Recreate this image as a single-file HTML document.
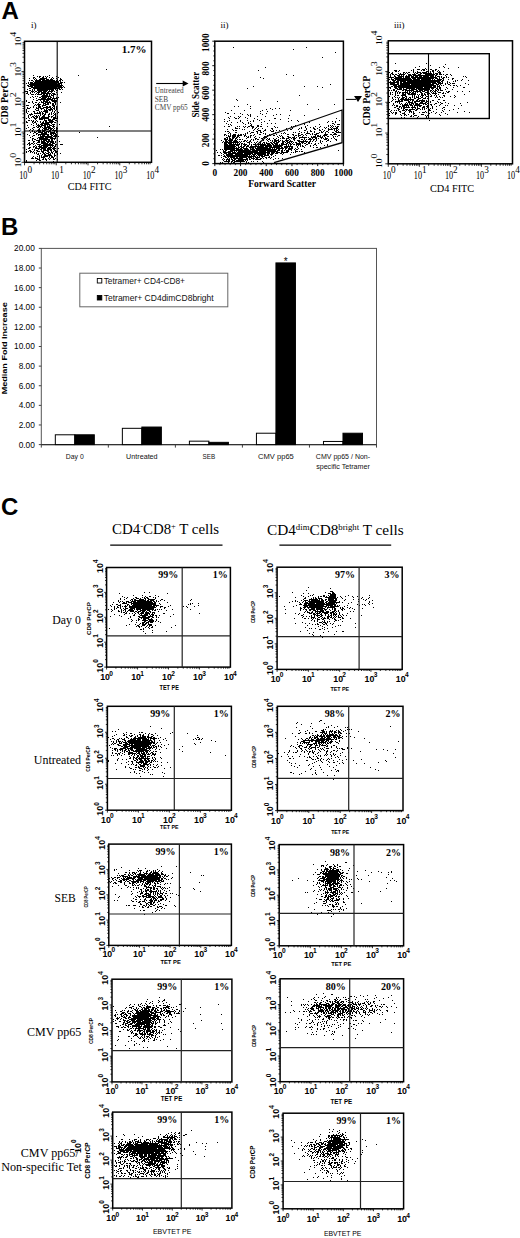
<!DOCTYPE html><html><head><meta charset="utf-8"><style>html,body{margin:0;padding:0;background:#fff}svg{display:block}</style></head><body><svg width="520" height="1238" viewBox="0 0 520 1238"><rect width="520" height="1238" fill="#fff"/><text x="1.5" y="19" font-family="Liberation Sans" font-size="24" font-weight="bold">A</text><text x="31" y="28.2" font-family="Liberation Serif" font-size="9">i)</text><path d="M106 69.5h1M33 75.5h1M49 75.5h1M78 75.5h1M37 76.5h1M39 76.5h2M43 76.5h1M45 76.5h1M47 76.5h1M56 76.5h1M33 77.5h2M39 77.5h1M42 77.5h2M46 77.5h1M49 77.5h1M52 77.5h1M58 77.5h1M29 78.5h1M33 78.5h1M35 78.5h1M40 78.5h7M51 78.5h1M53 78.5h1M56 78.5h1M60 78.5h1M34 79.5h1M36 79.5h1M39 79.5h6M46 79.5h3M50 79.5h3M57 79.5h1M60 79.5h2M29 80.5h1M31 80.5h2M35 80.5h6M42 80.5h13M56 80.5h2M59 80.5h2M62 80.5h1M33 81.5h1M35 81.5h24M60 81.5h1M28 82.5h1M30 82.5h3M34 82.5h25M60 82.5h3M64 82.5h1M26 83.5h1M28 83.5h1M30 83.5h27M58 83.5h4M29 84.5h31M61 84.5h1M27 85.5h2M30 85.5h33M28 86.5h5M34 86.5h28M63 86.5h1M31 87.5h26M58 87.5h5M64 87.5h1M29 88.5h2M33 88.5h27M61 88.5h1M27 89.5h1M32 89.5h1M34 89.5h1M37 89.5h17M55 89.5h1M57 89.5h1M59 89.5h2M62 89.5h1M29 90.5h2M32 90.5h1M34 90.5h1M37 90.5h11M49 90.5h1M51 90.5h3M56 90.5h2M25 91.5h3M31 91.5h3M35 91.5h2M38 91.5h4M43 91.5h4M48 91.5h5M54 91.5h1M27 92.5h1M30 92.5h1M32 92.5h1M34 92.5h1M37 92.5h3M41 92.5h5M47 92.5h2M51 92.5h1M56 92.5h1M61 92.5h1M26 93.5h2M30 93.5h1M36 93.5h1M38 93.5h1M41 93.5h10M52 93.5h3M28 94.5h1M31 94.5h3M35 94.5h1M37 94.5h5M43 94.5h2M46 94.5h2M49 94.5h1M51 94.5h1M53 94.5h3M57 94.5h1M42 95.5h6M49 95.5h1M51 95.5h3M32 96.5h1M35 96.5h1M37 96.5h1M41 96.5h10M53 96.5h1M30 97.5h1M33 97.5h1M39 97.5h2M42 97.5h5M48 97.5h1M50 97.5h2M53 97.5h1M56 97.5h1M58 97.5h1M36 98.5h1M41 98.5h5M47 98.5h4M52 98.5h6M33 99.5h1M38 99.5h15M54 99.5h1M57 99.5h1M26 100.5h1M36 100.5h2M40 100.5h1M43 100.5h2M46 100.5h3M51 100.5h6M26 101.5h1M32 101.5h1M41 101.5h1M43 101.5h5M49 101.5h1M52 101.5h5M28 102.5h2M32 102.5h1M35 102.5h2M39 102.5h1M41 102.5h3M45 102.5h6M54 102.5h2M60 102.5h1M33 103.5h1M38 103.5h1M43 103.5h3M47 103.5h2M50 103.5h1M52 103.5h2M55 103.5h1M35 104.5h1M37 104.5h4M43 104.5h1M45 104.5h4M52 104.5h2M55 104.5h1M26 105.5h3M34 105.5h1M36 105.5h1M38 105.5h2M42 105.5h4M52 105.5h3M33 106.5h1M38 106.5h3M42 106.5h1M46 106.5h2M49 106.5h2M53 106.5h2M56 106.5h1M27 107.5h1M30 107.5h1M33 107.5h1M36 107.5h1M38 107.5h3M43 107.5h8M52 107.5h1M54 107.5h1M56 107.5h1M27 108.5h3M36 108.5h3M40 108.5h4M46 108.5h2M50 108.5h2M53 108.5h2M56 108.5h1M26 109.5h1M35 109.5h1M38 109.5h1M41 109.5h1M44 109.5h1M46 109.5h1M48 109.5h5M54 109.5h1M56 109.5h1M26 110.5h1M36 110.5h3M44 110.5h4M49 110.5h2M52 110.5h1M55 110.5h1M26 111.5h1M28 111.5h1M33 111.5h2M39 111.5h1M41 111.5h1M43 111.5h5M52 111.5h1M54 111.5h1M57 111.5h1M26 112.5h1M34 112.5h1M37 112.5h1M39 112.5h2M42 112.5h1M45 112.5h3M51 112.5h1M54 112.5h1M58 112.5h1M27 113.5h1M31 113.5h1M34 113.5h7M42 113.5h2M45 113.5h1M49 113.5h1M51 113.5h1M53 113.5h1M55 113.5h1M57 113.5h1M29 114.5h4M40 114.5h1M42 114.5h1M44 114.5h2M48 114.5h2M51 114.5h1M54 114.5h2M28 115.5h1M30 115.5h1M34 115.5h1M36 115.5h1M38 115.5h1M40 115.5h1M43 115.5h2M48 115.5h1M53 115.5h1M55 115.5h1M28 116.5h1M32 116.5h2M35 116.5h3M39 116.5h1M42 116.5h3M48 116.5h2M51 116.5h2M55 116.5h1M57 116.5h1M28 117.5h1M31 117.5h1M33 117.5h2M36 117.5h2M39 117.5h1M41 117.5h8M51 117.5h1M53 117.5h3M57 117.5h1M26 118.5h1M29 118.5h1M34 118.5h3M39 118.5h10M53 118.5h5M35 119.5h1M39 119.5h4M44 119.5h1M48 119.5h3M52 119.5h3M28 120.5h2M31 120.5h1M33 120.5h1M36 120.5h1M44 120.5h3M48 120.5h5M55 120.5h2M26 121.5h1M32 121.5h2M35 121.5h1M37 121.5h1M40 121.5h1M43 121.5h1M45 121.5h2M49 121.5h5M57 121.5h1M26 122.5h2M32 122.5h1M34 122.5h2M40 122.5h1M42 122.5h2M45 122.5h8M54 122.5h2M33 123.5h1M36 123.5h1M41 123.5h8M51 123.5h1M31 124.5h1M36 124.5h1M38 124.5h1M40 124.5h3M44 124.5h6M52 124.5h3M59 124.5h1M27 125.5h1M33 125.5h1M37 125.5h3M41 125.5h5M47 125.5h1M49 125.5h3M53 125.5h1M36 126.5h1M38 126.5h4M44 126.5h2M47 126.5h3M52 126.5h3M109 126.5h1M28 127.5h1M33 127.5h2M37 127.5h2M40 127.5h1M42 127.5h1M44 127.5h7M53 127.5h1M56 127.5h1M26 128.5h1M32 128.5h1M39 128.5h1M43 128.5h4M48 128.5h5M54 128.5h1M56 128.5h2M30 129.5h1M33 129.5h1M38 129.5h2M42 129.5h1M44 129.5h5M50 129.5h2M53 129.5h1M56 129.5h1M29 130.5h1M32 130.5h1M37 130.5h4M42 130.5h4M49 130.5h2M52 130.5h5M32 131.5h1M34 131.5h1M36 131.5h1M38 131.5h3M42 131.5h3M46 131.5h5M54 131.5h1M56 131.5h2M30 132.5h1M34 132.5h2M38 132.5h5M44 132.5h3M48 132.5h1M50 132.5h5M56 132.5h1M79 132.5h1M33 133.5h1M36 133.5h2M41 133.5h6M50 133.5h6M27 134.5h1M36 134.5h1M38 134.5h11M50 134.5h2M53 134.5h1M55 134.5h2M29 135.5h1M33 135.5h2M38 135.5h1M40 135.5h1M42 135.5h3M47 135.5h2M51 135.5h2M54 135.5h3M32 136.5h1M40 136.5h12M53 136.5h4M58 136.5h1M30 137.5h1M38 137.5h6M45 137.5h8M55 137.5h1M97 137.5h1M32 138.5h2M37 138.5h1M39 138.5h9M50 138.5h6M32 139.5h1M34 139.5h2M39 139.5h11M51 139.5h2M54 139.5h1M28 140.5h2M32 140.5h1M36 140.5h4M41 140.5h1M43 140.5h4M48 140.5h2M51 140.5h2M57 140.5h1M33 141.5h2M38 141.5h2M41 141.5h4M46 141.5h8M55 141.5h1M59 141.5h1M29 142.5h1M33 142.5h1M37 142.5h3M41 142.5h5M47 142.5h2M50 142.5h4M55 142.5h1M28 143.5h2M31 143.5h2M34 143.5h1M36 143.5h1M41 143.5h7M49 143.5h2M52 143.5h3M27 144.5h1M29 144.5h2M33 144.5h1M37 144.5h4M43 144.5h10M55 144.5h2M60 144.5h3M29 145.5h1M35 145.5h1M39 145.5h1M41 145.5h13M55 145.5h1M33 146.5h2M36 146.5h1M38 146.5h4M43 146.5h5M50 146.5h1M52 146.5h1M54 146.5h2M29 147.5h2M33 147.5h1M35 147.5h2M39 147.5h8M48 147.5h4M53 147.5h2M28 148.5h2M35 148.5h5M41 148.5h5M47 148.5h4M52 148.5h4M58 148.5h1M26 149.5h1M32 149.5h1M34 149.5h1M38 149.5h1M40 149.5h2M43 149.5h3M47 149.5h5M53 149.5h2M29 150.5h2M34 150.5h1M36 150.5h2M41 150.5h1M43 150.5h6M50 150.5h2M54 150.5h2M26 151.5h1M28 151.5h1M30 151.5h2M33 151.5h1M37 151.5h3M41 151.5h3M47 151.5h2M51 151.5h1M53 151.5h1M55 151.5h3M26 152.5h1M30 152.5h1M32 152.5h1M34 152.5h1M36 152.5h1M42 152.5h2M45 152.5h1M48 152.5h2M51 152.5h2M55 152.5h2M34 153.5h1M36 153.5h1M38 153.5h1M40 153.5h1M43 153.5h2M46 153.5h3M50 153.5h1M52 153.5h1M54 153.5h1M57 153.5h1M60 153.5h1M37 154.5h2M42 154.5h1M44 154.5h2M48 154.5h3M54 154.5h1M57 154.5h1M39 155.5h1M41 155.5h1M44 155.5h8M54 155.5h2M33 156.5h1M37 156.5h1M39 156.5h1M41 156.5h1M43 156.5h5M49 156.5h1M51 156.5h2M54 156.5h1M32 157.5h1M35 157.5h1M39 157.5h1M41 157.5h4M49 157.5h1M51 157.5h3M31 158.5h3M35 158.5h3M39 158.5h1M43 158.5h1M45 158.5h1M48 158.5h1M50 158.5h1M53 158.5h1M55 158.5h1M37 159.5h3M42 159.5h2M45 159.5h2M49 159.5h1M53 159.5h2M57 159.5h1M26 160.5h1M36 160.5h1M39 160.5h2M46 160.5h1M26 161.5h1M53 161.5h1" stroke="#000" stroke-width="1" fill="none"/><rect x="24.5" y="41.3" width="127.0" height="121.00000000000001" fill="none" stroke="#000" stroke-width="1.5"/><line x1="57.2" y1="41.3" x2="57.2" y2="162.3" stroke="#000" stroke-width="1.1"/><line x1="24.5" y1="131" x2="151.5" y2="131" stroke="#000" stroke-width="1.1"/><line x1="24.5" y1="162.3" x2="24.5" y2="165.3" stroke="#000" stroke-width="0.8"/><line x1="34.06" y1="162.3" x2="34.06" y2="164.3" stroke="#000" stroke-width="0.8"/><line x1="39.65" y1="162.3" x2="39.65" y2="164.3" stroke="#000" stroke-width="0.8"/><line x1="43.62" y1="162.3" x2="43.62" y2="164.3" stroke="#000" stroke-width="0.8"/><line x1="46.69" y1="162.3" x2="46.69" y2="164.3" stroke="#000" stroke-width="0.8"/><line x1="49.21" y1="162.3" x2="49.21" y2="164.3" stroke="#000" stroke-width="0.8"/><line x1="51.33" y1="162.3" x2="51.33" y2="164.3" stroke="#000" stroke-width="0.8"/><line x1="53.17" y1="162.3" x2="53.17" y2="164.3" stroke="#000" stroke-width="0.8"/><line x1="54.8" y1="162.3" x2="54.8" y2="164.3" stroke="#000" stroke-width="0.8"/><line x1="56.25" y1="162.3" x2="56.25" y2="165.3" stroke="#000" stroke-width="0.8"/><line x1="65.81" y1="162.3" x2="65.81" y2="164.3" stroke="#000" stroke-width="0.8"/><line x1="71.4" y1="162.3" x2="71.4" y2="164.3" stroke="#000" stroke-width="0.8"/><line x1="75.37" y1="162.3" x2="75.37" y2="164.3" stroke="#000" stroke-width="0.8"/><line x1="78.44" y1="162.3" x2="78.44" y2="164.3" stroke="#000" stroke-width="0.8"/><line x1="80.96" y1="162.3" x2="80.96" y2="164.3" stroke="#000" stroke-width="0.8"/><line x1="83.08" y1="162.3" x2="83.08" y2="164.3" stroke="#000" stroke-width="0.8"/><line x1="84.92" y1="162.3" x2="84.92" y2="164.3" stroke="#000" stroke-width="0.8"/><line x1="86.55" y1="162.3" x2="86.55" y2="164.3" stroke="#000" stroke-width="0.8"/><line x1="88.0" y1="162.3" x2="88.0" y2="165.3" stroke="#000" stroke-width="0.8"/><line x1="97.56" y1="162.3" x2="97.56" y2="164.3" stroke="#000" stroke-width="0.8"/><line x1="103.15" y1="162.3" x2="103.15" y2="164.3" stroke="#000" stroke-width="0.8"/><line x1="107.12" y1="162.3" x2="107.12" y2="164.3" stroke="#000" stroke-width="0.8"/><line x1="110.19" y1="162.3" x2="110.19" y2="164.3" stroke="#000" stroke-width="0.8"/><line x1="112.71" y1="162.3" x2="112.71" y2="164.3" stroke="#000" stroke-width="0.8"/><line x1="114.83" y1="162.3" x2="114.83" y2="164.3" stroke="#000" stroke-width="0.8"/><line x1="116.67" y1="162.3" x2="116.67" y2="164.3" stroke="#000" stroke-width="0.8"/><line x1="118.3" y1="162.3" x2="118.3" y2="164.3" stroke="#000" stroke-width="0.8"/><line x1="119.75" y1="162.3" x2="119.75" y2="165.3" stroke="#000" stroke-width="0.8"/><line x1="129.31" y1="162.3" x2="129.31" y2="164.3" stroke="#000" stroke-width="0.8"/><line x1="134.9" y1="162.3" x2="134.9" y2="164.3" stroke="#000" stroke-width="0.8"/><line x1="138.87" y1="162.3" x2="138.87" y2="164.3" stroke="#000" stroke-width="0.8"/><line x1="141.94" y1="162.3" x2="141.94" y2="164.3" stroke="#000" stroke-width="0.8"/><line x1="144.46" y1="162.3" x2="144.46" y2="164.3" stroke="#000" stroke-width="0.8"/><line x1="146.58" y1="162.3" x2="146.58" y2="164.3" stroke="#000" stroke-width="0.8"/><line x1="148.42" y1="162.3" x2="148.42" y2="164.3" stroke="#000" stroke-width="0.8"/><line x1="150.05" y1="162.3" x2="150.05" y2="164.3" stroke="#000" stroke-width="0.8"/><line x1="24.5" y1="162.3" x2="21.5" y2="162.3" stroke="#000" stroke-width="0.8"/><line x1="24.5" y1="153.19" x2="22.5" y2="153.19" stroke="#000" stroke-width="0.8"/><line x1="24.5" y1="147.87" x2="22.5" y2="147.87" stroke="#000" stroke-width="0.8"/><line x1="24.5" y1="144.09" x2="22.5" y2="144.09" stroke="#000" stroke-width="0.8"/><line x1="24.5" y1="141.16" x2="22.5" y2="141.16" stroke="#000" stroke-width="0.8"/><line x1="24.5" y1="138.76" x2="22.5" y2="138.76" stroke="#000" stroke-width="0.8"/><line x1="24.5" y1="136.74" x2="22.5" y2="136.74" stroke="#000" stroke-width="0.8"/><line x1="24.5" y1="134.98" x2="22.5" y2="134.98" stroke="#000" stroke-width="0.8"/><line x1="24.5" y1="133.43" x2="22.5" y2="133.43" stroke="#000" stroke-width="0.8"/><line x1="24.5" y1="132.05" x2="21.5" y2="132.05" stroke="#000" stroke-width="0.8"/><line x1="24.5" y1="122.94" x2="22.5" y2="122.94" stroke="#000" stroke-width="0.8"/><line x1="24.5" y1="117.62" x2="22.5" y2="117.62" stroke="#000" stroke-width="0.8"/><line x1="24.5" y1="113.84" x2="22.5" y2="113.84" stroke="#000" stroke-width="0.8"/><line x1="24.5" y1="110.91" x2="22.5" y2="110.91" stroke="#000" stroke-width="0.8"/><line x1="24.5" y1="108.51" x2="22.5" y2="108.51" stroke="#000" stroke-width="0.8"/><line x1="24.5" y1="106.49" x2="22.5" y2="106.49" stroke="#000" stroke-width="0.8"/><line x1="24.5" y1="104.73" x2="22.5" y2="104.73" stroke="#000" stroke-width="0.8"/><line x1="24.5" y1="103.18" x2="22.5" y2="103.18" stroke="#000" stroke-width="0.8"/><line x1="24.5" y1="101.8" x2="21.5" y2="101.8" stroke="#000" stroke-width="0.8"/><line x1="24.5" y1="92.69" x2="22.5" y2="92.69" stroke="#000" stroke-width="0.8"/><line x1="24.5" y1="87.37" x2="22.5" y2="87.37" stroke="#000" stroke-width="0.8"/><line x1="24.5" y1="83.59" x2="22.5" y2="83.59" stroke="#000" stroke-width="0.8"/><line x1="24.5" y1="80.66" x2="22.5" y2="80.66" stroke="#000" stroke-width="0.8"/><line x1="24.5" y1="78.26" x2="22.5" y2="78.26" stroke="#000" stroke-width="0.8"/><line x1="24.5" y1="76.24" x2="22.5" y2="76.24" stroke="#000" stroke-width="0.8"/><line x1="24.5" y1="74.48" x2="22.5" y2="74.48" stroke="#000" stroke-width="0.8"/><line x1="24.5" y1="72.93" x2="22.5" y2="72.93" stroke="#000" stroke-width="0.8"/><line x1="24.5" y1="71.55" x2="21.5" y2="71.55" stroke="#000" stroke-width="0.8"/><line x1="24.5" y1="62.44" x2="22.5" y2="62.44" stroke="#000" stroke-width="0.8"/><line x1="24.5" y1="57.12" x2="22.5" y2="57.12" stroke="#000" stroke-width="0.8"/><line x1="24.5" y1="53.34" x2="22.5" y2="53.34" stroke="#000" stroke-width="0.8"/><line x1="24.5" y1="50.41" x2="22.5" y2="50.41" stroke="#000" stroke-width="0.8"/><line x1="24.5" y1="48.01" x2="22.5" y2="48.01" stroke="#000" stroke-width="0.8"/><line x1="24.5" y1="45.99" x2="22.5" y2="45.99" stroke="#000" stroke-width="0.8"/><line x1="24.5" y1="44.23" x2="22.5" y2="44.23" stroke="#000" stroke-width="0.8"/><line x1="24.5" y1="42.68" x2="22.5" y2="42.68" stroke="#000" stroke-width="0.8"/><text x="146.5" y="53" font-family="Liberation Serif" font-size="11" text-anchor="end" font-weight="bold">1.7%</text><text x="21.1" y="167.35" font-family="Liberation Serif" font-size="8.6" textLength="9.5" lengthAdjust="spacingAndGlyphs" transform="rotate(-90 21.1 167.35)">10</text><text x="16.5" y="157.85" font-family="Liberation Serif" font-size="8.8" textLength="5.0" lengthAdjust="spacingAndGlyphs" transform="rotate(-90 16.5 157.85)">0</text><text x="19.2" y="178.75" font-family="Liberation Serif" font-size="12" textLength="8.2" lengthAdjust="spacingAndGlyphs">10</text><text x="27.4" y="173.0" font-family="Liberation Serif" font-size="10" textLength="4.6" lengthAdjust="spacingAndGlyphs">0</text><text x="21.1" y="137.1" font-family="Liberation Serif" font-size="8.6" textLength="9.5" lengthAdjust="spacingAndGlyphs" transform="rotate(-90 21.1 137.1)">10</text><text x="16.5" y="127.6" font-family="Liberation Serif" font-size="8.8" textLength="5.0" lengthAdjust="spacingAndGlyphs" transform="rotate(-90 16.5 127.6)">1</text><text x="50.95" y="178.75" font-family="Liberation Serif" font-size="12" textLength="8.2" lengthAdjust="spacingAndGlyphs">10</text><text x="59.15" y="173.0" font-family="Liberation Serif" font-size="10" textLength="4.6" lengthAdjust="spacingAndGlyphs">1</text><text x="21.1" y="106.85" font-family="Liberation Serif" font-size="8.6" textLength="9.5" lengthAdjust="spacingAndGlyphs" transform="rotate(-90 21.1 106.85)">10</text><text x="16.5" y="97.35" font-family="Liberation Serif" font-size="8.8" textLength="5.0" lengthAdjust="spacingAndGlyphs" transform="rotate(-90 16.5 97.35)">2</text><text x="82.7" y="178.75" font-family="Liberation Serif" font-size="12" textLength="8.2" lengthAdjust="spacingAndGlyphs">10</text><text x="90.9" y="173.0" font-family="Liberation Serif" font-size="10" textLength="4.6" lengthAdjust="spacingAndGlyphs">2</text><text x="21.1" y="76.6" font-family="Liberation Serif" font-size="8.6" textLength="9.5" lengthAdjust="spacingAndGlyphs" transform="rotate(-90 21.1 76.6)">10</text><text x="16.5" y="67.1" font-family="Liberation Serif" font-size="8.8" textLength="5.0" lengthAdjust="spacingAndGlyphs" transform="rotate(-90 16.5 67.1)">3</text><text x="114.45" y="178.75" font-family="Liberation Serif" font-size="12" textLength="8.2" lengthAdjust="spacingAndGlyphs">10</text><text x="122.65" y="173.0" font-family="Liberation Serif" font-size="10" textLength="4.6" lengthAdjust="spacingAndGlyphs">3</text><text x="21.1" y="46.35" font-family="Liberation Serif" font-size="8.6" textLength="9.5" lengthAdjust="spacingAndGlyphs" transform="rotate(-90 21.1 46.35)">10</text><text x="16.5" y="36.85" font-family="Liberation Serif" font-size="8.8" textLength="5.0" lengthAdjust="spacingAndGlyphs" transform="rotate(-90 16.5 36.85)">4</text><text x="146.2" y="178.75" font-family="Liberation Serif" font-size="12" textLength="8.2" lengthAdjust="spacingAndGlyphs">10</text><text x="154.4" y="173.0" font-family="Liberation Serif" font-size="10" textLength="4.6" lengthAdjust="spacingAndGlyphs">4</text><text x="8.1" y="100" font-family="Liberation Serif" font-size="10" text-anchor="middle" font-weight="bold" textLength="49" lengthAdjust="spacingAndGlyphs" transform="rotate(-90 8.1 100)">CD8 PerCP</text><text x="67.7" y="189.8" font-family="Liberation Serif" font-size="10.2" textLength="43.8" lengthAdjust="spacingAndGlyphs">CD4 FITC</text><line x1="156.2" y1="83.5" x2="184" y2="83.5" stroke="#000" stroke-width="1.1"/><path d="M182.7 80.6L188.5 83.5L182.7 86.4Z" fill="#000"/><text x="154.8" y="93.1" font-family="Liberation Serif" font-size="7.3" fill="#444">Untreated</text><text x="154.8" y="101.7" font-family="Liberation Serif" font-size="7.3" fill="#444">SEB</text><text x="154.8" y="109.9" font-family="Liberation Serif" font-size="7.3" fill="#444">CMV pp65</text><text x="220.5" y="28.2" font-family="Liberation Serif" font-size="9">ii)</text><path d="M233 47.5h1M306 47.5h1M293 49.5h1M335 52.5h1M322 57.5h1M265 67.5h1M258 70.5h1M286 74.5h1M293 75.5h1M260 77.5h1M263 78.5h1M330 84.5h1M253 86.5h1M304 86.5h1M317 86.5h1M322 87.5h1M247 88.5h1M299 95.5h1M236 99.5h1M237 100.5h1M260 100.5h1M277 101.5h1M247 104.5h1M307 104.5h1M334 104.5h1M234 106.5h1M238 106.5h1M250 106.5h1M250 108.5h1M270 108.5h1M275 108.5h1M279 108.5h1M266 109.5h1M272 109.5h1M318 109.5h1M231 110.5h1M244 110.5h1M262 110.5h1M290 110.5h1M260 111.5h1M267 111.5h1M225 112.5h1M227 113.5h2M234 113.5h1M240 113.5h1M260 113.5h1M266 113.5h1M242 114.5h1M247 114.5h1M250 114.5h1M262 114.5h1M276 114.5h1M280 114.5h1M248 115.5h1M250 115.5h1M273 115.5h1M289 115.5h1M304 115.5h1M230 116.5h1M238 116.5h1M240 116.5h1M250 116.5h1M257 116.5h1M265 116.5h1M228 117.5h1M234 117.5h1M239 117.5h1M245 117.5h1M229 118.5h1M235 118.5h2M238 118.5h1M247 118.5h1M254 118.5h1M274 118.5h2M288 118.5h1M336 118.5h1M224 119.5h1M257 119.5h1M261 119.5h1M280 119.5h1M229 120.5h1M240 120.5h1M247 120.5h1M253 120.5h1M259 120.5h1M269 120.5h1M291 120.5h1M297 120.5h1M339 120.5h1M224 121.5h1M227 121.5h1M240 121.5h1M250 121.5h1M253 121.5h1M264 121.5h1M288 121.5h1M298 121.5h1M328 121.5h1M332 121.5h1M335 121.5h1M231 122.5h1M237 122.5h1M242 122.5h1M248 122.5h1M261 122.5h1M309 122.5h1M327 122.5h1M335 122.5h1M226 123.5h1M243 123.5h1M248 123.5h1M250 123.5h1M267 123.5h1M271 123.5h1M275 123.5h1M304 123.5h1M332 123.5h2M228 124.5h1M230 124.5h1M245 124.5h1M251 124.5h1M261 124.5h1M304 124.5h1M319 124.5h1M334 124.5h1M337 124.5h3M231 125.5h1M250 125.5h2M257 125.5h2M295 125.5h1M307 125.5h1M328 125.5h1M330 125.5h1M332 125.5h1M224 126.5h1M228 126.5h2M237 126.5h1M239 126.5h1M243 126.5h1M245 126.5h1M248 126.5h2M251 126.5h3M257 126.5h2M260 126.5h2M267 126.5h1M274 126.5h1M291 126.5h1M293 126.5h1M305 126.5h1M315 126.5h1M320 126.5h1M328 126.5h1M331 126.5h1M333 126.5h1M335 126.5h1M337 126.5h2M235 127.5h1M244 127.5h1M247 127.5h1M252 127.5h2M256 127.5h1M275 127.5h1M277 127.5h1M301 127.5h1M305 127.5h1M310 127.5h1M313 127.5h1M319 127.5h1M324 127.5h1M326 127.5h1M330 127.5h1M332 127.5h1M336 127.5h2M235 128.5h3M239 128.5h1M252 128.5h1M255 128.5h1M258 128.5h1M262 128.5h1M271 128.5h2M286 128.5h1M292 128.5h1M299 128.5h1M301 128.5h1M306 128.5h1M313 128.5h2M317 128.5h1M325 128.5h1M328 128.5h1M331 128.5h1M333 128.5h5M227 129.5h1M232 129.5h1M242 129.5h1M244 129.5h1M254 129.5h1M257 129.5h1M265 129.5h1M272 129.5h1M290 129.5h2M298 129.5h1M306 129.5h1M314 129.5h2M319 129.5h1M322 129.5h1M328 129.5h5M334 129.5h1M336 129.5h1M338 129.5h1M233 130.5h1M235 130.5h2M253 130.5h1M258 130.5h3M264 130.5h2M270 130.5h1M273 130.5h1M276 130.5h1M279 130.5h1M287 130.5h1M304 130.5h2M310 130.5h1M319 130.5h2M324 130.5h1M328 130.5h1M334 130.5h1M336 130.5h2M225 131.5h1M227 131.5h2M249 131.5h1M256 131.5h2M260 131.5h1M263 131.5h1M271 131.5h3M299 131.5h1M307 131.5h1M310 131.5h2M314 131.5h1M321 131.5h1M323 131.5h1M326 131.5h2M335 131.5h2M338 131.5h1M229 132.5h1M235 132.5h2M247 132.5h1M251 132.5h3M257 132.5h1M260 132.5h2M275 132.5h1M278 132.5h1M284 132.5h1M293 132.5h1M295 132.5h1M301 132.5h1M304 132.5h1M307 132.5h1M314 132.5h1M319 132.5h1M321 132.5h2M325 132.5h1M328 132.5h1M332 132.5h2M336 132.5h5M228 133.5h1M230 133.5h1M245 133.5h1M247 133.5h1M250 133.5h1M257 133.5h1M263 133.5h1M265 133.5h1M273 133.5h2M281 133.5h1M283 133.5h1M285 133.5h1M298 133.5h2M306 133.5h4M312 133.5h1M316 133.5h3M325 133.5h1M334 133.5h2M224 134.5h2M230 134.5h1M233 134.5h3M238 134.5h1M240 134.5h2M243 134.5h1M245 134.5h1M254 134.5h1M259 134.5h2M265 134.5h1M269 134.5h1M271 134.5h1M276 134.5h1M287 134.5h2M292 134.5h2M298 134.5h1M301 134.5h2M305 134.5h1M310 134.5h1M312 134.5h1M314 134.5h3M324 134.5h4M330 134.5h2M333 134.5h4M224 135.5h1M226 135.5h1M228 135.5h1M230 135.5h1M232 135.5h4M237 135.5h5M244 135.5h2M250 135.5h2M253 135.5h1M267 135.5h1M270 135.5h1M273 135.5h2M279 135.5h1M281 135.5h1M293 135.5h1M295 135.5h2M298 135.5h3M303 135.5h1M306 135.5h1M315 135.5h1M317 135.5h2M320 135.5h1M323 135.5h4M332 135.5h1M338 135.5h2M228 136.5h3M232 136.5h4M237 136.5h2M244 136.5h1M246 136.5h1M248 136.5h1M250 136.5h1M255 136.5h1M264 136.5h2M267 136.5h1M277 136.5h1M280 136.5h1M282 136.5h1M287 136.5h2M294 136.5h1M298 136.5h1M302 136.5h1M311 136.5h1M313 136.5h3M317 136.5h4M322 136.5h1M324 136.5h1M327 136.5h2M333 136.5h1M335 136.5h1M337 136.5h1M226 137.5h2M229 137.5h1M232 137.5h3M236 137.5h2M239 137.5h1M247 137.5h2M250 137.5h1M254 137.5h1M259 137.5h1M263 137.5h2M266 137.5h1M278 137.5h1M282 137.5h2M288 137.5h3M292 137.5h3M296 137.5h1M299 137.5h8M308 137.5h1M311 137.5h6M320 137.5h3M325 137.5h1M333 137.5h1M224 138.5h2M227 138.5h1M229 138.5h2M232 138.5h2M235 138.5h2M246 138.5h1M255 138.5h2M261 138.5h2M264 138.5h1M267 138.5h1M269 138.5h1M273 138.5h1M276 138.5h1M280 138.5h1M282 138.5h3M286 138.5h3M291 138.5h1M293 138.5h3M299 138.5h1M304 138.5h1M309 138.5h2M312 138.5h1M315 138.5h2M318 138.5h1M321 138.5h1M323 138.5h1M325 138.5h3M331 138.5h1M334 138.5h1M224 139.5h4M229 139.5h4M235 139.5h1M237 139.5h1M239 139.5h2M242 139.5h1M251 139.5h1M253 139.5h1M255 139.5h1M257 139.5h2M262 139.5h2M266 139.5h1M268 139.5h2M274 139.5h2M278 139.5h1M286 139.5h1M289 139.5h1M293 139.5h2M301 139.5h2M304 139.5h1M306 139.5h1M308 139.5h4M313 139.5h2M316 139.5h1M324 139.5h3M328 139.5h1M335 139.5h2M221 140.5h1M225 140.5h2M228 140.5h5M234 140.5h3M244 140.5h2M247 140.5h1M250 140.5h1M253 140.5h1M263 140.5h1M267 140.5h1M270 140.5h1M272 140.5h1M274 140.5h5M280 140.5h1M282 140.5h1M285 140.5h4M290 140.5h1M294 140.5h1M297 140.5h3M303 140.5h1M305 140.5h1M310 140.5h1M313 140.5h1M316 140.5h1M320 140.5h1M327 140.5h2M336 140.5h1M223 141.5h1M225 141.5h3M229 141.5h3M233 141.5h5M239 141.5h1M241 141.5h1M243 141.5h2M246 141.5h1M249 141.5h2M257 141.5h1M260 141.5h1M268 141.5h1M272 141.5h1M274 141.5h3M278 141.5h2M282 141.5h3M286 141.5h2M289 141.5h4M298 141.5h10M309 141.5h2M312 141.5h1M315 141.5h1M320 141.5h1M322 141.5h1M326 141.5h1M330 141.5h1M222 142.5h1M224 142.5h15M240 142.5h1M247 142.5h3M251 142.5h1M254 142.5h1M256 142.5h1M259 142.5h2M263 142.5h2M266 142.5h1M270 142.5h2M273 142.5h2M276 142.5h3M282 142.5h2M285 142.5h1M287 142.5h3M291 142.5h1M293 142.5h1M295 142.5h2M299 142.5h1M301 142.5h3M306 142.5h1M308 142.5h2M320 142.5h1M224 143.5h3M228 143.5h4M233 143.5h1M235 143.5h1M237 143.5h1M239 143.5h1M241 143.5h2M244 143.5h1M249 143.5h1M255 143.5h1M260 143.5h1M262 143.5h1M264 143.5h1M266 143.5h4M271 143.5h2M274 143.5h4M281 143.5h3M286 143.5h2M289 143.5h2M292 143.5h1M296 143.5h5M302 143.5h1M304 143.5h2M308 143.5h2M311 143.5h1M315 143.5h1M318 143.5h1M321 143.5h1M224 144.5h4M229 144.5h11M241 144.5h1M243 144.5h4M249 144.5h1M251 144.5h1M253 144.5h3M257 144.5h9M267 144.5h4M272 144.5h2M275 144.5h3M279 144.5h1M281 144.5h6M288 144.5h1M290 144.5h2M293 144.5h2M296 144.5h5M306 144.5h2M314 144.5h2M327 144.5h1M335 144.5h1M224 145.5h11M236 145.5h3M241 145.5h1M244 145.5h2M247 145.5h2M251 145.5h1M255 145.5h1M258 145.5h1M260 145.5h12M273 145.5h10M286 145.5h1M288 145.5h1M290 145.5h1M296 145.5h1M298 145.5h1M300 145.5h1M302 145.5h1M305 145.5h1M310 145.5h1M313 145.5h1M316 145.5h1M324 145.5h1M327 145.5h1M224 146.5h12M238 146.5h1M240 146.5h2M243 146.5h2M246 146.5h3M250 146.5h14M265 146.5h7M273 146.5h9M284 146.5h9M297 146.5h1M300 146.5h1M302 146.5h2M310 146.5h1M328 146.5h1M224 147.5h11M236 147.5h1M238 147.5h2M241 147.5h3M246 147.5h1M249 147.5h5M255 147.5h1M257 147.5h11M269 147.5h11M281 147.5h2M284 147.5h4M289 147.5h1M291 147.5h2M297 147.5h1M304 147.5h1M313 147.5h1M316 147.5h2M320 147.5h1M224 148.5h15M240 148.5h2M243 148.5h5M250 148.5h1M252 148.5h2M255 148.5h16M272 148.5h1M274 148.5h1M276 148.5h8M285 148.5h2M288 148.5h5M295 148.5h1M298 148.5h1M220 149.5h1M222 149.5h1M224 149.5h11M236 149.5h7M244 149.5h5M250 149.5h5M256 149.5h21M278 149.5h2M282 149.5h1M285 149.5h1M288 149.5h4M294 149.5h1M296 149.5h2M301 149.5h1M216 150.5h1M223 150.5h1M225 150.5h2M230 150.5h20M252 150.5h24M277 150.5h3M281 150.5h2M284 150.5h1M286 150.5h3M291 150.5h1M295 150.5h1M338 150.5h1M223 151.5h3M228 151.5h5M234 151.5h1M236 151.5h1M238 151.5h20M259 151.5h7M267 151.5h11M281 151.5h2M286 151.5h3M295 151.5h3M299 151.5h1M301 151.5h2M217 152.5h1M220 152.5h1M223 152.5h8M232 152.5h4M237 152.5h33M271 152.5h4M276 152.5h4M281 152.5h7M291 152.5h1M293 152.5h1M295 152.5h1M304 152.5h1M221 153.5h1M224 153.5h3M228 153.5h15M244 153.5h9M254 153.5h12M267 153.5h3M271 153.5h3M275 153.5h3M280 153.5h2M283 153.5h1M223 154.5h1M226 154.5h7M235 154.5h16M252 154.5h4M257 154.5h9M267 154.5h2M270 154.5h3M282 154.5h1M290 154.5h1M218 155.5h2M221 155.5h1M224 155.5h1M226 155.5h22M249 155.5h1M251 155.5h1M253 155.5h2M256 155.5h1M258 155.5h5M264 155.5h5M271 155.5h1M275 155.5h1M223 156.5h3M227 156.5h29M257 156.5h1M259 156.5h1M261 156.5h4M269 156.5h1M273 156.5h1M221 157.5h1M225 157.5h2M228 157.5h1M230 157.5h5M236 157.5h2M239 157.5h8M248 157.5h4M253 157.5h1M255 157.5h5M262 157.5h1M265 157.5h2M268 157.5h2M271 157.5h1M223 158.5h1M227 158.5h1M229 158.5h1M231 158.5h1M233 158.5h10M246 158.5h2M249 158.5h1M251 158.5h4M256 158.5h2M260 158.5h2M263 158.5h1M266 158.5h1M270 158.5h1M275 158.5h1M278 158.5h1M282 158.5h1M222 159.5h1M224 159.5h1M226 159.5h4M231 159.5h2M234 159.5h2M238 159.5h1M240 159.5h8M249 159.5h2M253 159.5h1M255 159.5h6M273 159.5h1M223 160.5h1M226 160.5h1M228 160.5h2M232 160.5h3M236 160.5h8M245 160.5h1M247 160.5h1M224 161.5h6M231 161.5h2M234 161.5h11M246 161.5h1M251 161.5h1M253 161.5h1M257 161.5h1M262 161.5h1M220 162.5h1M222 162.5h1M228 162.5h1M231 162.5h1M233 162.5h2M240 162.5h1M246 162.5h1M248 162.5h1M263 162.5h1" stroke="#000" stroke-width="1" fill="none"/><rect x="214.8" y="41.2" width="128.59999999999997" height="122.39999999999999" fill="none" stroke="#000" stroke-width="1.5"/><path d="M237.5 161L267 136.3L342 110L342 142.7L274 162.6" fill="none" stroke="#000" stroke-width="1.2"/><line x1="214.8" y1="163.6" x2="212.3" y2="163.6" stroke="#000" stroke-width="0.9"/><line x1="214.8" y1="158.704" x2="213.3" y2="158.704" stroke="#000" stroke-width="0.8"/><line x1="214.8" y1="153.808" x2="213.3" y2="153.808" stroke="#000" stroke-width="0.8"/><line x1="214.8" y1="148.912" x2="213.3" y2="148.912" stroke="#000" stroke-width="0.8"/><line x1="214.8" y1="144.016" x2="213.3" y2="144.016" stroke="#000" stroke-width="0.8"/><text x="209.3" y="163.3" font-family="Liberation Serif" font-size="9.3" text-anchor="middle" font-weight="bold" transform="rotate(-90 209.3 163.3)">0</text><line x1="214.8" y1="139.12" x2="212.3" y2="139.12" stroke="#000" stroke-width="0.9"/><line x1="214.8" y1="134.22400000000002" x2="213.3" y2="134.22400000000002" stroke="#000" stroke-width="0.8"/><line x1="214.8" y1="129.328" x2="213.3" y2="129.328" stroke="#000" stroke-width="0.8"/><line x1="214.8" y1="124.432" x2="213.3" y2="124.432" stroke="#000" stroke-width="0.8"/><line x1="214.8" y1="119.536" x2="213.3" y2="119.536" stroke="#000" stroke-width="0.8"/><text x="209.3" y="140.2" font-family="Liberation Serif" font-size="9.3" text-anchor="middle" font-weight="bold" transform="rotate(-90 209.3 140.2)">200</text><line x1="214.8" y1="114.64" x2="212.3" y2="114.64" stroke="#000" stroke-width="0.9"/><line x1="214.8" y1="109.744" x2="213.3" y2="109.744" stroke="#000" stroke-width="0.8"/><line x1="214.8" y1="104.848" x2="213.3" y2="104.848" stroke="#000" stroke-width="0.8"/><line x1="214.8" y1="99.952" x2="213.3" y2="99.952" stroke="#000" stroke-width="0.8"/><line x1="214.8" y1="95.05600000000001" x2="213.3" y2="95.05600000000001" stroke="#000" stroke-width="0.8"/><text x="209.3" y="114.6" font-family="Liberation Serif" font-size="9.3" text-anchor="middle" font-weight="bold" transform="rotate(-90 209.3 114.6)">400</text><line x1="214.8" y1="90.16" x2="212.3" y2="90.16" stroke="#000" stroke-width="0.9"/><line x1="214.8" y1="85.264" x2="213.3" y2="85.264" stroke="#000" stroke-width="0.8"/><line x1="214.8" y1="80.368" x2="213.3" y2="80.368" stroke="#000" stroke-width="0.8"/><line x1="214.8" y1="75.472" x2="213.3" y2="75.472" stroke="#000" stroke-width="0.8"/><line x1="214.8" y1="70.576" x2="213.3" y2="70.576" stroke="#000" stroke-width="0.8"/><text x="209.3" y="92.7" font-family="Liberation Serif" font-size="9.3" text-anchor="middle" font-weight="bold" transform="rotate(-90 209.3 92.7)">600</text><line x1="214.8" y1="65.68" x2="212.3" y2="65.68" stroke="#000" stroke-width="0.9"/><line x1="214.8" y1="60.784000000000006" x2="213.3" y2="60.784000000000006" stroke="#000" stroke-width="0.8"/><line x1="214.8" y1="55.888000000000005" x2="213.3" y2="55.888000000000005" stroke="#000" stroke-width="0.8"/><line x1="214.8" y1="50.992000000000004" x2="213.3" y2="50.992000000000004" stroke="#000" stroke-width="0.8"/><line x1="214.8" y1="46.09600000000001" x2="213.3" y2="46.09600000000001" stroke="#000" stroke-width="0.8"/><text x="209.3" y="68.4" font-family="Liberation Serif" font-size="9.3" text-anchor="middle" font-weight="bold" transform="rotate(-90 209.3 68.4)">800</text><line x1="214.8" y1="41.20000000000002" x2="212.3" y2="41.20000000000002" stroke="#000" stroke-width="0.9"/><text x="209.3" y="42.7" font-family="Liberation Serif" font-size="9.3" text-anchor="middle" font-weight="bold" transform="rotate(-90 209.3 42.7)">1000</text><line x1="214.8" y1="163.6" x2="214.8" y2="166.1" stroke="#000" stroke-width="0.9"/><line x1="219.94400000000002" y1="163.6" x2="219.94400000000002" y2="165.1" stroke="#000" stroke-width="0.8"/><line x1="225.08800000000002" y1="163.6" x2="225.08800000000002" y2="165.1" stroke="#000" stroke-width="0.8"/><line x1="230.232" y1="163.6" x2="230.232" y2="165.1" stroke="#000" stroke-width="0.8"/><line x1="235.376" y1="163.6" x2="235.376" y2="165.1" stroke="#000" stroke-width="0.8"/><text x="214.8" y="175.5" font-family="Liberation Serif" font-size="9.3" text-anchor="middle" font-weight="bold">0</text><line x1="240.52" y1="163.6" x2="240.52" y2="166.1" stroke="#000" stroke-width="0.9"/><line x1="245.66400000000002" y1="163.6" x2="245.66400000000002" y2="165.1" stroke="#000" stroke-width="0.8"/><line x1="250.808" y1="163.6" x2="250.808" y2="165.1" stroke="#000" stroke-width="0.8"/><line x1="255.952" y1="163.6" x2="255.952" y2="165.1" stroke="#000" stroke-width="0.8"/><line x1="261.096" y1="163.6" x2="261.096" y2="165.1" stroke="#000" stroke-width="0.8"/><text x="240.52" y="175.5" font-family="Liberation Serif" font-size="9.3" text-anchor="middle" font-weight="bold">200</text><line x1="266.24" y1="163.6" x2="266.24" y2="166.1" stroke="#000" stroke-width="0.9"/><line x1="271.384" y1="163.6" x2="271.384" y2="165.1" stroke="#000" stroke-width="0.8"/><line x1="276.528" y1="163.6" x2="276.528" y2="165.1" stroke="#000" stroke-width="0.8"/><line x1="281.672" y1="163.6" x2="281.672" y2="165.1" stroke="#000" stroke-width="0.8"/><line x1="286.81600000000003" y1="163.6" x2="286.81600000000003" y2="165.1" stroke="#000" stroke-width="0.8"/><text x="266.24" y="175.5" font-family="Liberation Serif" font-size="9.3" text-anchor="middle" font-weight="bold">400</text><line x1="291.96" y1="163.6" x2="291.96" y2="166.1" stroke="#000" stroke-width="0.9"/><line x1="297.104" y1="163.6" x2="297.104" y2="165.1" stroke="#000" stroke-width="0.8"/><line x1="302.248" y1="163.6" x2="302.248" y2="165.1" stroke="#000" stroke-width="0.8"/><line x1="307.392" y1="163.6" x2="307.392" y2="165.1" stroke="#000" stroke-width="0.8"/><line x1="312.53599999999994" y1="163.6" x2="312.53599999999994" y2="165.1" stroke="#000" stroke-width="0.8"/><text x="291.96" y="175.5" font-family="Liberation Serif" font-size="9.3" text-anchor="middle" font-weight="bold">600</text><line x1="317.67999999999995" y1="163.6" x2="317.67999999999995" y2="166.1" stroke="#000" stroke-width="0.9"/><line x1="322.82399999999996" y1="163.6" x2="322.82399999999996" y2="165.1" stroke="#000" stroke-width="0.8"/><line x1="327.96799999999996" y1="163.6" x2="327.96799999999996" y2="165.1" stroke="#000" stroke-width="0.8"/><line x1="333.11199999999997" y1="163.6" x2="333.11199999999997" y2="165.1" stroke="#000" stroke-width="0.8"/><line x1="338.256" y1="163.6" x2="338.256" y2="165.1" stroke="#000" stroke-width="0.8"/><text x="317.68" y="175.5" font-family="Liberation Serif" font-size="9.3" text-anchor="middle" font-weight="bold">800</text><line x1="343.4" y1="163.6" x2="343.4" y2="166.1" stroke="#000" stroke-width="0.9"/><text x="343.4" y="175.5" font-family="Liberation Serif" font-size="9.3" text-anchor="middle" font-weight="bold">1000</text><text x="198.6" y="94.7" font-family="Liberation Serif" font-size="9.5" text-anchor="middle" font-weight="bold" textLength="45.8" lengthAdjust="spacingAndGlyphs" transform="rotate(-90 198.6 94.7)">Side Scatter</text><text x="282.1" y="186.5" font-family="Liberation Serif" font-size="9.5" text-anchor="middle" font-weight="bold" textLength="67.8" lengthAdjust="spacingAndGlyphs">Forward Scatter</text><line x1="346" y1="99.4" x2="356" y2="99.4" stroke="#000" stroke-width="1"/><path d="M354 96L362 96L358 102Z" fill="#000"/><text x="394" y="28.2" font-family="Liberation Serif" font-size="9">iii)</text><path d="M395 63.5h1M426 63.5h1M445 64.5h1M428 65.5h1M430 65.5h1M419 66.5h1M443 66.5h1M415 67.5h1M439 67.5h1M444 67.5h1M458 67.5h1M425 68.5h1M448 68.5h1M413 69.5h1M417 69.5h3M422 69.5h3M426 69.5h1M428 69.5h1M430 69.5h2M435 69.5h2M394 70.5h3M399 70.5h1M411 70.5h1M413 70.5h1M421 70.5h1M423 70.5h2M428 70.5h1M432 70.5h2M435 70.5h1M438 70.5h1M395 71.5h2M398 71.5h1M413 71.5h1M417 71.5h1M426 71.5h3M430 71.5h1M432 71.5h2M437 71.5h1M439 71.5h1M443 71.5h1M389 72.5h1M392 72.5h1M403 72.5h2M406 72.5h1M408 72.5h2M413 72.5h1M415 72.5h1M417 72.5h4M422 72.5h5M428 72.5h1M430 72.5h1M433 72.5h1M438 72.5h3M391 73.5h2M398 73.5h1M400 73.5h1M403 73.5h1M405 73.5h1M407 73.5h1M414 73.5h1M416 73.5h2M420 73.5h2M423 73.5h9M433 73.5h1M435 73.5h3M439 73.5h2M390 74.5h1M392 74.5h2M395 74.5h2M399 74.5h6M408 74.5h3M412 74.5h4M418 74.5h3M425 74.5h10M436 74.5h2M439 74.5h3M443 74.5h1M446 74.5h2M450 74.5h1M390 75.5h1M394 75.5h1M397 75.5h3M401 75.5h1M403 75.5h1M406 75.5h1M408 75.5h4M413 75.5h21M435 75.5h2M445 75.5h1M451 75.5h1M390 76.5h1M394 76.5h2M398 76.5h6M405 76.5h5M411 76.5h3M415 76.5h3M419 76.5h3M423 76.5h6M430 76.5h4M435 76.5h1M437 76.5h3M441 76.5h1M446 76.5h1M463 76.5h1M465 76.5h1M389 77.5h5M395 77.5h7M403 77.5h1M405 77.5h5M411 77.5h26M439 77.5h1M441 77.5h1M443 77.5h2M446 77.5h1M448 77.5h1M466 77.5h1M391 78.5h1M394 78.5h17M412 78.5h4M417 78.5h17M435 78.5h3M439 78.5h1M442 78.5h2M452 78.5h2M389 79.5h1M391 79.5h3M395 79.5h17M413 79.5h7M421 79.5h10M432 79.5h1M434 79.5h1M437 79.5h5M443 79.5h1M448 79.5h1M452 79.5h1M462 79.5h1M392 80.5h4M397 80.5h44M442 80.5h2M455 80.5h1M457 80.5h1M461 80.5h1M468 80.5h1M390 81.5h1M393 81.5h2M396 81.5h3M400 81.5h6M407 81.5h33M441 81.5h2M447 81.5h1M453 81.5h1M455 81.5h1M389 82.5h10M400 82.5h2M403 82.5h33M437 82.5h4M442 82.5h1M447 82.5h1M449 82.5h1M390 83.5h5M397 83.5h2M400 83.5h31M432 83.5h5M438 83.5h5M445 83.5h1M447 83.5h1M450 83.5h1M452 83.5h3M465 83.5h1M390 84.5h9M400 84.5h10M411 84.5h23M436 84.5h3M440 84.5h1M445 84.5h1M448 84.5h2M468 84.5h1M393 85.5h4M398 85.5h38M437 85.5h1M439 85.5h1M441 85.5h1M443 85.5h1M450 85.5h1M453 85.5h2M456 85.5h1M460 85.5h1M391 86.5h2M394 86.5h38M433 86.5h3M437 86.5h3M457 86.5h1M389 87.5h2M394 87.5h3M398 87.5h25M424 87.5h12M437 87.5h1M439 87.5h2M446 87.5h1M453 87.5h1M463 87.5h2M390 88.5h1M395 88.5h3M399 88.5h3M403 88.5h1M406 88.5h9M416 88.5h14M431 88.5h3M436 88.5h2M439 88.5h2M447 88.5h1M393 89.5h2M397 89.5h5M403 89.5h4M409 89.5h1M411 89.5h6M418 89.5h10M429 89.5h1M432 89.5h1M435 89.5h1M437 89.5h2M440 89.5h1M445 89.5h1M452 89.5h1M389 90.5h1M391 90.5h1M393 90.5h2M396 90.5h1M402 90.5h2M405 90.5h9M416 90.5h2M419 90.5h4M424 90.5h4M430 90.5h2M433 90.5h1M435 90.5h2M438 90.5h1M440 90.5h3M395 91.5h2M398 91.5h1M405 91.5h1M407 91.5h1M409 91.5h1M411 91.5h1M413 91.5h8M422 91.5h3M427 91.5h1M430 91.5h1M432 91.5h1M434 91.5h2M437 91.5h1M446 91.5h1M448 91.5h2M457 91.5h1M462 91.5h1M469 91.5h1M390 92.5h1M392 92.5h1M395 92.5h1M397 92.5h1M399 92.5h2M402 92.5h6M409 92.5h2M412 92.5h2M415 92.5h1M417 92.5h1M420 92.5h2M425 92.5h4M431 92.5h1M433 92.5h1M435 92.5h1M438 92.5h3M443 92.5h1M447 92.5h2M390 93.5h1M395 93.5h1M397 93.5h1M399 93.5h1M402 93.5h2M405 93.5h1M407 93.5h3M411 93.5h5M421 93.5h2M424 93.5h1M427 93.5h3M432 93.5h5M442 93.5h2M445 93.5h1M390 94.5h1M392 94.5h1M395 94.5h1M402 94.5h4M408 94.5h8M417 94.5h1M419 94.5h1M421 94.5h2M424 94.5h2M427 94.5h1M430 94.5h1M435 94.5h1M438 94.5h1M464 94.5h1M395 95.5h1M397 95.5h2M401 95.5h5M412 95.5h1M414 95.5h1M418 95.5h1M421 95.5h3M425 95.5h1M431 95.5h1M434 95.5h1M436 95.5h1M443 95.5h2M454 95.5h1M389 96.5h1M394 96.5h1M402 96.5h1M405 96.5h2M412 96.5h1M414 96.5h1M416 96.5h1M418 96.5h1M420 96.5h1M422 96.5h1M426 96.5h2M430 96.5h2M436 96.5h1M439 96.5h1M444 96.5h1M450 96.5h1M455 96.5h1M392 97.5h1M395 97.5h1M397 97.5h1M399 97.5h1M402 97.5h3M406 97.5h1M409 97.5h2M412 97.5h1M414 97.5h1M416 97.5h3M421 97.5h2M425 97.5h1M428 97.5h1M435 97.5h1M437 97.5h1M440 97.5h1M442 97.5h1M454 97.5h1M392 98.5h1M398 98.5h1M401 98.5h3M405 98.5h2M408 98.5h1M410 98.5h1M414 98.5h2M418 98.5h3M423 98.5h3M427 98.5h2M393 99.5h1M395 99.5h1M398 99.5h1M400 99.5h14M417 99.5h2M422 99.5h1M428 99.5h1M438 99.5h2M392 100.5h1M398 100.5h2M401 100.5h2M404 100.5h5M410 100.5h1M412 100.5h2M416 100.5h2M419 100.5h6M426 100.5h1M432 100.5h2M443 100.5h2M391 101.5h1M395 101.5h8M408 101.5h2M412 101.5h1M414 101.5h6M421 101.5h4M426 101.5h3M430 101.5h1M437 101.5h1M389 102.5h1M395 102.5h1M397 102.5h1M399 102.5h1M406 102.5h1M408 102.5h5M414 102.5h2M420 102.5h3M425 102.5h2M428 102.5h1M430 102.5h1M438 102.5h1M440 102.5h1M445 102.5h1M467 102.5h1M393 103.5h1M399 103.5h1M401 103.5h1M405 103.5h1M407 103.5h1M409 103.5h1M411 103.5h3M415 103.5h3M419 103.5h7M427 103.5h2M435 103.5h2M441 103.5h2M448 103.5h1M460 103.5h1M393 104.5h1M400 104.5h1M402 104.5h1M404 104.5h4M409 104.5h3M413 104.5h1M415 104.5h5M423 104.5h1M425 104.5h2M428 104.5h1M430 104.5h2M434 104.5h1M440 104.5h1M392 105.5h1M394 105.5h1M396 105.5h2M402 105.5h7M410 105.5h3M414 105.5h8M427 105.5h1M431 105.5h1M439 105.5h1M445 105.5h1M447 105.5h1M454 105.5h1M461 105.5h1M396 106.5h2M399 106.5h2M402 106.5h3M406 106.5h1M408 106.5h1M412 106.5h1M414 106.5h1M417 106.5h1M419 106.5h2M423 106.5h2M426 106.5h2M432 106.5h1M436 106.5h1M394 107.5h2M399 107.5h1M401 107.5h1M403 107.5h7M411 107.5h5M417 107.5h1M422 107.5h3M427 107.5h1M432 107.5h1M443 107.5h2M397 108.5h2M401 108.5h1M403 108.5h2M412 108.5h1M415 108.5h1M417 108.5h3M422 108.5h1M424 108.5h1M426 108.5h1M428 108.5h1M430 108.5h1M432 108.5h1M442 108.5h1M458 108.5h1M389 109.5h1M398 109.5h2M403 109.5h1M405 109.5h3M409 109.5h6M416 109.5h2M420 109.5h1M422 109.5h1M424 109.5h1M429 109.5h1M436 109.5h1M444 109.5h1M453 109.5h1M391 110.5h1M394 110.5h1M396 110.5h1M398 110.5h1M402 110.5h3M406 110.5h1M408 110.5h3M415 110.5h2M428 110.5h3M442 110.5h1M449 110.5h1M390 111.5h1M399 111.5h2M405 111.5h1M409 111.5h3M413 111.5h1M425 111.5h1M433 111.5h1M443 111.5h1M464 111.5h1M391 112.5h1M393 112.5h1M395 112.5h2M400 112.5h1M404 112.5h1M409 112.5h1M411 112.5h1M413 112.5h1M419 112.5h1M422 112.5h3M426 112.5h1M431 112.5h1M436 112.5h1M441 112.5h1M457 112.5h1M469 112.5h1M389 113.5h1M392 113.5h1M395 113.5h2M402 113.5h3M413 113.5h2M429 113.5h1M435 113.5h1M445 113.5h1M395 114.5h1M400 114.5h1M404 114.5h2M408 114.5h1M413 114.5h1M421 114.5h3M428 114.5h1M439 114.5h1M447 114.5h1M389 115.5h1M401 115.5h1M404 115.5h1M406 115.5h1M411 115.5h1M414 115.5h3M425 115.5h1M427 115.5h1M440 115.5h1M410 116.5h2M413 116.5h1M418 116.5h1M426 116.5h1M401 117.5h1M404 117.5h1M417 117.5h1M426 117.5h1M429 120.5h1" stroke="#000" stroke-width="1" fill="none"/><rect x="388.3" y="40.8" width="124.19999999999999" height="123.00000000000001" fill="none" stroke="#000" stroke-width="1.5"/><rect x="388.3" y="53.7" width="101.0" height="64.8" fill="none" stroke="#000" stroke-width="1.4"/><line x1="428.5" y1="53.7" x2="428.5" y2="118.5" stroke="#000" stroke-width="1.1"/><line x1="388.3" y1="163.8" x2="388.3" y2="166.8" stroke="#000" stroke-width="0.8"/><line x1="397.65" y1="163.8" x2="397.65" y2="165.8" stroke="#000" stroke-width="0.8"/><line x1="403.11" y1="163.8" x2="403.11" y2="165.8" stroke="#000" stroke-width="0.8"/><line x1="406.99" y1="163.8" x2="406.99" y2="165.8" stroke="#000" stroke-width="0.8"/><line x1="410.0" y1="163.8" x2="410.0" y2="165.8" stroke="#000" stroke-width="0.8"/><line x1="412.46" y1="163.8" x2="412.46" y2="165.8" stroke="#000" stroke-width="0.8"/><line x1="414.54" y1="163.8" x2="414.54" y2="165.8" stroke="#000" stroke-width="0.8"/><line x1="416.34" y1="163.8" x2="416.34" y2="165.8" stroke="#000" stroke-width="0.8"/><line x1="417.93" y1="163.8" x2="417.93" y2="165.8" stroke="#000" stroke-width="0.8"/><line x1="419.35" y1="163.8" x2="419.35" y2="166.8" stroke="#000" stroke-width="0.8"/><line x1="428.7" y1="163.8" x2="428.7" y2="165.8" stroke="#000" stroke-width="0.8"/><line x1="434.16" y1="163.8" x2="434.16" y2="165.8" stroke="#000" stroke-width="0.8"/><line x1="438.04" y1="163.8" x2="438.04" y2="165.8" stroke="#000" stroke-width="0.8"/><line x1="441.05" y1="163.8" x2="441.05" y2="165.8" stroke="#000" stroke-width="0.8"/><line x1="443.51" y1="163.8" x2="443.51" y2="165.8" stroke="#000" stroke-width="0.8"/><line x1="445.59" y1="163.8" x2="445.59" y2="165.8" stroke="#000" stroke-width="0.8"/><line x1="447.39" y1="163.8" x2="447.39" y2="165.8" stroke="#000" stroke-width="0.8"/><line x1="448.98" y1="163.8" x2="448.98" y2="165.8" stroke="#000" stroke-width="0.8"/><line x1="450.4" y1="163.8" x2="450.4" y2="166.8" stroke="#000" stroke-width="0.8"/><line x1="459.75" y1="163.8" x2="459.75" y2="165.8" stroke="#000" stroke-width="0.8"/><line x1="465.21" y1="163.8" x2="465.21" y2="165.8" stroke="#000" stroke-width="0.8"/><line x1="469.09" y1="163.8" x2="469.09" y2="165.8" stroke="#000" stroke-width="0.8"/><line x1="472.1" y1="163.8" x2="472.1" y2="165.8" stroke="#000" stroke-width="0.8"/><line x1="474.56" y1="163.8" x2="474.56" y2="165.8" stroke="#000" stroke-width="0.8"/><line x1="476.64" y1="163.8" x2="476.64" y2="165.8" stroke="#000" stroke-width="0.8"/><line x1="478.44" y1="163.8" x2="478.44" y2="165.8" stroke="#000" stroke-width="0.8"/><line x1="480.03" y1="163.8" x2="480.03" y2="165.8" stroke="#000" stroke-width="0.8"/><line x1="481.45" y1="163.8" x2="481.45" y2="166.8" stroke="#000" stroke-width="0.8"/><line x1="490.8" y1="163.8" x2="490.8" y2="165.8" stroke="#000" stroke-width="0.8"/><line x1="496.26" y1="163.8" x2="496.26" y2="165.8" stroke="#000" stroke-width="0.8"/><line x1="500.14" y1="163.8" x2="500.14" y2="165.8" stroke="#000" stroke-width="0.8"/><line x1="503.15" y1="163.8" x2="503.15" y2="165.8" stroke="#000" stroke-width="0.8"/><line x1="505.61" y1="163.8" x2="505.61" y2="165.8" stroke="#000" stroke-width="0.8"/><line x1="507.69" y1="163.8" x2="507.69" y2="165.8" stroke="#000" stroke-width="0.8"/><line x1="509.49" y1="163.8" x2="509.49" y2="165.8" stroke="#000" stroke-width="0.8"/><line x1="511.08" y1="163.8" x2="511.08" y2="165.8" stroke="#000" stroke-width="0.8"/><line x1="388.3" y1="163.8" x2="385.3" y2="163.8" stroke="#000" stroke-width="0.8"/><line x1="388.3" y1="154.54" x2="386.3" y2="154.54" stroke="#000" stroke-width="0.8"/><line x1="388.3" y1="149.13" x2="386.3" y2="149.13" stroke="#000" stroke-width="0.8"/><line x1="388.3" y1="145.29" x2="386.3" y2="145.29" stroke="#000" stroke-width="0.8"/><line x1="388.3" y1="142.31" x2="386.3" y2="142.31" stroke="#000" stroke-width="0.8"/><line x1="388.3" y1="139.87" x2="386.3" y2="139.87" stroke="#000" stroke-width="0.8"/><line x1="388.3" y1="137.81" x2="386.3" y2="137.81" stroke="#000" stroke-width="0.8"/><line x1="388.3" y1="136.03" x2="386.3" y2="136.03" stroke="#000" stroke-width="0.8"/><line x1="388.3" y1="134.46" x2="386.3" y2="134.46" stroke="#000" stroke-width="0.8"/><line x1="388.3" y1="133.05" x2="385.3" y2="133.05" stroke="#000" stroke-width="0.8"/><line x1="388.3" y1="123.79" x2="386.3" y2="123.79" stroke="#000" stroke-width="0.8"/><line x1="388.3" y1="118.38" x2="386.3" y2="118.38" stroke="#000" stroke-width="0.8"/><line x1="388.3" y1="114.54" x2="386.3" y2="114.54" stroke="#000" stroke-width="0.8"/><line x1="388.3" y1="111.56" x2="386.3" y2="111.56" stroke="#000" stroke-width="0.8"/><line x1="388.3" y1="109.12" x2="386.3" y2="109.12" stroke="#000" stroke-width="0.8"/><line x1="388.3" y1="107.06" x2="386.3" y2="107.06" stroke="#000" stroke-width="0.8"/><line x1="388.3" y1="105.28" x2="386.3" y2="105.28" stroke="#000" stroke-width="0.8"/><line x1="388.3" y1="103.71" x2="386.3" y2="103.71" stroke="#000" stroke-width="0.8"/><line x1="388.3" y1="102.3" x2="385.3" y2="102.3" stroke="#000" stroke-width="0.8"/><line x1="388.3" y1="93.04" x2="386.3" y2="93.04" stroke="#000" stroke-width="0.8"/><line x1="388.3" y1="87.63" x2="386.3" y2="87.63" stroke="#000" stroke-width="0.8"/><line x1="388.3" y1="83.79" x2="386.3" y2="83.79" stroke="#000" stroke-width="0.8"/><line x1="388.3" y1="80.81" x2="386.3" y2="80.81" stroke="#000" stroke-width="0.8"/><line x1="388.3" y1="78.37" x2="386.3" y2="78.37" stroke="#000" stroke-width="0.8"/><line x1="388.3" y1="76.31" x2="386.3" y2="76.31" stroke="#000" stroke-width="0.8"/><line x1="388.3" y1="74.53" x2="386.3" y2="74.53" stroke="#000" stroke-width="0.8"/><line x1="388.3" y1="72.96" x2="386.3" y2="72.96" stroke="#000" stroke-width="0.8"/><line x1="388.3" y1="71.55" x2="385.3" y2="71.55" stroke="#000" stroke-width="0.8"/><line x1="388.3" y1="62.29" x2="386.3" y2="62.29" stroke="#000" stroke-width="0.8"/><line x1="388.3" y1="56.88" x2="386.3" y2="56.88" stroke="#000" stroke-width="0.8"/><line x1="388.3" y1="53.04" x2="386.3" y2="53.04" stroke="#000" stroke-width="0.8"/><line x1="388.3" y1="50.06" x2="386.3" y2="50.06" stroke="#000" stroke-width="0.8"/><line x1="388.3" y1="47.62" x2="386.3" y2="47.62" stroke="#000" stroke-width="0.8"/><line x1="388.3" y1="45.56" x2="386.3" y2="45.56" stroke="#000" stroke-width="0.8"/><line x1="388.3" y1="43.78" x2="386.3" y2="43.78" stroke="#000" stroke-width="0.8"/><line x1="388.3" y1="42.21" x2="386.3" y2="42.21" stroke="#000" stroke-width="0.8"/><text x="382" y="168.05" font-family="Liberation Serif" font-size="8.6" textLength="9.5" lengthAdjust="spacingAndGlyphs" transform="rotate(-90 382 168.05)">10</text><text x="376.7" y="158.55" font-family="Liberation Serif" font-size="8.8" textLength="5.0" lengthAdjust="spacingAndGlyphs" transform="rotate(-90 376.7 158.55)">0</text><text x="382.8" y="179.2" font-family="Liberation Serif" font-size="12" textLength="8.2" lengthAdjust="spacingAndGlyphs">10</text><text x="391.0" y="173.45" font-family="Liberation Serif" font-size="10" textLength="4.6" lengthAdjust="spacingAndGlyphs">0</text><text x="382" y="137.3" font-family="Liberation Serif" font-size="8.6" textLength="9.5" lengthAdjust="spacingAndGlyphs" transform="rotate(-90 382 137.3)">10</text><text x="376.7" y="127.8" font-family="Liberation Serif" font-size="8.8" textLength="5.0" lengthAdjust="spacingAndGlyphs" transform="rotate(-90 376.7 127.8)">1</text><text x="413.85" y="179.2" font-family="Liberation Serif" font-size="12" textLength="8.2" lengthAdjust="spacingAndGlyphs">10</text><text x="422.05" y="173.45" font-family="Liberation Serif" font-size="10" textLength="4.6" lengthAdjust="spacingAndGlyphs">1</text><text x="382" y="106.55" font-family="Liberation Serif" font-size="8.6" textLength="9.5" lengthAdjust="spacingAndGlyphs" transform="rotate(-90 382 106.55)">10</text><text x="376.7" y="97.05" font-family="Liberation Serif" font-size="8.8" textLength="5.0" lengthAdjust="spacingAndGlyphs" transform="rotate(-90 376.7 97.05)">2</text><text x="444.9" y="179.2" font-family="Liberation Serif" font-size="12" textLength="8.2" lengthAdjust="spacingAndGlyphs">10</text><text x="453.1" y="173.45" font-family="Liberation Serif" font-size="10" textLength="4.6" lengthAdjust="spacingAndGlyphs">2</text><text x="382" y="75.8" font-family="Liberation Serif" font-size="8.6" textLength="9.5" lengthAdjust="spacingAndGlyphs" transform="rotate(-90 382 75.8)">10</text><text x="376.7" y="66.3" font-family="Liberation Serif" font-size="8.8" textLength="5.0" lengthAdjust="spacingAndGlyphs" transform="rotate(-90 376.7 66.3)">3</text><text x="475.95" y="179.2" font-family="Liberation Serif" font-size="12" textLength="8.2" lengthAdjust="spacingAndGlyphs">10</text><text x="484.15" y="173.45" font-family="Liberation Serif" font-size="10" textLength="4.6" lengthAdjust="spacingAndGlyphs">3</text><text x="382" y="45.05" font-family="Liberation Serif" font-size="8.6" textLength="9.5" lengthAdjust="spacingAndGlyphs" transform="rotate(-90 382 45.05)">10</text><text x="376.7" y="35.55" font-family="Liberation Serif" font-size="8.8" textLength="5.0" lengthAdjust="spacingAndGlyphs" transform="rotate(-90 376.7 35.55)">4</text><text x="507.0" y="179.2" font-family="Liberation Serif" font-size="12" textLength="8.2" lengthAdjust="spacingAndGlyphs">10</text><text x="515.2" y="173.45" font-family="Liberation Serif" font-size="10" textLength="4.6" lengthAdjust="spacingAndGlyphs">4</text><text x="369.7" y="100.6" font-family="Liberation Serif" font-size="10" text-anchor="middle" font-weight="bold" textLength="50" lengthAdjust="spacingAndGlyphs" transform="rotate(-90 369.7 100.6)">CD8 PerCP</text><text x="430" y="191.6" font-family="Liberation Serif" font-size="10.2" textLength="44.2" lengthAdjust="spacingAndGlyphs">CD4 FITC</text><text x="1.0" y="234.6" font-family="Liberation Sans" font-size="24" font-weight="bold">B</text><rect x="41.3" y="248.4" width="335.2" height="196.20000000000002" fill="none" stroke="#555" stroke-width="1"/><line x1="38.8" y1="444.6" x2="41.3" y2="444.6" stroke="#444" stroke-width="1"/><text x="34.8" y="447.5" font-family="Liberation Sans" font-size="8.3" text-anchor="end">0.00</text><line x1="38.8" y1="424.98" x2="41.3" y2="424.98" stroke="#444" stroke-width="1"/><text x="34.8" y="427.88" font-family="Liberation Sans" font-size="8.3" text-anchor="end">2.00</text><line x1="38.8" y1="405.36" x2="41.3" y2="405.36" stroke="#444" stroke-width="1"/><text x="34.8" y="408.26" font-family="Liberation Sans" font-size="8.3" text-anchor="end">4.00</text><line x1="38.8" y1="385.74" x2="41.3" y2="385.74" stroke="#444" stroke-width="1"/><text x="34.8" y="388.64" font-family="Liberation Sans" font-size="8.3" text-anchor="end">6.00</text><line x1="38.8" y1="366.12" x2="41.3" y2="366.12" stroke="#444" stroke-width="1"/><text x="34.8" y="369.02" font-family="Liberation Sans" font-size="8.3" text-anchor="end">8.00</text><line x1="38.8" y1="346.5" x2="41.3" y2="346.5" stroke="#444" stroke-width="1"/><text x="34.8" y="349.4" font-family="Liberation Sans" font-size="8.3" text-anchor="end">10.00</text><line x1="38.8" y1="326.88" x2="41.3" y2="326.88" stroke="#444" stroke-width="1"/><text x="34.8" y="329.78" font-family="Liberation Sans" font-size="8.3" text-anchor="end">12.00</text><line x1="38.8" y1="307.26" x2="41.3" y2="307.26" stroke="#444" stroke-width="1"/><text x="34.8" y="310.16" font-family="Liberation Sans" font-size="8.3" text-anchor="end">14.00</text><line x1="38.8" y1="287.64" x2="41.3" y2="287.64" stroke="#444" stroke-width="1"/><text x="34.8" y="290.54" font-family="Liberation Sans" font-size="8.3" text-anchor="end">16.00</text><line x1="38.8" y1="268.02" x2="41.3" y2="268.02" stroke="#444" stroke-width="1"/><text x="34.8" y="270.92" font-family="Liberation Sans" font-size="8.3" text-anchor="end">18.00</text><line x1="38.8" y1="248.4" x2="41.3" y2="248.4" stroke="#444" stroke-width="1"/><text x="34.8" y="251.3" font-family="Liberation Sans" font-size="8.3" text-anchor="end">20.00</text><line x1="41.3" y1="444.6" x2="41.3" y2="447.6" stroke="#444" stroke-width="1"/><line x1="108.34" y1="444.6" x2="108.34" y2="447.6" stroke="#444" stroke-width="1"/><line x1="175.38" y1="444.6" x2="175.38" y2="447.6" stroke="#444" stroke-width="1"/><line x1="242.42" y1="444.6" x2="242.42" y2="447.6" stroke="#444" stroke-width="1"/><line x1="309.46" y1="444.6" x2="309.46" y2="447.6" stroke="#444" stroke-width="1"/><line x1="376.5" y1="444.6" x2="376.5" y2="447.6" stroke="#444" stroke-width="1"/><line x1="41.3" y1="444.6" x2="376.5" y2="444.6" stroke="#333" stroke-width="1.1"/><rect x="55.32" y="434.79" width="19.5" height="9.81" fill="#fff" stroke="#000" stroke-width="1"/><rect x="74.82" y="434.79" width="19.5" height="9.81" fill="#000" stroke="#000" stroke-width="1"/><rect x="122.36" y="428.32" width="19.5" height="16.28" fill="#fff" stroke="#000" stroke-width="1"/><rect x="141.86" y="427.04" width="19.5" height="17.56" fill="#000" stroke="#000" stroke-width="1"/><rect x="189.40" y="441.17" width="19.5" height="3.43" fill="#fff" stroke="#000" stroke-width="1"/><rect x="208.90" y="442.34" width="19.5" height="2.26" fill="#000" stroke="#000" stroke-width="1"/><rect x="256.44" y="433.22" width="19.5" height="11.38" fill="#fff" stroke="#000" stroke-width="1"/><rect x="275.94" y="262.92" width="19.5" height="181.68" fill="#000" stroke="#000" stroke-width="1"/><rect x="323.48" y="441.46" width="19.5" height="3.14" fill="#fff" stroke="#000" stroke-width="1"/><rect x="342.98" y="433.22" width="19.5" height="11.38" fill="#000" stroke="#000" stroke-width="1"/><text x="285.6" y="265" font-family="Liberation Sans" font-size="10" text-anchor="middle">*</text><text x="74.82" y="458.5" font-family="Liberation Sans" font-size="7.6" text-anchor="middle" textLength="17.9" lengthAdjust="spacingAndGlyphs" fill="#111">Day 0</text><text x="141.86" y="458.5" font-family="Liberation Sans" font-size="7.6" text-anchor="middle" textLength="31.5" lengthAdjust="spacingAndGlyphs" fill="#111">Untreated</text><text x="208.9" y="458.5" font-family="Liberation Sans" font-size="7.6" text-anchor="middle" textLength="12.6" lengthAdjust="spacingAndGlyphs" fill="#111">SEB</text><text x="275.94" y="458.5" font-family="Liberation Sans" font-size="7.6" text-anchor="middle" textLength="35.8" lengthAdjust="spacingAndGlyphs" fill="#111">CMV pp65</text><text x="342.98" y="458.5" font-family="Liberation Sans" font-size="7.6" text-anchor="middle" textLength="54.3" lengthAdjust="spacingAndGlyphs" fill="#111">CMV pp65 / Non-</text><text x="342.98" y="468.5" font-family="Liberation Sans" font-size="7.6" text-anchor="middle" textLength="53.7" lengthAdjust="spacingAndGlyphs" fill="#111">specific Tetramer</text><rect x="79.8" y="273.2" width="148" height="33.6" fill="#fff" stroke="#666" stroke-width="1"/><rect x="97.3" y="278.5" width="4.5" height="4.5" fill="#fff" stroke="#000" stroke-width="0.9"/><rect x="97.3" y="295.5" width="4.5" height="4.5" fill="#000" stroke="#000" stroke-width="0.9"/><text x="103.7" y="283.6" font-family="Liberation Sans" font-size="8.4" textLength="81.3" lengthAdjust="spacingAndGlyphs" fill="#111">Tetramer+ CD4-CD8+</text><text x="103.7" y="300.6" font-family="Liberation Sans" font-size="8.4" textLength="110" lengthAdjust="spacingAndGlyphs" fill="#111">Tetramer+ CD4dimCD8bright</text><text x="7.4" y="348.3" font-family="Liberation Sans" font-size="8" text-anchor="middle" font-weight="bold" textLength="92" lengthAdjust="spacingAndGlyphs" transform="rotate(-90 7.4 348.3)">Median Fold Increase</text><text x="1.0" y="515.2" font-family="Liberation Sans" font-size="24" font-weight="bold">C</text><text x="112.1" y="534.2" font-family="Liberation Serif" font-size="14" textLength="107" lengthAdjust="spacingAndGlyphs" fill="#000">CD4<tspan font-size="8" dy="-5">-</tspan><tspan dy="5">CD8</tspan><tspan font-size="8" dy="-5">+</tspan><tspan dy="5"> T cells</tspan></text><text x="267" y="534.5" font-family="Liberation Serif" font-size="14" textLength="136.6" lengthAdjust="spacingAndGlyphs">CD4<tspan font-size="8" dy="-5">dim</tspan><tspan dy="5">CD8</tspan><tspan font-size="8" dy="-5">bright</tspan><tspan dy="5"> T cells</tspan></text><line x1="110.2" y1="545.2" x2="222.5" y2="545.2" stroke="#000" stroke-width="1.3"/><line x1="279.4" y1="545.2" x2="391.2" y2="545.2" stroke="#000" stroke-width="1.3"/><text x="52.3" y="624.3" font-family="Liberation Serif" font-size="12" textLength="28.5" lengthAdjust="spacingAndGlyphs">Day 0</text><text x="33.8" y="763.9" font-family="Liberation Serif" font-size="12" textLength="47.2" lengthAdjust="spacingAndGlyphs">Untreated</text><text x="54.6" y="902.3" font-family="Liberation Serif" font-size="12" textLength="21.1" lengthAdjust="spacingAndGlyphs">SEB</text><text x="27.1" y="1036" font-family="Liberation Serif" font-size="12" textLength="54.3" lengthAdjust="spacingAndGlyphs">CMV pp65</text><text x="20.8" y="1157.3" font-family="Liberation Serif" font-size="12" textLength="58" lengthAdjust="spacingAndGlyphs">CMV pp65/</text><text x="1.2" y="1170.5" font-family="Liberation Serif" font-size="12" textLength="80.8" lengthAdjust="spacingAndGlyphs">Non-specific Tet</text><text x="80.5" y="1153.0" font-family="Liberation Sans" font-size="8.6" font-weight="bold" textLength="10.0" lengthAdjust="spacingAndGlyphs" transform="rotate(-90 80.5 1153.0)">10</text><text x="75.8" y="1143.0" font-family="Liberation Sans" font-size="6.5" font-weight="bold" textLength="3.6" lengthAdjust="spacingAndGlyphs" transform="rotate(-90 75.8 1143.0)">0</text><path d="M144 592.5h1M149 592.5h1M119 593.5h1M167 593.5h1M133 595.5h1M142 595.5h1M155 595.5h1M122 596.5h1M145 596.5h1M149 596.5h2M158 596.5h1M124 597.5h1M127 597.5h1M135 597.5h2M142 597.5h1M144 597.5h1M146 597.5h2M153 597.5h1M155 597.5h1M120 598.5h1M126 598.5h1M133 598.5h1M136 598.5h3M140 598.5h1M144 598.5h2M147 598.5h2M155 598.5h1M120 599.5h1M124 599.5h1M131 599.5h2M134 599.5h2M139 599.5h5M145 599.5h1M148 599.5h7M161 599.5h2M191 599.5h1M118 600.5h1M130 600.5h1M132 600.5h1M134 600.5h12M147 600.5h2M150 600.5h4M156 600.5h1M160 600.5h1M164 600.5h1M190 600.5h1M118 601.5h1M120 601.5h1M122 601.5h1M126 601.5h3M131 601.5h5M137 601.5h15M153 601.5h2M156 601.5h1M158 601.5h1M113 602.5h1M119 602.5h1M123 602.5h2M126 602.5h1M128 602.5h4M133 602.5h20M154 602.5h2M167 602.5h1M122 603.5h5M131 603.5h25M159 603.5h1M190 603.5h1M192 603.5h1M198 603.5h1M112 604.5h1M116 604.5h2M120 604.5h1M127 604.5h2M131 604.5h1M133 604.5h23M160 604.5h1M188 604.5h1M190 604.5h1M110 605.5h1M118 605.5h3M125 605.5h1M127 605.5h1M129 605.5h1M132 605.5h20M153 605.5h6M170 605.5h1M198 605.5h1M111 606.5h1M114 606.5h1M117 606.5h1M120 606.5h1M122 606.5h1M124 606.5h3M129 606.5h26M156 606.5h1M160 606.5h3M168 606.5h1M183 606.5h1M186 606.5h1M194 606.5h1M114 607.5h1M117 607.5h2M120 607.5h1M125 607.5h1M129 607.5h27M160 607.5h1M164 607.5h2M187 607.5h1M114 608.5h1M116 608.5h1M120 608.5h1M123 608.5h1M125 608.5h3M130 608.5h5M136 608.5h18M164 608.5h1M108 609.5h1M111 609.5h1M114 609.5h1M121 609.5h1M124 609.5h2M129 609.5h4M134 609.5h1M136 609.5h5M142 609.5h12M155 609.5h1M157 609.5h1M159 609.5h1M161 609.5h1M172 609.5h1M190 609.5h1M112 610.5h1M118 610.5h1M121 610.5h1M123 610.5h1M125 610.5h1M128 610.5h6M137 610.5h1M140 610.5h6M147 610.5h3M152 610.5h1M154 610.5h2M166 610.5h1M111 611.5h1M118 611.5h2M121 611.5h1M125 611.5h1M127 611.5h1M130 611.5h4M135 611.5h2M138 611.5h3M142 611.5h3M146 611.5h1M149 611.5h2M158 611.5h1M121 612.5h1M123 612.5h2M126 612.5h1M134 612.5h1M137 612.5h2M141 612.5h3M145 612.5h4M150 612.5h1M152 612.5h3M125 613.5h2M129 613.5h1M132 613.5h1M135 613.5h1M138 613.5h1M140 613.5h4M145 613.5h5M152 613.5h1M154 613.5h1M163 613.5h2M199 613.5h1M114 614.5h1M124 614.5h1M134 614.5h1M139 614.5h1M141 614.5h1M144 614.5h4M149 614.5h1M151 614.5h3M173 614.5h1M119 615.5h1M133 615.5h2M140 615.5h8M150 615.5h1M152 615.5h2M155 615.5h2M159 615.5h1M110 616.5h1M121 616.5h1M130 616.5h1M138 616.5h2M142 616.5h4M148 616.5h5M156 616.5h1M170 616.5h1M130 617.5h1M139 617.5h11M152 617.5h2M156 617.5h1M158 617.5h1M128 618.5h1M138 618.5h1M141 618.5h1M143 618.5h6M151 618.5h1M131 619.5h1M138 619.5h2M143 619.5h3M148 619.5h5M156 619.5h1M132 620.5h1M136 620.5h1M138 620.5h1M142 620.5h6M149 620.5h5M156 620.5h1M131 621.5h1M144 621.5h2M148 621.5h6M155 621.5h1M158 621.5h1M136 622.5h1M142 622.5h3M146 622.5h3M150 622.5h3M160 622.5h1M140 623.5h1M142 623.5h2M145 623.5h2M148 623.5h1M129 624.5h1M135 624.5h1M139 624.5h1M142 624.5h4M148 624.5h4M126 625.5h1M137 625.5h2M142 625.5h3M147 625.5h1M149 625.5h3M155 625.5h1M175 625.5h1M136 626.5h1M138 626.5h2M141 626.5h1M146 626.5h1M149 626.5h1M152 626.5h1M139 627.5h1M145 627.5h1M148 627.5h1M151 627.5h2M171 627.5h1M109 628.5h1M143 628.5h1M149 628.5h1M140 629.5h2M143 629.5h1M152 630.5h1M143 631.5h1M166 631.5h1M152 632.5h1M145 633.5h1" stroke="#000" stroke-width="1" fill="none"/><rect x="106.6" y="567.5" width="123.80000000000001" height="99.60000000000002" fill="none" stroke="#000" stroke-width="1.5"/><line x1="182.2" y1="567.5" x2="182.2" y2="667.1" stroke="#222" stroke-width="1.2"/><line x1="106.6" y1="635.9" x2="230.4" y2="635.9" stroke="#222" stroke-width="1.2"/><line x1="106.6" y1="667.1" x2="106.6" y2="669.5" stroke="#000" stroke-width="0.8"/><line x1="115.92" y1="667.1" x2="115.92" y2="668.7" stroke="#000" stroke-width="0.8"/><line x1="121.37" y1="667.1" x2="121.37" y2="668.7" stroke="#000" stroke-width="0.8"/><line x1="125.23" y1="667.1" x2="125.23" y2="668.7" stroke="#000" stroke-width="0.8"/><line x1="128.23" y1="667.1" x2="128.23" y2="668.7" stroke="#000" stroke-width="0.8"/><line x1="130.68" y1="667.1" x2="130.68" y2="668.7" stroke="#000" stroke-width="0.8"/><line x1="132.76" y1="667.1" x2="132.76" y2="668.7" stroke="#000" stroke-width="0.8"/><line x1="134.55" y1="667.1" x2="134.55" y2="668.7" stroke="#000" stroke-width="0.8"/><line x1="136.13" y1="667.1" x2="136.13" y2="668.7" stroke="#000" stroke-width="0.8"/><line x1="137.55" y1="667.1" x2="137.55" y2="669.5" stroke="#000" stroke-width="0.8"/><line x1="146.87" y1="667.1" x2="146.87" y2="668.7" stroke="#000" stroke-width="0.8"/><line x1="152.32" y1="667.1" x2="152.32" y2="668.7" stroke="#000" stroke-width="0.8"/><line x1="156.18" y1="667.1" x2="156.18" y2="668.7" stroke="#000" stroke-width="0.8"/><line x1="159.18" y1="667.1" x2="159.18" y2="668.7" stroke="#000" stroke-width="0.8"/><line x1="161.63" y1="667.1" x2="161.63" y2="668.7" stroke="#000" stroke-width="0.8"/><line x1="163.71" y1="667.1" x2="163.71" y2="668.7" stroke="#000" stroke-width="0.8"/><line x1="165.5" y1="667.1" x2="165.5" y2="668.7" stroke="#000" stroke-width="0.8"/><line x1="167.08" y1="667.1" x2="167.08" y2="668.7" stroke="#000" stroke-width="0.8"/><line x1="168.5" y1="667.1" x2="168.5" y2="669.5" stroke="#000" stroke-width="0.8"/><line x1="177.82" y1="667.1" x2="177.82" y2="668.7" stroke="#000" stroke-width="0.8"/><line x1="183.27" y1="667.1" x2="183.27" y2="668.7" stroke="#000" stroke-width="0.8"/><line x1="187.13" y1="667.1" x2="187.13" y2="668.7" stroke="#000" stroke-width="0.8"/><line x1="190.13" y1="667.1" x2="190.13" y2="668.7" stroke="#000" stroke-width="0.8"/><line x1="192.58" y1="667.1" x2="192.58" y2="668.7" stroke="#000" stroke-width="0.8"/><line x1="194.66" y1="667.1" x2="194.66" y2="668.7" stroke="#000" stroke-width="0.8"/><line x1="196.45" y1="667.1" x2="196.45" y2="668.7" stroke="#000" stroke-width="0.8"/><line x1="198.03" y1="667.1" x2="198.03" y2="668.7" stroke="#000" stroke-width="0.8"/><line x1="199.45" y1="667.1" x2="199.45" y2="669.5" stroke="#000" stroke-width="0.8"/><line x1="208.77" y1="667.1" x2="208.77" y2="668.7" stroke="#000" stroke-width="0.8"/><line x1="214.22" y1="667.1" x2="214.22" y2="668.7" stroke="#000" stroke-width="0.8"/><line x1="218.08" y1="667.1" x2="218.08" y2="668.7" stroke="#000" stroke-width="0.8"/><line x1="221.08" y1="667.1" x2="221.08" y2="668.7" stroke="#000" stroke-width="0.8"/><line x1="223.53" y1="667.1" x2="223.53" y2="668.7" stroke="#000" stroke-width="0.8"/><line x1="225.61" y1="667.1" x2="225.61" y2="668.7" stroke="#000" stroke-width="0.8"/><line x1="227.4" y1="667.1" x2="227.4" y2="668.7" stroke="#000" stroke-width="0.8"/><line x1="228.98" y1="667.1" x2="228.98" y2="668.7" stroke="#000" stroke-width="0.8"/><line x1="106.6" y1="667.1" x2="104.19999999999999" y2="667.1" stroke="#000" stroke-width="0.8"/><line x1="106.6" y1="659.6" x2="105.0" y2="659.6" stroke="#000" stroke-width="0.8"/><line x1="106.6" y1="655.22" x2="105.0" y2="655.22" stroke="#000" stroke-width="0.8"/><line x1="106.6" y1="652.11" x2="105.0" y2="652.11" stroke="#000" stroke-width="0.8"/><line x1="106.6" y1="649.7" x2="105.0" y2="649.7" stroke="#000" stroke-width="0.8"/><line x1="106.6" y1="647.72" x2="105.0" y2="647.72" stroke="#000" stroke-width="0.8"/><line x1="106.6" y1="646.06" x2="105.0" y2="646.06" stroke="#000" stroke-width="0.8"/><line x1="106.6" y1="644.61" x2="105.0" y2="644.61" stroke="#000" stroke-width="0.8"/><line x1="106.6" y1="643.34" x2="105.0" y2="643.34" stroke="#000" stroke-width="0.8"/><line x1="106.6" y1="642.2" x2="104.19999999999999" y2="642.2" stroke="#000" stroke-width="0.8"/><line x1="106.6" y1="634.7" x2="105.0" y2="634.7" stroke="#000" stroke-width="0.8"/><line x1="106.6" y1="630.32" x2="105.0" y2="630.32" stroke="#000" stroke-width="0.8"/><line x1="106.6" y1="627.21" x2="105.0" y2="627.21" stroke="#000" stroke-width="0.8"/><line x1="106.6" y1="624.8" x2="105.0" y2="624.8" stroke="#000" stroke-width="0.8"/><line x1="106.6" y1="622.82" x2="105.0" y2="622.82" stroke="#000" stroke-width="0.8"/><line x1="106.6" y1="621.16" x2="105.0" y2="621.16" stroke="#000" stroke-width="0.8"/><line x1="106.6" y1="619.71" x2="105.0" y2="619.71" stroke="#000" stroke-width="0.8"/><line x1="106.6" y1="618.44" x2="105.0" y2="618.44" stroke="#000" stroke-width="0.8"/><line x1="106.6" y1="617.3" x2="104.19999999999999" y2="617.3" stroke="#000" stroke-width="0.8"/><line x1="106.6" y1="609.8" x2="105.0" y2="609.8" stroke="#000" stroke-width="0.8"/><line x1="106.6" y1="605.42" x2="105.0" y2="605.42" stroke="#000" stroke-width="0.8"/><line x1="106.6" y1="602.31" x2="105.0" y2="602.31" stroke="#000" stroke-width="0.8"/><line x1="106.6" y1="599.9" x2="105.0" y2="599.9" stroke="#000" stroke-width="0.8"/><line x1="106.6" y1="597.92" x2="105.0" y2="597.92" stroke="#000" stroke-width="0.8"/><line x1="106.6" y1="596.26" x2="105.0" y2="596.26" stroke="#000" stroke-width="0.8"/><line x1="106.6" y1="594.81" x2="105.0" y2="594.81" stroke="#000" stroke-width="0.8"/><line x1="106.6" y1="593.54" x2="105.0" y2="593.54" stroke="#000" stroke-width="0.8"/><line x1="106.6" y1="592.4" x2="104.19999999999999" y2="592.4" stroke="#000" stroke-width="0.8"/><line x1="106.6" y1="584.9" x2="105.0" y2="584.9" stroke="#000" stroke-width="0.8"/><line x1="106.6" y1="580.52" x2="105.0" y2="580.52" stroke="#000" stroke-width="0.8"/><line x1="106.6" y1="577.41" x2="105.0" y2="577.41" stroke="#000" stroke-width="0.8"/><line x1="106.6" y1="575.0" x2="105.0" y2="575.0" stroke="#000" stroke-width="0.8"/><line x1="106.6" y1="573.02" x2="105.0" y2="573.02" stroke="#000" stroke-width="0.8"/><line x1="106.6" y1="571.36" x2="105.0" y2="571.36" stroke="#000" stroke-width="0.8"/><line x1="106.6" y1="569.91" x2="105.0" y2="569.91" stroke="#000" stroke-width="0.8"/><line x1="106.6" y1="568.64" x2="105.0" y2="568.64" stroke="#000" stroke-width="0.8"/><text x="178.2" y="578.4" font-family="Liberation Serif" font-size="10" text-anchor="end" font-weight="bold">99%</text><text x="227.8" y="578.4" font-family="Liberation Serif" font-size="10" text-anchor="end" font-weight="bold">1%</text><text x="102.6" y="672.7" font-family="Liberation Sans" font-size="8.6" font-weight="bold" textLength="10.0" lengthAdjust="spacingAndGlyphs" transform="rotate(-90 102.6 672.7)">10</text><text x="97.9" y="662.7" font-family="Liberation Sans" font-size="6.5" font-weight="bold" textLength="3.6" lengthAdjust="spacingAndGlyphs" transform="rotate(-90 97.9 662.7)">0</text><text x="100.2" y="680.4" font-family="Liberation Sans" font-size="8.4" font-weight="bold" textLength="9.8" lengthAdjust="spacingAndGlyphs">10</text><text x="109.3" y="675.7" font-family="Liberation Sans" font-size="6.6" font-weight="bold">0</text><text x="102.6" y="647.8" font-family="Liberation Sans" font-size="8.6" font-weight="bold" textLength="10.0" lengthAdjust="spacingAndGlyphs" transform="rotate(-90 102.6 647.8)">10</text><text x="97.9" y="637.8" font-family="Liberation Sans" font-size="6.5" font-weight="bold" textLength="3.6" lengthAdjust="spacingAndGlyphs" transform="rotate(-90 97.9 637.8)">1</text><text x="131.15" y="680.4" font-family="Liberation Sans" font-size="8.4" font-weight="bold" textLength="9.8" lengthAdjust="spacingAndGlyphs">10</text><text x="140.25" y="675.7" font-family="Liberation Sans" font-size="6.6" font-weight="bold">1</text><text x="102.6" y="622.9" font-family="Liberation Sans" font-size="8.6" font-weight="bold" textLength="10.0" lengthAdjust="spacingAndGlyphs" transform="rotate(-90 102.6 622.9)">10</text><text x="97.9" y="612.9" font-family="Liberation Sans" font-size="6.5" font-weight="bold" textLength="3.6" lengthAdjust="spacingAndGlyphs" transform="rotate(-90 97.9 612.9)">2</text><text x="162.1" y="680.4" font-family="Liberation Sans" font-size="8.4" font-weight="bold" textLength="9.8" lengthAdjust="spacingAndGlyphs">10</text><text x="171.2" y="675.7" font-family="Liberation Sans" font-size="6.6" font-weight="bold">2</text><text x="102.6" y="598.0" font-family="Liberation Sans" font-size="8.6" font-weight="bold" textLength="10.0" lengthAdjust="spacingAndGlyphs" transform="rotate(-90 102.6 598.0)">10</text><text x="97.9" y="588.0" font-family="Liberation Sans" font-size="6.5" font-weight="bold" textLength="3.6" lengthAdjust="spacingAndGlyphs" transform="rotate(-90 97.9 588.0)">3</text><text x="193.05" y="680.4" font-family="Liberation Sans" font-size="8.4" font-weight="bold" textLength="9.8" lengthAdjust="spacingAndGlyphs">10</text><text x="202.15" y="675.7" font-family="Liberation Sans" font-size="6.6" font-weight="bold">3</text><text x="102.6" y="573.1" font-family="Liberation Sans" font-size="8.6" font-weight="bold" textLength="10.0" lengthAdjust="spacingAndGlyphs" transform="rotate(-90 102.6 573.1)">10</text><text x="97.9" y="563.1" font-family="Liberation Sans" font-size="6.5" font-weight="bold" textLength="3.6" lengthAdjust="spacingAndGlyphs" transform="rotate(-90 97.9 563.1)">4</text><text x="224.0" y="680.4" font-family="Liberation Sans" font-size="8.4" font-weight="bold" textLength="9.8" lengthAdjust="spacingAndGlyphs">10</text><text x="233.1" y="675.7" font-family="Liberation Sans" font-size="6.6" font-weight="bold">4</text><text x="169.2" y="690.4" font-family="Liberation Sans" font-size="6.8" text-anchor="middle" font-weight="bold" textLength="19.3" lengthAdjust="spacingAndGlyphs">TET PE</text><text x="91" y="618.5" font-family="Liberation Sans" font-size="4.6" text-anchor="middle" font-weight="bold" textLength="33" lengthAdjust="spacingAndGlyphs" transform="rotate(-90 91 618.5)">CD8 PerCP</text><path d="M308 587.5h1M330 588.5h1M306 590.5h1M330 591.5h3M292 592.5h1M325 592.5h1M332 592.5h2M303 593.5h1M308 593.5h1M328 593.5h3M332 593.5h3M313 594.5h1M330 594.5h6M301 595.5h1M310 595.5h1M312 595.5h1M323 595.5h2M328 595.5h1M330 595.5h6M348 595.5h1M369 595.5h1M279 596.5h1M303 596.5h1M308 596.5h1M318 596.5h1M320 596.5h2M323 596.5h2M326 596.5h1M329 596.5h7M340 596.5h1M345 596.5h1M352 596.5h1M357 596.5h1M295 597.5h1M305 597.5h1M313 597.5h1M315 597.5h1M318 597.5h1M325 597.5h11M337 597.5h1M341 597.5h1M353 597.5h1M362 597.5h1M369 597.5h1M304 598.5h2M311 598.5h1M313 598.5h1M315 598.5h2M318 598.5h4M328 598.5h9M342 598.5h1M361 598.5h1M368 598.5h1M303 599.5h1M309 599.5h9M319 599.5h1M321 599.5h2M325 599.5h2M328 599.5h6M335 599.5h2M345 599.5h1M353 599.5h1M358 599.5h1M363 599.5h1M366 599.5h1M295 600.5h1M301 600.5h1M304 600.5h4M309 600.5h1M311 600.5h9M321 600.5h3M325 600.5h1M328 600.5h9M344 600.5h1M365 600.5h1M372 600.5h1M292 601.5h1M295 601.5h1M297 601.5h1M303 601.5h1M305 601.5h1M308 601.5h16M326 601.5h2M329 601.5h7M339 601.5h1M358 601.5h1M369 601.5h1M289 602.5h1M299 602.5h1M302 602.5h1M305 602.5h3M309 602.5h15M325 602.5h2M328 602.5h12M342 602.5h1M351 602.5h1M369 602.5h1M300 603.5h1M304 603.5h11M316 603.5h9M326 603.5h9M336 603.5h1M348 603.5h1M368 603.5h1M372 603.5h1M299 604.5h3M304 604.5h3M308 604.5h28M357 604.5h1M362 604.5h1M364 604.5h1M369 604.5h1M296 605.5h1M303 605.5h21M326 605.5h7M334 605.5h2M337 605.5h1M339 605.5h1M347 605.5h1M359 605.5h1M365 605.5h1M284 606.5h1M293 606.5h1M304 606.5h4M309 606.5h18M328 606.5h1M330 606.5h9M344 606.5h1M300 607.5h1M303 607.5h3M307 607.5h16M325 607.5h1M327 607.5h8M340 607.5h1M342 607.5h1M347 607.5h1M350 607.5h1M373 607.5h1M300 608.5h2M304 608.5h1M308 608.5h1M311 608.5h4M316 608.5h9M327 608.5h1M332 608.5h1M334 608.5h2M340 608.5h1M342 608.5h2M349 608.5h1M352 608.5h1M362 608.5h1M285 609.5h1M300 609.5h1M303 609.5h1M305 609.5h2M309 609.5h6M316 609.5h7M324 609.5h3M329 609.5h1M332 609.5h1M334 609.5h2M341 609.5h2M344 609.5h1M354 609.5h1M300 610.5h1M306 610.5h1M309 610.5h2M313 610.5h3M317 610.5h1M320 610.5h4M325 610.5h1M330 610.5h1M334 610.5h2M338 610.5h1M342 610.5h1M305 611.5h1M307 611.5h1M312 611.5h1M315 611.5h9M326 611.5h3M332 611.5h3M336 611.5h1M338 611.5h1M350 611.5h1M353 611.5h1M304 612.5h1M307 612.5h3M311 612.5h2M315 612.5h1M317 612.5h1M319 612.5h2M322 612.5h7M330 612.5h4M335 612.5h1M339 612.5h1M285 613.5h1M295 613.5h1M299 613.5h1M309 613.5h3M313 613.5h2M316 613.5h4M321 613.5h1M324 613.5h4M330 613.5h2M333 613.5h2M336 613.5h1M339 613.5h1M347 613.5h1M298 614.5h1M303 614.5h1M313 614.5h3M317 614.5h1M320 614.5h2M325 614.5h1M328 614.5h1M331 614.5h1M333 614.5h4M339 614.5h1M342 614.5h1M301 615.5h2M311 615.5h1M314 615.5h1M316 615.5h4M321 615.5h2M325 615.5h1M328 615.5h1M330 615.5h2M333 615.5h1M335 615.5h1M338 615.5h1M340 615.5h1M343 615.5h1M346 615.5h1M361 615.5h1M303 616.5h1M306 616.5h1M309 616.5h1M311 616.5h1M314 616.5h1M317 616.5h1M320 616.5h2M327 616.5h3M331 616.5h1M334 616.5h1M336 616.5h1M338 616.5h1M341 616.5h1M302 617.5h1M311 617.5h4M318 617.5h2M322 617.5h1M324 617.5h1M327 617.5h2M330 617.5h2M333 617.5h1M335 617.5h1M338 617.5h3M342 617.5h1M294 618.5h1M304 618.5h2M308 618.5h1M311 618.5h1M313 618.5h1M315 618.5h1M317 618.5h1M321 618.5h1M323 618.5h3M327 618.5h2M332 618.5h1M334 618.5h1M342 618.5h2M350 618.5h1M312 619.5h1M317 619.5h3M322 619.5h2M329 619.5h1M334 619.5h2M340 619.5h1M311 620.5h1M314 620.5h1M317 620.5h1M324 620.5h1M335 620.5h2M338 620.5h1M314 621.5h1M317 621.5h1M322 621.5h1M324 621.5h1M327 621.5h1M329 621.5h1M334 621.5h1M342 621.5h1M302 622.5h1M319 622.5h3M323 622.5h3M327 622.5h1M295 623.5h1M305 623.5h1M309 623.5h1M317 623.5h1M322 623.5h1M325 623.5h2M330 623.5h1M333 623.5h1M355 623.5h1M312 624.5h1M315 624.5h1M317 624.5h2M323 624.5h2M326 624.5h1M332 624.5h1M307 625.5h1M320 625.5h1M327 625.5h1M338 625.5h1M340 625.5h1M318 626.5h1M322 626.5h1M335 626.5h1M305 627.5h1M324 627.5h1M332 627.5h1M355 627.5h1M309 628.5h1M311 628.5h1M315 628.5h1M322 628.5h1M327 628.5h1M319 629.5h2M324 629.5h1M307 630.5h1M300 631.5h1M328 631.5h1M336 631.5h1M342 631.5h2M313 632.5h1M323 632.5h1M309 633.5h1M312 634.5h1M334 634.5h1M313 635.5h1M320 635.5h1M322 637.5h1" stroke="#000" stroke-width="1" fill="none"/><rect x="277.1" y="567.2" width="125.09999999999997" height="102.19999999999993" fill="none" stroke="#000" stroke-width="1.5"/><line x1="359.1" y1="567.2" x2="359.1" y2="669.4" stroke="#222" stroke-width="1.2"/><line x1="277.1" y1="636.6" x2="402.2" y2="636.6" stroke="#222" stroke-width="1.2"/><line x1="277.1" y1="669.4" x2="277.1" y2="671.8" stroke="#000" stroke-width="0.8"/><line x1="286.51" y1="669.4" x2="286.51" y2="671.0" stroke="#000" stroke-width="0.8"/><line x1="292.02" y1="669.4" x2="292.02" y2="671.0" stroke="#000" stroke-width="0.8"/><line x1="295.93" y1="669.4" x2="295.93" y2="671.0" stroke="#000" stroke-width="0.8"/><line x1="298.96" y1="669.4" x2="298.96" y2="671.0" stroke="#000" stroke-width="0.8"/><line x1="301.44" y1="669.4" x2="301.44" y2="671.0" stroke="#000" stroke-width="0.8"/><line x1="303.53" y1="669.4" x2="303.53" y2="671.0" stroke="#000" stroke-width="0.8"/><line x1="305.34" y1="669.4" x2="305.34" y2="671.0" stroke="#000" stroke-width="0.8"/><line x1="306.94" y1="669.4" x2="306.94" y2="671.0" stroke="#000" stroke-width="0.8"/><line x1="308.38" y1="669.4" x2="308.38" y2="671.8" stroke="#000" stroke-width="0.8"/><line x1="317.79" y1="669.4" x2="317.79" y2="671.0" stroke="#000" stroke-width="0.8"/><line x1="323.3" y1="669.4" x2="323.3" y2="671.0" stroke="#000" stroke-width="0.8"/><line x1="327.2" y1="669.4" x2="327.2" y2="671.0" stroke="#000" stroke-width="0.8"/><line x1="330.24" y1="669.4" x2="330.24" y2="671.0" stroke="#000" stroke-width="0.8"/><line x1="332.71" y1="669.4" x2="332.71" y2="671.0" stroke="#000" stroke-width="0.8"/><line x1="334.81" y1="669.4" x2="334.81" y2="671.0" stroke="#000" stroke-width="0.8"/><line x1="336.62" y1="669.4" x2="336.62" y2="671.0" stroke="#000" stroke-width="0.8"/><line x1="338.22" y1="669.4" x2="338.22" y2="671.0" stroke="#000" stroke-width="0.8"/><line x1="339.65" y1="669.4" x2="339.65" y2="671.8" stroke="#000" stroke-width="0.8"/><line x1="349.06" y1="669.4" x2="349.06" y2="671.0" stroke="#000" stroke-width="0.8"/><line x1="354.57" y1="669.4" x2="354.57" y2="671.0" stroke="#000" stroke-width="0.8"/><line x1="358.48" y1="669.4" x2="358.48" y2="671.0" stroke="#000" stroke-width="0.8"/><line x1="361.51" y1="669.4" x2="361.51" y2="671.0" stroke="#000" stroke-width="0.8"/><line x1="363.99" y1="669.4" x2="363.99" y2="671.0" stroke="#000" stroke-width="0.8"/><line x1="366.08" y1="669.4" x2="366.08" y2="671.0" stroke="#000" stroke-width="0.8"/><line x1="367.89" y1="669.4" x2="367.89" y2="671.0" stroke="#000" stroke-width="0.8"/><line x1="369.49" y1="669.4" x2="369.49" y2="671.0" stroke="#000" stroke-width="0.8"/><line x1="370.93" y1="669.4" x2="370.93" y2="671.8" stroke="#000" stroke-width="0.8"/><line x1="380.34" y1="669.4" x2="380.34" y2="671.0" stroke="#000" stroke-width="0.8"/><line x1="385.85" y1="669.4" x2="385.85" y2="671.0" stroke="#000" stroke-width="0.8"/><line x1="389.75" y1="669.4" x2="389.75" y2="671.0" stroke="#000" stroke-width="0.8"/><line x1="392.79" y1="669.4" x2="392.79" y2="671.0" stroke="#000" stroke-width="0.8"/><line x1="395.26" y1="669.4" x2="395.26" y2="671.0" stroke="#000" stroke-width="0.8"/><line x1="397.36" y1="669.4" x2="397.36" y2="671.0" stroke="#000" stroke-width="0.8"/><line x1="399.17" y1="669.4" x2="399.17" y2="671.0" stroke="#000" stroke-width="0.8"/><line x1="400.77" y1="669.4" x2="400.77" y2="671.0" stroke="#000" stroke-width="0.8"/><line x1="277.1" y1="669.4" x2="274.70000000000005" y2="669.4" stroke="#000" stroke-width="0.8"/><line x1="277.1" y1="661.71" x2="275.5" y2="661.71" stroke="#000" stroke-width="0.8"/><line x1="277.1" y1="657.21" x2="275.5" y2="657.21" stroke="#000" stroke-width="0.8"/><line x1="277.1" y1="654.02" x2="275.5" y2="654.02" stroke="#000" stroke-width="0.8"/><line x1="277.1" y1="651.54" x2="275.5" y2="651.54" stroke="#000" stroke-width="0.8"/><line x1="277.1" y1="649.52" x2="275.5" y2="649.52" stroke="#000" stroke-width="0.8"/><line x1="277.1" y1="647.81" x2="275.5" y2="647.81" stroke="#000" stroke-width="0.8"/><line x1="277.1" y1="646.33" x2="275.5" y2="646.33" stroke="#000" stroke-width="0.8"/><line x1="277.1" y1="645.02" x2="275.5" y2="645.02" stroke="#000" stroke-width="0.8"/><line x1="277.1" y1="643.85" x2="274.70000000000005" y2="643.85" stroke="#000" stroke-width="0.8"/><line x1="277.1" y1="636.16" x2="275.5" y2="636.16" stroke="#000" stroke-width="0.8"/><line x1="277.1" y1="631.66" x2="275.5" y2="631.66" stroke="#000" stroke-width="0.8"/><line x1="277.1" y1="628.47" x2="275.5" y2="628.47" stroke="#000" stroke-width="0.8"/><line x1="277.1" y1="625.99" x2="275.5" y2="625.99" stroke="#000" stroke-width="0.8"/><line x1="277.1" y1="623.97" x2="275.5" y2="623.97" stroke="#000" stroke-width="0.8"/><line x1="277.1" y1="622.26" x2="275.5" y2="622.26" stroke="#000" stroke-width="0.8"/><line x1="277.1" y1="620.78" x2="275.5" y2="620.78" stroke="#000" stroke-width="0.8"/><line x1="277.1" y1="619.47" x2="275.5" y2="619.47" stroke="#000" stroke-width="0.8"/><line x1="277.1" y1="618.3" x2="274.70000000000005" y2="618.3" stroke="#000" stroke-width="0.8"/><line x1="277.1" y1="610.61" x2="275.5" y2="610.61" stroke="#000" stroke-width="0.8"/><line x1="277.1" y1="606.11" x2="275.5" y2="606.11" stroke="#000" stroke-width="0.8"/><line x1="277.1" y1="602.92" x2="275.5" y2="602.92" stroke="#000" stroke-width="0.8"/><line x1="277.1" y1="600.44" x2="275.5" y2="600.44" stroke="#000" stroke-width="0.8"/><line x1="277.1" y1="598.42" x2="275.5" y2="598.42" stroke="#000" stroke-width="0.8"/><line x1="277.1" y1="596.71" x2="275.5" y2="596.71" stroke="#000" stroke-width="0.8"/><line x1="277.1" y1="595.23" x2="275.5" y2="595.23" stroke="#000" stroke-width="0.8"/><line x1="277.1" y1="593.92" x2="275.5" y2="593.92" stroke="#000" stroke-width="0.8"/><line x1="277.1" y1="592.75" x2="274.70000000000005" y2="592.75" stroke="#000" stroke-width="0.8"/><line x1="277.1" y1="585.06" x2="275.5" y2="585.06" stroke="#000" stroke-width="0.8"/><line x1="277.1" y1="580.56" x2="275.5" y2="580.56" stroke="#000" stroke-width="0.8"/><line x1="277.1" y1="577.37" x2="275.5" y2="577.37" stroke="#000" stroke-width="0.8"/><line x1="277.1" y1="574.89" x2="275.5" y2="574.89" stroke="#000" stroke-width="0.8"/><line x1="277.1" y1="572.87" x2="275.5" y2="572.87" stroke="#000" stroke-width="0.8"/><line x1="277.1" y1="571.16" x2="275.5" y2="571.16" stroke="#000" stroke-width="0.8"/><line x1="277.1" y1="569.68" x2="275.5" y2="569.68" stroke="#000" stroke-width="0.8"/><line x1="277.1" y1="568.37" x2="275.5" y2="568.37" stroke="#000" stroke-width="0.8"/><text x="355.1" y="578.1" font-family="Liberation Serif" font-size="10" text-anchor="end" font-weight="bold">97%</text><text x="399.6" y="578.1" font-family="Liberation Serif" font-size="10" text-anchor="end" font-weight="bold">3%</text><text x="273.1" y="675.0" font-family="Liberation Sans" font-size="8.6" font-weight="bold" textLength="10.0" lengthAdjust="spacingAndGlyphs" transform="rotate(-90 273.1 675.0)">10</text><text x="268.4" y="665.0" font-family="Liberation Sans" font-size="6.5" font-weight="bold" textLength="3.6" lengthAdjust="spacingAndGlyphs" transform="rotate(-90 268.4 665.0)">0</text><text x="270.7" y="681.5" font-family="Liberation Sans" font-size="8.4" font-weight="bold" textLength="9.8" lengthAdjust="spacingAndGlyphs">10</text><text x="279.8" y="676.8" font-family="Liberation Sans" font-size="6.6" font-weight="bold">0</text><text x="273.1" y="649.45" font-family="Liberation Sans" font-size="8.6" font-weight="bold" textLength="10.0" lengthAdjust="spacingAndGlyphs" transform="rotate(-90 273.1 649.45)">10</text><text x="268.4" y="639.45" font-family="Liberation Sans" font-size="6.5" font-weight="bold" textLength="3.6" lengthAdjust="spacingAndGlyphs" transform="rotate(-90 268.4 639.45)">1</text><text x="301.98" y="681.5" font-family="Liberation Sans" font-size="8.4" font-weight="bold" textLength="9.8" lengthAdjust="spacingAndGlyphs">10</text><text x="311.08" y="676.8" font-family="Liberation Sans" font-size="6.6" font-weight="bold">1</text><text x="273.1" y="623.9" font-family="Liberation Sans" font-size="8.6" font-weight="bold" textLength="10.0" lengthAdjust="spacingAndGlyphs" transform="rotate(-90 273.1 623.9)">10</text><text x="268.4" y="613.9" font-family="Liberation Sans" font-size="6.5" font-weight="bold" textLength="3.6" lengthAdjust="spacingAndGlyphs" transform="rotate(-90 268.4 613.9)">2</text><text x="333.25" y="681.5" font-family="Liberation Sans" font-size="8.4" font-weight="bold" textLength="9.8" lengthAdjust="spacingAndGlyphs">10</text><text x="342.35" y="676.8" font-family="Liberation Sans" font-size="6.6" font-weight="bold">2</text><text x="273.1" y="598.35" font-family="Liberation Sans" font-size="8.6" font-weight="bold" textLength="10.0" lengthAdjust="spacingAndGlyphs" transform="rotate(-90 273.1 598.35)">10</text><text x="268.4" y="588.35" font-family="Liberation Sans" font-size="6.5" font-weight="bold" textLength="3.6" lengthAdjust="spacingAndGlyphs" transform="rotate(-90 268.4 588.35)">3</text><text x="364.53" y="681.5" font-family="Liberation Sans" font-size="8.4" font-weight="bold" textLength="9.8" lengthAdjust="spacingAndGlyphs">10</text><text x="373.63" y="676.8" font-family="Liberation Sans" font-size="6.6" font-weight="bold">3</text><text x="273.1" y="572.8" font-family="Liberation Sans" font-size="8.6" font-weight="bold" textLength="10.0" lengthAdjust="spacingAndGlyphs" transform="rotate(-90 273.1 572.8)">10</text><text x="268.4" y="562.8" font-family="Liberation Sans" font-size="6.5" font-weight="bold" textLength="3.6" lengthAdjust="spacingAndGlyphs" transform="rotate(-90 268.4 562.8)">4</text><text x="395.8" y="681.5" font-family="Liberation Sans" font-size="8.4" font-weight="bold" textLength="9.8" lengthAdjust="spacingAndGlyphs">10</text><text x="404.9" y="676.8" font-family="Liberation Sans" font-size="6.6" font-weight="bold">4</text><text x="339.8" y="691.4" font-family="Liberation Sans" font-size="6.0" text-anchor="middle" font-weight="bold" textLength="18.8" lengthAdjust="spacingAndGlyphs">TET PE</text><text x="254.5" y="612" font-family="Liberation Sans" font-size="4.5" text-anchor="middle" font-weight="bold" textLength="22" lengthAdjust="spacingAndGlyphs" transform="rotate(-90 254.5 612)">CD8 PerCP</text><path d="M150 726.5h1M161 728.5h1M118 729.5h1M112 731.5h1M115 731.5h1M126 732.5h1M139 732.5h1M141 732.5h2M172 732.5h1M123 733.5h1M130 733.5h2M145 733.5h1M149 733.5h1M155 733.5h1M170 733.5h1M187 733.5h1M116 734.5h1M124 734.5h1M126 734.5h1M134 734.5h1M139 734.5h2M143 734.5h1M148 734.5h1M151 734.5h2M114 735.5h1M123 735.5h2M129 735.5h1M131 735.5h2M137 735.5h1M140 735.5h1M142 735.5h2M148 735.5h1M153 735.5h1M157 735.5h1M197 735.5h1M112 736.5h1M126 736.5h1M130 736.5h2M135 736.5h1M137 736.5h1M140 736.5h1M142 736.5h4M147 736.5h2M151 736.5h2M108 737.5h1M126 737.5h2M134 737.5h2M138 737.5h8M147 737.5h5M153 737.5h2M160 737.5h1M197 737.5h2M112 738.5h2M119 738.5h1M121 738.5h1M124 738.5h1M128 738.5h1M131 738.5h1M133 738.5h14M148 738.5h1M150 738.5h7M158 738.5h1M165 738.5h1M195 738.5h1M199 738.5h1M202 738.5h1M110 739.5h1M114 739.5h1M117 739.5h2M122 739.5h3M130 739.5h6M137 739.5h4M142 739.5h7M150 739.5h1M153 739.5h2M163 739.5h1M193 739.5h1M196 739.5h1M198 739.5h2M201 739.5h1M116 740.5h1M118 740.5h1M124 740.5h2M128 740.5h13M142 740.5h10M154 740.5h1M159 740.5h1M166 740.5h1M211 740.5h1M111 741.5h1M113 741.5h1M116 741.5h1M118 741.5h3M122 741.5h1M125 741.5h1M127 741.5h23M151 741.5h2M154 741.5h1M215 741.5h1M113 742.5h1M116 742.5h1M119 742.5h1M121 742.5h1M123 742.5h4M128 742.5h27M157 742.5h1M160 742.5h1M200 742.5h1M112 743.5h1M114 743.5h2M119 743.5h3M125 743.5h3M129 743.5h23M153 743.5h2M156 743.5h1M194 743.5h1M111 744.5h1M113 744.5h1M117 744.5h2M123 744.5h7M131 744.5h2M134 744.5h17M155 744.5h1M161 744.5h1M168 744.5h1M195 744.5h1M109 745.5h1M118 745.5h3M123 745.5h4M129 745.5h20M150 745.5h1M152 745.5h3M158 745.5h1M164 745.5h1M121 746.5h2M124 746.5h6M131 746.5h19M151 746.5h1M153 746.5h1M155 746.5h2M158 746.5h1M160 746.5h1M182 746.5h1M110 747.5h1M123 747.5h5M130 747.5h11M142 747.5h5M148 747.5h4M153 747.5h2M156 747.5h1M161 747.5h1M112 748.5h1M114 748.5h3M120 748.5h6M127 748.5h6M134 748.5h11M146 748.5h5M152 748.5h1M156 748.5h1M166 748.5h1M114 749.5h2M117 749.5h1M119 749.5h4M125 749.5h2M128 749.5h1M130 749.5h3M136 749.5h11M149 749.5h1M155 749.5h1M159 749.5h1M179 749.5h1M112 750.5h1M115 750.5h1M117 750.5h1M120 750.5h1M122 750.5h1M124 750.5h2M128 750.5h2M131 750.5h3M135 750.5h14M150 750.5h1M117 751.5h1M122 751.5h1M124 751.5h1M126 751.5h2M129 751.5h1M133 751.5h11M145 751.5h3M149 751.5h1M153 751.5h1M155 751.5h2M182 751.5h1M112 752.5h1M120 752.5h1M124 752.5h1M128 752.5h5M136 752.5h1M138 752.5h2M141 752.5h1M143 752.5h2M146 752.5h2M151 752.5h2M160 752.5h1M210 752.5h1M112 753.5h1M115 753.5h2M118 753.5h2M122 753.5h1M128 753.5h8M137 753.5h3M141 753.5h4M146 753.5h1M148 753.5h1M150 753.5h1M152 753.5h2M155 753.5h1M117 754.5h1M119 754.5h1M124 754.5h1M128 754.5h2M132 754.5h1M134 754.5h1M136 754.5h1M139 754.5h2M142 754.5h4M147 754.5h3M152 754.5h4M111 755.5h1M113 755.5h1M117 755.5h1M121 755.5h1M131 755.5h1M134 755.5h1M137 755.5h2M140 755.5h3M144 755.5h2M151 755.5h1M154 755.5h1M225 755.5h1M129 756.5h1M133 756.5h1M137 756.5h2M140 756.5h6M147 756.5h3M130 757.5h1M133 757.5h2M136 757.5h2M139 757.5h1M141 757.5h3M145 757.5h1M147 757.5h1M152 757.5h1M154 757.5h1M160 757.5h1M118 758.5h1M129 758.5h2M133 758.5h1M135 758.5h2M138 758.5h12M152 758.5h1M155 758.5h1M161 758.5h1M117 759.5h1M122 759.5h1M126 759.5h1M133 759.5h1M136 759.5h2M139 759.5h3M144 759.5h2M147 759.5h2M153 759.5h1M155 759.5h1M108 760.5h1M117 760.5h1M134 760.5h2M137 760.5h1M140 760.5h3M144 760.5h3M148 760.5h2M151 760.5h2M154 760.5h1M108 761.5h1M128 761.5h1M131 761.5h2M136 761.5h1M139 761.5h5M145 761.5h5M151 761.5h1M153 761.5h1M155 761.5h1M157 761.5h1M126 762.5h1M132 762.5h1M136 762.5h8M145 762.5h3M150 762.5h2M161 762.5h1M167 762.5h1M115 763.5h1M121 763.5h1M132 763.5h1M138 763.5h1M141 763.5h1M143 763.5h4M149 763.5h1M128 764.5h1M131 764.5h1M133 764.5h1M136 764.5h1M139 764.5h2M143 764.5h6M150 764.5h1M153 764.5h1M157 764.5h1M135 765.5h2M140 765.5h5M147 765.5h1M150 765.5h1M156 765.5h1M161 765.5h1M125 766.5h1M138 766.5h1M140 766.5h5M148 766.5h1M153 766.5h1M158 766.5h1M125 767.5h1M129 767.5h1M135 767.5h2M138 767.5h2M143 767.5h1M145 767.5h1M147 767.5h1M150 767.5h1M154 767.5h2M157 767.5h1M170 767.5h1M130 768.5h2M139 768.5h3M144 768.5h1M147 768.5h1M164 768.5h1M116 769.5h1M133 769.5h1M135 769.5h1M142 769.5h1M144 769.5h1M148 769.5h1M152 769.5h1M139 770.5h2M147 770.5h1M134 771.5h1M142 771.5h1M130 772.5h1M134 772.5h1M144 772.5h1M148 772.5h1M162 772.5h1M136 773.5h1M139 773.5h1M164 773.5h1M150 774.5h1M152 774.5h1M140 776.5h1M163 776.5h1" stroke="#000" stroke-width="1" fill="none"/><rect x="107.4" y="706.3" width="124.0" height="103.90000000000009" fill="none" stroke="#000" stroke-width="1.5"/><line x1="174.3" y1="706.3" x2="174.3" y2="810.2" stroke="#222" stroke-width="1.2"/><line x1="107.4" y1="778.5" x2="231.4" y2="778.5" stroke="#222" stroke-width="1.2"/><line x1="107.4" y1="810.2" x2="107.4" y2="812.6" stroke="#000" stroke-width="0.8"/><line x1="116.73" y1="810.2" x2="116.73" y2="811.8000000000001" stroke="#000" stroke-width="0.8"/><line x1="122.19" y1="810.2" x2="122.19" y2="811.8000000000001" stroke="#000" stroke-width="0.8"/><line x1="126.06" y1="810.2" x2="126.06" y2="811.8000000000001" stroke="#000" stroke-width="0.8"/><line x1="129.07" y1="810.2" x2="129.07" y2="811.8000000000001" stroke="#000" stroke-width="0.8"/><line x1="131.52" y1="810.2" x2="131.52" y2="811.8000000000001" stroke="#000" stroke-width="0.8"/><line x1="133.6" y1="810.2" x2="133.6" y2="811.8000000000001" stroke="#000" stroke-width="0.8"/><line x1="135.4" y1="810.2" x2="135.4" y2="811.8000000000001" stroke="#000" stroke-width="0.8"/><line x1="136.98" y1="810.2" x2="136.98" y2="811.8000000000001" stroke="#000" stroke-width="0.8"/><line x1="138.4" y1="810.2" x2="138.4" y2="812.6" stroke="#000" stroke-width="0.8"/><line x1="147.73" y1="810.2" x2="147.73" y2="811.8000000000001" stroke="#000" stroke-width="0.8"/><line x1="153.19" y1="810.2" x2="153.19" y2="811.8000000000001" stroke="#000" stroke-width="0.8"/><line x1="157.06" y1="810.2" x2="157.06" y2="811.8000000000001" stroke="#000" stroke-width="0.8"/><line x1="160.07" y1="810.2" x2="160.07" y2="811.8000000000001" stroke="#000" stroke-width="0.8"/><line x1="162.52" y1="810.2" x2="162.52" y2="811.8000000000001" stroke="#000" stroke-width="0.8"/><line x1="164.6" y1="810.2" x2="164.6" y2="811.8000000000001" stroke="#000" stroke-width="0.8"/><line x1="166.4" y1="810.2" x2="166.4" y2="811.8000000000001" stroke="#000" stroke-width="0.8"/><line x1="167.98" y1="810.2" x2="167.98" y2="811.8000000000001" stroke="#000" stroke-width="0.8"/><line x1="169.4" y1="810.2" x2="169.4" y2="812.6" stroke="#000" stroke-width="0.8"/><line x1="178.73" y1="810.2" x2="178.73" y2="811.8000000000001" stroke="#000" stroke-width="0.8"/><line x1="184.19" y1="810.2" x2="184.19" y2="811.8000000000001" stroke="#000" stroke-width="0.8"/><line x1="188.06" y1="810.2" x2="188.06" y2="811.8000000000001" stroke="#000" stroke-width="0.8"/><line x1="191.07" y1="810.2" x2="191.07" y2="811.8000000000001" stroke="#000" stroke-width="0.8"/><line x1="193.52" y1="810.2" x2="193.52" y2="811.8000000000001" stroke="#000" stroke-width="0.8"/><line x1="195.6" y1="810.2" x2="195.6" y2="811.8000000000001" stroke="#000" stroke-width="0.8"/><line x1="197.4" y1="810.2" x2="197.4" y2="811.8000000000001" stroke="#000" stroke-width="0.8"/><line x1="198.98" y1="810.2" x2="198.98" y2="811.8000000000001" stroke="#000" stroke-width="0.8"/><line x1="200.4" y1="810.2" x2="200.4" y2="812.6" stroke="#000" stroke-width="0.8"/><line x1="209.73" y1="810.2" x2="209.73" y2="811.8000000000001" stroke="#000" stroke-width="0.8"/><line x1="215.19" y1="810.2" x2="215.19" y2="811.8000000000001" stroke="#000" stroke-width="0.8"/><line x1="219.06" y1="810.2" x2="219.06" y2="811.8000000000001" stroke="#000" stroke-width="0.8"/><line x1="222.07" y1="810.2" x2="222.07" y2="811.8000000000001" stroke="#000" stroke-width="0.8"/><line x1="224.52" y1="810.2" x2="224.52" y2="811.8000000000001" stroke="#000" stroke-width="0.8"/><line x1="226.6" y1="810.2" x2="226.6" y2="811.8000000000001" stroke="#000" stroke-width="0.8"/><line x1="228.4" y1="810.2" x2="228.4" y2="811.8000000000001" stroke="#000" stroke-width="0.8"/><line x1="229.98" y1="810.2" x2="229.98" y2="811.8000000000001" stroke="#000" stroke-width="0.8"/><line x1="107.4" y1="810.2" x2="105.0" y2="810.2" stroke="#000" stroke-width="0.8"/><line x1="107.4" y1="802.38" x2="105.80000000000001" y2="802.38" stroke="#000" stroke-width="0.8"/><line x1="107.4" y1="797.81" x2="105.80000000000001" y2="797.81" stroke="#000" stroke-width="0.8"/><line x1="107.4" y1="794.56" x2="105.80000000000001" y2="794.56" stroke="#000" stroke-width="0.8"/><line x1="107.4" y1="792.04" x2="105.80000000000001" y2="792.04" stroke="#000" stroke-width="0.8"/><line x1="107.4" y1="789.99" x2="105.80000000000001" y2="789.99" stroke="#000" stroke-width="0.8"/><line x1="107.4" y1="788.25" x2="105.80000000000001" y2="788.25" stroke="#000" stroke-width="0.8"/><line x1="107.4" y1="786.74" x2="105.80000000000001" y2="786.74" stroke="#000" stroke-width="0.8"/><line x1="107.4" y1="785.41" x2="105.80000000000001" y2="785.41" stroke="#000" stroke-width="0.8"/><line x1="107.4" y1="784.23" x2="105.0" y2="784.23" stroke="#000" stroke-width="0.8"/><line x1="107.4" y1="776.41" x2="105.80000000000001" y2="776.41" stroke="#000" stroke-width="0.8"/><line x1="107.4" y1="771.83" x2="105.80000000000001" y2="771.83" stroke="#000" stroke-width="0.8"/><line x1="107.4" y1="768.59" x2="105.80000000000001" y2="768.59" stroke="#000" stroke-width="0.8"/><line x1="107.4" y1="766.07" x2="105.80000000000001" y2="766.07" stroke="#000" stroke-width="0.8"/><line x1="107.4" y1="764.01" x2="105.80000000000001" y2="764.01" stroke="#000" stroke-width="0.8"/><line x1="107.4" y1="762.27" x2="105.80000000000001" y2="762.27" stroke="#000" stroke-width="0.8"/><line x1="107.4" y1="760.77" x2="105.80000000000001" y2="760.77" stroke="#000" stroke-width="0.8"/><line x1="107.4" y1="759.44" x2="105.80000000000001" y2="759.44" stroke="#000" stroke-width="0.8"/><line x1="107.4" y1="758.25" x2="105.0" y2="758.25" stroke="#000" stroke-width="0.8"/><line x1="107.4" y1="750.43" x2="105.80000000000001" y2="750.43" stroke="#000" stroke-width="0.8"/><line x1="107.4" y1="745.86" x2="105.80000000000001" y2="745.86" stroke="#000" stroke-width="0.8"/><line x1="107.4" y1="742.61" x2="105.80000000000001" y2="742.61" stroke="#000" stroke-width="0.8"/><line x1="107.4" y1="740.09" x2="105.80000000000001" y2="740.09" stroke="#000" stroke-width="0.8"/><line x1="107.4" y1="738.04" x2="105.80000000000001" y2="738.04" stroke="#000" stroke-width="0.8"/><line x1="107.4" y1="736.3" x2="105.80000000000001" y2="736.3" stroke="#000" stroke-width="0.8"/><line x1="107.4" y1="734.79" x2="105.80000000000001" y2="734.79" stroke="#000" stroke-width="0.8"/><line x1="107.4" y1="733.46" x2="105.80000000000001" y2="733.46" stroke="#000" stroke-width="0.8"/><line x1="107.4" y1="732.27" x2="105.0" y2="732.27" stroke="#000" stroke-width="0.8"/><line x1="107.4" y1="724.46" x2="105.80000000000001" y2="724.46" stroke="#000" stroke-width="0.8"/><line x1="107.4" y1="719.88" x2="105.80000000000001" y2="719.88" stroke="#000" stroke-width="0.8"/><line x1="107.4" y1="716.64" x2="105.80000000000001" y2="716.64" stroke="#000" stroke-width="0.8"/><line x1="107.4" y1="714.12" x2="105.80000000000001" y2="714.12" stroke="#000" stroke-width="0.8"/><line x1="107.4" y1="712.06" x2="105.80000000000001" y2="712.06" stroke="#000" stroke-width="0.8"/><line x1="107.4" y1="710.32" x2="105.80000000000001" y2="710.32" stroke="#000" stroke-width="0.8"/><line x1="107.4" y1="708.82" x2="105.80000000000001" y2="708.82" stroke="#000" stroke-width="0.8"/><line x1="107.4" y1="707.49" x2="105.80000000000001" y2="707.49" stroke="#000" stroke-width="0.8"/><text x="170.3" y="717.2" font-family="Liberation Serif" font-size="10" text-anchor="end" font-weight="bold">99%</text><text x="228.8" y="717.2" font-family="Liberation Serif" font-size="10" text-anchor="end" font-weight="bold">1%</text><text x="103.4" y="815.8" font-family="Liberation Sans" font-size="8.6" font-weight="bold" textLength="10.0" lengthAdjust="spacingAndGlyphs" transform="rotate(-90 103.4 815.8)">10</text><text x="98.7" y="805.8" font-family="Liberation Sans" font-size="6.5" font-weight="bold" textLength="3.6" lengthAdjust="spacingAndGlyphs" transform="rotate(-90 98.7 805.8)">0</text><text x="101.0" y="822.7" font-family="Liberation Sans" font-size="8.4" font-weight="bold" textLength="9.8" lengthAdjust="spacingAndGlyphs">10</text><text x="110.1" y="818.0" font-family="Liberation Sans" font-size="6.6" font-weight="bold">0</text><text x="103.4" y="789.83" font-family="Liberation Sans" font-size="8.6" font-weight="bold" textLength="10.0" lengthAdjust="spacingAndGlyphs" transform="rotate(-90 103.4 789.83)">10</text><text x="98.7" y="779.83" font-family="Liberation Sans" font-size="6.5" font-weight="bold" textLength="3.6" lengthAdjust="spacingAndGlyphs" transform="rotate(-90 98.7 779.83)">1</text><text x="132.0" y="822.7" font-family="Liberation Sans" font-size="8.4" font-weight="bold" textLength="9.8" lengthAdjust="spacingAndGlyphs">10</text><text x="141.1" y="818.0" font-family="Liberation Sans" font-size="6.6" font-weight="bold">1</text><text x="103.4" y="763.85" font-family="Liberation Sans" font-size="8.6" font-weight="bold" textLength="10.0" lengthAdjust="spacingAndGlyphs" transform="rotate(-90 103.4 763.85)">10</text><text x="98.7" y="753.85" font-family="Liberation Sans" font-size="6.5" font-weight="bold" textLength="3.6" lengthAdjust="spacingAndGlyphs" transform="rotate(-90 98.7 753.85)">2</text><text x="163.0" y="822.7" font-family="Liberation Sans" font-size="8.4" font-weight="bold" textLength="9.8" lengthAdjust="spacingAndGlyphs">10</text><text x="172.1" y="818.0" font-family="Liberation Sans" font-size="6.6" font-weight="bold">2</text><text x="103.4" y="737.88" font-family="Liberation Sans" font-size="8.6" font-weight="bold" textLength="10.0" lengthAdjust="spacingAndGlyphs" transform="rotate(-90 103.4 737.88)">10</text><text x="98.7" y="727.88" font-family="Liberation Sans" font-size="6.5" font-weight="bold" textLength="3.6" lengthAdjust="spacingAndGlyphs" transform="rotate(-90 98.7 727.88)">3</text><text x="194.0" y="822.7" font-family="Liberation Sans" font-size="8.4" font-weight="bold" textLength="9.8" lengthAdjust="spacingAndGlyphs">10</text><text x="203.1" y="818.0" font-family="Liberation Sans" font-size="6.6" font-weight="bold">3</text><text x="103.4" y="711.9" font-family="Liberation Sans" font-size="8.6" font-weight="bold" textLength="10.0" lengthAdjust="spacingAndGlyphs" transform="rotate(-90 103.4 711.9)">10</text><text x="98.7" y="701.9" font-family="Liberation Sans" font-size="6.5" font-weight="bold" textLength="3.6" lengthAdjust="spacingAndGlyphs" transform="rotate(-90 98.7 701.9)">4</text><text x="225.0" y="822.7" font-family="Liberation Sans" font-size="8.4" font-weight="bold" textLength="9.8" lengthAdjust="spacingAndGlyphs">10</text><text x="234.1" y="818.0" font-family="Liberation Sans" font-size="6.6" font-weight="bold">4</text><text x="169.3" y="829.4" font-family="Liberation Sans" font-size="6.0" text-anchor="middle" font-weight="bold" textLength="18.5" lengthAdjust="spacingAndGlyphs">TET PE</text><text x="89.6" y="758.8" font-family="Liberation Sans" font-size="4.5" text-anchor="middle" font-weight="bold" textLength="25.7" lengthAdjust="spacingAndGlyphs" transform="rotate(-90 89.6 758.8)">CD8 PerCP</text><path d="M320 720.5h2M319 721.5h1M297 722.5h1M296 723.5h1M311 723.5h1M324 723.5h1M301 724.5h1M331 725.5h1M310 726.5h1M328 726.5h1M337 726.5h1M348 726.5h1M390 726.5h1M296 727.5h1M326 727.5h1M328 727.5h1M334 727.5h1M345 727.5h1M347 727.5h1M312 728.5h1M323 729.5h1M325 729.5h1M340 729.5h1M347 729.5h1M349 729.5h1M351 729.5h1M299 730.5h1M307 730.5h1M321 730.5h3M330 730.5h1M332 730.5h1M336 730.5h1M338 730.5h1M341 730.5h1M345 730.5h1M305 731.5h1M315 731.5h2M322 731.5h3M326 731.5h1M329 731.5h4M334 731.5h2M338 731.5h2M343 731.5h1M358 731.5h1M300 732.5h1M309 732.5h1M320 732.5h5M326 732.5h1M329 732.5h1M331 732.5h1M334 732.5h3M338 732.5h3M292 733.5h1M298 733.5h2M305 733.5h2M309 733.5h1M312 733.5h1M322 733.5h1M324 733.5h3M329 733.5h1M332 733.5h1M334 733.5h1M338 733.5h1M340 733.5h2M346 733.5h1M349 733.5h1M317 734.5h1M321 734.5h1M323 734.5h1M325 734.5h1M327 734.5h1M329 734.5h5M335 734.5h2M339 734.5h1M312 735.5h2M315 735.5h1M317 735.5h2M320 735.5h2M323 735.5h2M326 735.5h12M339 735.5h2M295 736.5h1M310 736.5h1M314 736.5h1M316 736.5h2M319 736.5h6M326 736.5h5M333 736.5h3M337 736.5h3M342 736.5h1M346 736.5h1M350 736.5h1M309 737.5h2M312 737.5h1M314 737.5h4M321 737.5h2M324 737.5h2M327 737.5h3M331 737.5h1M333 737.5h4M338 737.5h4M354 737.5h1M285 738.5h1M301 738.5h1M306 738.5h2M309 738.5h1M311 738.5h1M314 738.5h2M317 738.5h2M320 738.5h5M326 738.5h5M334 738.5h1M336 738.5h1M338 738.5h2M342 738.5h1M364 738.5h1M298 739.5h1M302 739.5h1M305 739.5h1M308 739.5h1M311 739.5h3M316 739.5h18M335 739.5h2M303 740.5h22M326 740.5h3M331 740.5h1M339 740.5h1M301 741.5h4M309 741.5h1M311 741.5h2M315 741.5h5M321 741.5h3M325 741.5h2M328 741.5h1M330 741.5h3M335 741.5h1M339 741.5h1M398 741.5h1M297 742.5h1M300 742.5h1M303 742.5h7M315 742.5h2M318 742.5h8M327 742.5h1M329 742.5h3M336 742.5h2M369 742.5h1M300 743.5h1M302 743.5h1M304 743.5h1M306 743.5h1M308 743.5h1M313 743.5h4M318 743.5h2M321 743.5h1M323 743.5h1M325 743.5h1M327 743.5h2M330 743.5h1M338 743.5h1M297 744.5h1M307 744.5h6M314 744.5h1M316 744.5h1M319 744.5h2M322 744.5h1M326 744.5h1M291 745.5h1M299 745.5h3M307 745.5h1M310 745.5h2M315 745.5h3M319 745.5h1M321 745.5h5M327 745.5h1M333 745.5h2M290 746.5h1M293 746.5h1M298 746.5h2M302 746.5h1M306 746.5h1M309 746.5h2M315 746.5h1M319 746.5h1M326 746.5h2M331 746.5h1M336 746.5h1M295 747.5h1M299 747.5h1M304 747.5h3M309 747.5h1M311 747.5h5M317 747.5h2M324 747.5h1M331 747.5h1M336 747.5h1M347 747.5h1M296 748.5h1M300 748.5h2M308 748.5h1M310 748.5h2M315 748.5h1M320 748.5h1M322 748.5h1M326 748.5h3M337 748.5h1M339 748.5h1M341 748.5h2M347 748.5h1M351 748.5h1M301 749.5h1M305 749.5h1M309 749.5h1M315 749.5h1M318 749.5h1M321 749.5h1M323 749.5h1M342 749.5h3M376 749.5h1M383 749.5h1M395 749.5h1M289 750.5h1M297 750.5h1M302 750.5h1M306 750.5h1M312 750.5h1M319 750.5h1M324 750.5h1M327 750.5h1M333 750.5h2M337 750.5h1M387 750.5h1M289 751.5h1M297 751.5h1M301 751.5h1M304 751.5h1M307 751.5h1M309 751.5h2M312 751.5h1M314 751.5h1M320 751.5h1M326 751.5h2M331 751.5h1M336 751.5h1M360 751.5h1M284 752.5h1M288 752.5h1M293 752.5h1M295 752.5h2M304 752.5h1M309 752.5h1M312 752.5h2M318 752.5h1M326 752.5h1M330 752.5h1M342 752.5h1M348 752.5h1M278 753.5h1M308 753.5h1M313 753.5h1M317 753.5h1M326 753.5h1M333 753.5h1M340 753.5h1M393 753.5h1M287 754.5h1M300 754.5h1M308 754.5h1M315 754.5h1M325 754.5h1M327 754.5h1M330 754.5h1M333 754.5h1M335 754.5h1M318 755.5h1M320 755.5h1M324 755.5h1M326 755.5h1M331 755.5h1M334 755.5h1M340 755.5h1M281 756.5h1M288 756.5h1M292 756.5h1M299 756.5h1M304 756.5h1M309 756.5h1M313 756.5h1M316 756.5h1M320 756.5h1M331 756.5h1M337 756.5h1M345 756.5h1M307 757.5h1M309 757.5h2M317 757.5h1M335 757.5h1M338 757.5h1M395 757.5h1M289 758.5h2M293 758.5h1M311 758.5h1M317 758.5h2M321 758.5h1M328 758.5h1M331 758.5h1M312 759.5h2M315 759.5h1M320 759.5h1M323 759.5h1M327 759.5h1M329 759.5h1M339 759.5h1M346 759.5h1M361 759.5h1M287 760.5h1M306 760.5h2M318 760.5h1M320 760.5h1M326 760.5h1M333 760.5h1M342 760.5h1M353 760.5h1M385 760.5h1M316 761.5h1M321 761.5h1M328 761.5h1M337 761.5h1M386 761.5h1M289 762.5h1M314 762.5h1M322 762.5h1M329 762.5h1M333 762.5h2M342 762.5h1M378 762.5h1M291 763.5h1M295 763.5h1M312 763.5h1M339 763.5h1M343 763.5h1M356 763.5h1M364 763.5h1M309 764.5h1M327 764.5h1M291 765.5h1M299 765.5h1M308 765.5h1M319 765.5h1M336 765.5h1M294 766.5h1M313 766.5h1M329 766.5h1M297 767.5h1M320 767.5h1M333 767.5h1M370 767.5h1M311 768.5h1M310 769.5h1M321 769.5h1M335 769.5h1M375 769.5h1M315 770.5h1M331 770.5h1M337 770.5h2M378 770.5h1M305 771.5h1M336 771.5h1M338 771.5h1M290 772.5h2M315 772.5h1M323 772.5h1M293 773.5h1M301 773.5h1M315 773.5h1M299 774.5h1M312 774.5h1M316 774.5h1M327 775.5h1M334 775.5h1M307 778.5h1M333 779.5h1" stroke="#000" stroke-width="1" fill="none"/><rect x="277.4" y="706.3" width="125.60000000000002" height="104.30000000000007" fill="none" stroke="#000" stroke-width="1.5"/><line x1="348.7" y1="706.3" x2="348.7" y2="810.6" stroke="#222" stroke-width="1.2"/><line x1="277.4" y1="778.3" x2="403" y2="778.3" stroke="#222" stroke-width="1.2"/><line x1="277.4" y1="810.6" x2="277.4" y2="813.0" stroke="#000" stroke-width="0.8"/><line x1="286.85" y1="810.6" x2="286.85" y2="812.2" stroke="#000" stroke-width="0.8"/><line x1="292.38" y1="810.6" x2="292.38" y2="812.2" stroke="#000" stroke-width="0.8"/><line x1="296.3" y1="810.6" x2="296.3" y2="812.2" stroke="#000" stroke-width="0.8"/><line x1="299.35" y1="810.6" x2="299.35" y2="812.2" stroke="#000" stroke-width="0.8"/><line x1="301.83" y1="810.6" x2="301.83" y2="812.2" stroke="#000" stroke-width="0.8"/><line x1="303.94" y1="810.6" x2="303.94" y2="812.2" stroke="#000" stroke-width="0.8"/><line x1="305.76" y1="810.6" x2="305.76" y2="812.2" stroke="#000" stroke-width="0.8"/><line x1="307.36" y1="810.6" x2="307.36" y2="812.2" stroke="#000" stroke-width="0.8"/><line x1="308.8" y1="810.6" x2="308.8" y2="813.0" stroke="#000" stroke-width="0.8"/><line x1="318.25" y1="810.6" x2="318.25" y2="812.2" stroke="#000" stroke-width="0.8"/><line x1="323.78" y1="810.6" x2="323.78" y2="812.2" stroke="#000" stroke-width="0.8"/><line x1="327.7" y1="810.6" x2="327.7" y2="812.2" stroke="#000" stroke-width="0.8"/><line x1="330.75" y1="810.6" x2="330.75" y2="812.2" stroke="#000" stroke-width="0.8"/><line x1="333.23" y1="810.6" x2="333.23" y2="812.2" stroke="#000" stroke-width="0.8"/><line x1="335.34" y1="810.6" x2="335.34" y2="812.2" stroke="#000" stroke-width="0.8"/><line x1="337.16" y1="810.6" x2="337.16" y2="812.2" stroke="#000" stroke-width="0.8"/><line x1="338.76" y1="810.6" x2="338.76" y2="812.2" stroke="#000" stroke-width="0.8"/><line x1="340.2" y1="810.6" x2="340.2" y2="813.0" stroke="#000" stroke-width="0.8"/><line x1="349.65" y1="810.6" x2="349.65" y2="812.2" stroke="#000" stroke-width="0.8"/><line x1="355.18" y1="810.6" x2="355.18" y2="812.2" stroke="#000" stroke-width="0.8"/><line x1="359.1" y1="810.6" x2="359.1" y2="812.2" stroke="#000" stroke-width="0.8"/><line x1="362.15" y1="810.6" x2="362.15" y2="812.2" stroke="#000" stroke-width="0.8"/><line x1="364.63" y1="810.6" x2="364.63" y2="812.2" stroke="#000" stroke-width="0.8"/><line x1="366.74" y1="810.6" x2="366.74" y2="812.2" stroke="#000" stroke-width="0.8"/><line x1="368.56" y1="810.6" x2="368.56" y2="812.2" stroke="#000" stroke-width="0.8"/><line x1="370.16" y1="810.6" x2="370.16" y2="812.2" stroke="#000" stroke-width="0.8"/><line x1="371.6" y1="810.6" x2="371.6" y2="813.0" stroke="#000" stroke-width="0.8"/><line x1="381.05" y1="810.6" x2="381.05" y2="812.2" stroke="#000" stroke-width="0.8"/><line x1="386.58" y1="810.6" x2="386.58" y2="812.2" stroke="#000" stroke-width="0.8"/><line x1="390.5" y1="810.6" x2="390.5" y2="812.2" stroke="#000" stroke-width="0.8"/><line x1="393.55" y1="810.6" x2="393.55" y2="812.2" stroke="#000" stroke-width="0.8"/><line x1="396.03" y1="810.6" x2="396.03" y2="812.2" stroke="#000" stroke-width="0.8"/><line x1="398.14" y1="810.6" x2="398.14" y2="812.2" stroke="#000" stroke-width="0.8"/><line x1="399.96" y1="810.6" x2="399.96" y2="812.2" stroke="#000" stroke-width="0.8"/><line x1="401.56" y1="810.6" x2="401.56" y2="812.2" stroke="#000" stroke-width="0.8"/><line x1="277.4" y1="810.6" x2="275.0" y2="810.6" stroke="#000" stroke-width="0.8"/><line x1="277.4" y1="802.75" x2="275.79999999999995" y2="802.75" stroke="#000" stroke-width="0.8"/><line x1="277.4" y1="798.16" x2="275.79999999999995" y2="798.16" stroke="#000" stroke-width="0.8"/><line x1="277.4" y1="794.9" x2="275.79999999999995" y2="794.9" stroke="#000" stroke-width="0.8"/><line x1="277.4" y1="792.37" x2="275.79999999999995" y2="792.37" stroke="#000" stroke-width="0.8"/><line x1="277.4" y1="790.31" x2="275.79999999999995" y2="790.31" stroke="#000" stroke-width="0.8"/><line x1="277.4" y1="788.56" x2="275.79999999999995" y2="788.56" stroke="#000" stroke-width="0.8"/><line x1="277.4" y1="787.05" x2="275.79999999999995" y2="787.05" stroke="#000" stroke-width="0.8"/><line x1="277.4" y1="785.72" x2="275.79999999999995" y2="785.72" stroke="#000" stroke-width="0.8"/><line x1="277.4" y1="784.52" x2="275.0" y2="784.52" stroke="#000" stroke-width="0.8"/><line x1="277.4" y1="776.68" x2="275.79999999999995" y2="776.68" stroke="#000" stroke-width="0.8"/><line x1="277.4" y1="772.08" x2="275.79999999999995" y2="772.08" stroke="#000" stroke-width="0.8"/><line x1="277.4" y1="768.83" x2="275.79999999999995" y2="768.83" stroke="#000" stroke-width="0.8"/><line x1="277.4" y1="766.3" x2="275.79999999999995" y2="766.3" stroke="#000" stroke-width="0.8"/><line x1="277.4" y1="764.23" x2="275.79999999999995" y2="764.23" stroke="#000" stroke-width="0.8"/><line x1="277.4" y1="762.49" x2="275.79999999999995" y2="762.49" stroke="#000" stroke-width="0.8"/><line x1="277.4" y1="760.98" x2="275.79999999999995" y2="760.98" stroke="#000" stroke-width="0.8"/><line x1="277.4" y1="759.64" x2="275.79999999999995" y2="759.64" stroke="#000" stroke-width="0.8"/><line x1="277.4" y1="758.45" x2="275.0" y2="758.45" stroke="#000" stroke-width="0.8"/><line x1="277.4" y1="750.6" x2="275.79999999999995" y2="750.6" stroke="#000" stroke-width="0.8"/><line x1="277.4" y1="746.01" x2="275.79999999999995" y2="746.01" stroke="#000" stroke-width="0.8"/><line x1="277.4" y1="742.75" x2="275.79999999999995" y2="742.75" stroke="#000" stroke-width="0.8"/><line x1="277.4" y1="740.22" x2="275.79999999999995" y2="740.22" stroke="#000" stroke-width="0.8"/><line x1="277.4" y1="738.16" x2="275.79999999999995" y2="738.16" stroke="#000" stroke-width="0.8"/><line x1="277.4" y1="736.41" x2="275.79999999999995" y2="736.41" stroke="#000" stroke-width="0.8"/><line x1="277.4" y1="734.9" x2="275.79999999999995" y2="734.9" stroke="#000" stroke-width="0.8"/><line x1="277.4" y1="733.57" x2="275.79999999999995" y2="733.57" stroke="#000" stroke-width="0.8"/><line x1="277.4" y1="732.38" x2="275.0" y2="732.38" stroke="#000" stroke-width="0.8"/><line x1="277.4" y1="724.53" x2="275.79999999999995" y2="724.53" stroke="#000" stroke-width="0.8"/><line x1="277.4" y1="719.93" x2="275.79999999999995" y2="719.93" stroke="#000" stroke-width="0.8"/><line x1="277.4" y1="716.68" x2="275.79999999999995" y2="716.68" stroke="#000" stroke-width="0.8"/><line x1="277.4" y1="714.15" x2="275.79999999999995" y2="714.15" stroke="#000" stroke-width="0.8"/><line x1="277.4" y1="712.08" x2="275.79999999999995" y2="712.08" stroke="#000" stroke-width="0.8"/><line x1="277.4" y1="710.34" x2="275.79999999999995" y2="710.34" stroke="#000" stroke-width="0.8"/><line x1="277.4" y1="708.83" x2="275.79999999999995" y2="708.83" stroke="#000" stroke-width="0.8"/><line x1="277.4" y1="707.49" x2="275.79999999999995" y2="707.49" stroke="#000" stroke-width="0.8"/><text x="344.7" y="717.2" font-family="Liberation Serif" font-size="10" text-anchor="end" font-weight="bold">98%</text><text x="400.4" y="717.2" font-family="Liberation Serif" font-size="10" text-anchor="end" font-weight="bold">2%</text><text x="273.4" y="816.2" font-family="Liberation Sans" font-size="8.6" font-weight="bold" textLength="10.0" lengthAdjust="spacingAndGlyphs" transform="rotate(-90 273.4 816.2)">10</text><text x="268.7" y="806.2" font-family="Liberation Sans" font-size="6.5" font-weight="bold" textLength="3.6" lengthAdjust="spacingAndGlyphs" transform="rotate(-90 268.7 806.2)">0</text><text x="271.0" y="823.5" font-family="Liberation Sans" font-size="8.4" font-weight="bold" textLength="9.8" lengthAdjust="spacingAndGlyphs">10</text><text x="280.1" y="818.8" font-family="Liberation Sans" font-size="6.6" font-weight="bold">0</text><text x="273.4" y="790.12" font-family="Liberation Sans" font-size="8.6" font-weight="bold" textLength="10.0" lengthAdjust="spacingAndGlyphs" transform="rotate(-90 273.4 790.12)">10</text><text x="268.7" y="780.12" font-family="Liberation Sans" font-size="6.5" font-weight="bold" textLength="3.6" lengthAdjust="spacingAndGlyphs" transform="rotate(-90 268.7 780.12)">1</text><text x="302.4" y="823.5" font-family="Liberation Sans" font-size="8.4" font-weight="bold" textLength="9.8" lengthAdjust="spacingAndGlyphs">10</text><text x="311.5" y="818.8" font-family="Liberation Sans" font-size="6.6" font-weight="bold">1</text><text x="273.4" y="764.05" font-family="Liberation Sans" font-size="8.6" font-weight="bold" textLength="10.0" lengthAdjust="spacingAndGlyphs" transform="rotate(-90 273.4 764.05)">10</text><text x="268.7" y="754.05" font-family="Liberation Sans" font-size="6.5" font-weight="bold" textLength="3.6" lengthAdjust="spacingAndGlyphs" transform="rotate(-90 268.7 754.05)">2</text><text x="333.8" y="823.5" font-family="Liberation Sans" font-size="8.4" font-weight="bold" textLength="9.8" lengthAdjust="spacingAndGlyphs">10</text><text x="342.9" y="818.8" font-family="Liberation Sans" font-size="6.6" font-weight="bold">2</text><text x="273.4" y="737.98" font-family="Liberation Sans" font-size="8.6" font-weight="bold" textLength="10.0" lengthAdjust="spacingAndGlyphs" transform="rotate(-90 273.4 737.98)">10</text><text x="268.7" y="727.98" font-family="Liberation Sans" font-size="6.5" font-weight="bold" textLength="3.6" lengthAdjust="spacingAndGlyphs" transform="rotate(-90 268.7 727.98)">3</text><text x="365.2" y="823.5" font-family="Liberation Sans" font-size="8.4" font-weight="bold" textLength="9.8" lengthAdjust="spacingAndGlyphs">10</text><text x="374.3" y="818.8" font-family="Liberation Sans" font-size="6.6" font-weight="bold">3</text><text x="273.4" y="711.9" font-family="Liberation Sans" font-size="8.6" font-weight="bold" textLength="10.0" lengthAdjust="spacingAndGlyphs" transform="rotate(-90 273.4 711.9)">10</text><text x="268.7" y="701.9" font-family="Liberation Sans" font-size="6.5" font-weight="bold" textLength="3.6" lengthAdjust="spacingAndGlyphs" transform="rotate(-90 268.7 701.9)">4</text><text x="396.6" y="823.5" font-family="Liberation Sans" font-size="8.4" font-weight="bold" textLength="9.8" lengthAdjust="spacingAndGlyphs">10</text><text x="405.7" y="818.8" font-family="Liberation Sans" font-size="6.6" font-weight="bold">4</text><text x="340.2" y="833.7" font-family="Liberation Sans" font-size="6.0" text-anchor="middle" font-weight="bold" textLength="18.1" lengthAdjust="spacingAndGlyphs">TET PE</text><text x="255.5" y="757" font-family="Liberation Sans" font-size="4.5" text-anchor="middle" font-weight="bold" textLength="22" lengthAdjust="spacingAndGlyphs" transform="rotate(-90 255.5 757)">CD8 PerCP</text><path d="M161 866.5h1M176 866.5h1M121 867.5h1M138 868.5h1M145 868.5h1M114 869.5h1M116 869.5h1M157 869.5h1M114 870.5h1M129 870.5h1M137 870.5h1M139 870.5h3M147 870.5h1M149 870.5h1M153 870.5h1M155 870.5h1M159 870.5h1M138 871.5h1M140 871.5h1M146 871.5h2M151 871.5h1M153 871.5h1M155 871.5h1M158 871.5h1M162 871.5h1M125 872.5h2M129 872.5h1M132 872.5h3M136 872.5h1M140 872.5h1M143 872.5h1M146 872.5h1M150 872.5h2M153 872.5h5M161 872.5h1M190 872.5h1M118 873.5h1M129 873.5h1M132 873.5h1M134 873.5h2M139 873.5h2M144 873.5h4M149 873.5h2M152 873.5h7M161 873.5h2M172 873.5h1M124 874.5h2M128 874.5h1M130 874.5h1M133 874.5h1M135 874.5h1M137 874.5h8M146 874.5h1M148 874.5h6M155 874.5h5M161 874.5h3M165 874.5h1M117 875.5h1M119 875.5h1M121 875.5h3M128 875.5h2M131 875.5h2M136 875.5h1M138 875.5h8M147 875.5h14M164 875.5h2M168 875.5h1M201 875.5h1M203 875.5h1M120 876.5h1M122 876.5h6M129 876.5h1M133 876.5h7M141 876.5h17M159 876.5h2M162 876.5h1M164 876.5h1M166 876.5h2M111 877.5h1M114 877.5h2M117 877.5h3M123 877.5h1M125 877.5h1M127 877.5h5M133 877.5h3M137 877.5h24M163 877.5h1M172 877.5h1M109 878.5h1M112 878.5h2M117 878.5h1M121 878.5h1M123 878.5h2M126 878.5h9M138 878.5h5M144 878.5h16M161 878.5h2M164 878.5h2M171 878.5h1M112 879.5h1M115 879.5h1M119 879.5h1M122 879.5h7M132 879.5h2M135 879.5h1M137 879.5h23M161 879.5h2M166 879.5h1M168 879.5h1M113 880.5h1M116 880.5h1M120 880.5h2M123 880.5h2M126 880.5h1M129 880.5h2M133 880.5h1M136 880.5h6M143 880.5h3M147 880.5h10M158 880.5h4M163 880.5h1M109 881.5h1M111 881.5h1M118 881.5h4M125 881.5h1M127 881.5h2M131 881.5h8M140 881.5h4M146 881.5h8M155 881.5h5M161 881.5h3M110 882.5h1M114 882.5h2M120 882.5h2M124 882.5h1M129 882.5h1M132 882.5h4M137 882.5h2M140 882.5h1M143 882.5h1M145 882.5h1M147 882.5h4M152 882.5h1M154 882.5h1M157 882.5h1M160 882.5h1M199 882.5h1M113 883.5h1M115 883.5h2M124 883.5h1M129 883.5h2M132 883.5h2M136 883.5h1M142 883.5h1M145 883.5h4M150 883.5h1M154 883.5h2M157 883.5h2M165 883.5h1M167 883.5h1M170 883.5h1M124 884.5h1M132 884.5h1M134 884.5h1M139 884.5h1M142 884.5h1M144 884.5h1M146 884.5h2M149 884.5h2M155 884.5h1M160 884.5h1M164 884.5h1M118 885.5h1M125 885.5h2M132 885.5h2M135 885.5h1M137 885.5h2M141 885.5h1M144 885.5h2M149 885.5h1M152 885.5h1M154 885.5h2M112 886.5h1M128 886.5h1M144 886.5h3M148 886.5h1M153 886.5h1M155 886.5h1M157 886.5h4M127 887.5h1M130 887.5h1M133 887.5h1M136 887.5h1M138 887.5h1M146 887.5h6M153 887.5h2M160 887.5h1M162 887.5h1M164 887.5h1M169 887.5h1M180 887.5h1M121 888.5h1M136 888.5h1M138 888.5h1M143 888.5h1M146 888.5h1M150 888.5h2M153 888.5h2M156 888.5h2M161 888.5h1M163 888.5h1M165 888.5h1M167 888.5h1M193 888.5h1M133 889.5h1M140 889.5h2M145 889.5h1M147 889.5h2M150 889.5h1M153 889.5h2M157 889.5h1M162 889.5h1M194 889.5h1M141 890.5h1M145 890.5h4M150 890.5h2M156 890.5h1M158 890.5h1M160 890.5h1M164 890.5h1M169 890.5h1M131 891.5h1M139 891.5h1M141 891.5h1M143 891.5h1M145 891.5h2M149 891.5h8M158 891.5h1M160 891.5h1M166 891.5h1M200 891.5h1M137 892.5h1M141 892.5h2M146 892.5h1M150 892.5h2M153 892.5h1M155 892.5h1M157 892.5h1M160 892.5h1M163 892.5h1M132 893.5h1M140 893.5h3M145 893.5h4M150 893.5h1M153 893.5h1M155 893.5h1M157 893.5h2M160 893.5h3M165 893.5h2M170 893.5h1M172 893.5h1M115 894.5h1M131 894.5h1M140 894.5h1M144 894.5h3M148 894.5h3M153 894.5h1M155 894.5h1M157 894.5h1M159 894.5h1M162 894.5h1M176 894.5h1M137 895.5h1M142 895.5h2M146 895.5h5M154 895.5h1M157 895.5h1M160 895.5h2M164 895.5h1M167 895.5h1M178 895.5h1M119 896.5h1M135 896.5h1M138 896.5h3M142 896.5h5M148 896.5h6M155 896.5h1M158 896.5h4M165 896.5h1M118 897.5h1M136 897.5h1M139 897.5h1M143 897.5h1M146 897.5h5M152 897.5h3M156 897.5h1M158 897.5h5M165 897.5h1M170 897.5h1M133 898.5h1M145 898.5h1M151 898.5h1M153 898.5h3M157 898.5h1M162 898.5h2M166 898.5h1M135 899.5h2M140 899.5h1M144 899.5h2M150 899.5h2M153 899.5h1M155 899.5h2M160 899.5h4M166 899.5h1M114 900.5h1M117 900.5h1M131 900.5h1M144 900.5h1M146 900.5h1M149 900.5h4M154 900.5h3M158 900.5h1M160 900.5h2M165 900.5h1M132 901.5h2M136 901.5h1M139 901.5h2M142 901.5h3M150 901.5h3M154 901.5h1M158 901.5h2M169 901.5h1M138 902.5h2M145 902.5h1M148 902.5h4M153 902.5h2M157 902.5h1M140 903.5h1M146 903.5h2M150 903.5h2M153 903.5h1M160 903.5h1M140 904.5h2M146 904.5h1M148 904.5h1M150 904.5h3M155 904.5h1M158 904.5h1M163 904.5h1M126 905.5h1M128 905.5h2M133 905.5h3M143 905.5h2M146 905.5h1M149 905.5h1M153 905.5h2M165 905.5h2M174 905.5h1M139 906.5h1M142 906.5h1M145 906.5h1M148 906.5h1M150 906.5h2M157 906.5h1M159 906.5h3M175 906.5h1M142 907.5h2M147 907.5h2M157 907.5h2M162 907.5h1M134 908.5h1M155 908.5h1M161 908.5h1M164 908.5h1M157 909.5h1M140 910.5h1M143 910.5h2M156 910.5h1M159 910.5h1M155 911.5h1M152 912.5h1M144 914.5h1" stroke="#000" stroke-width="1" fill="none"/><rect x="108.8" y="844.1" width="122.60000000000001" height="101.29999999999995" fill="none" stroke="#000" stroke-width="1.5"/><line x1="179.4" y1="844.1" x2="179.4" y2="945.4" stroke="#222" stroke-width="1.2"/><line x1="108.8" y1="914" x2="231.4" y2="914" stroke="#222" stroke-width="1.2"/><line x1="108.8" y1="945.4" x2="108.8" y2="947.8" stroke="#000" stroke-width="0.8"/><line x1="118.03" y1="945.4" x2="118.03" y2="947.0" stroke="#000" stroke-width="0.8"/><line x1="123.42" y1="945.4" x2="123.42" y2="947.0" stroke="#000" stroke-width="0.8"/><line x1="127.25" y1="945.4" x2="127.25" y2="947.0" stroke="#000" stroke-width="0.8"/><line x1="130.22" y1="945.4" x2="130.22" y2="947.0" stroke="#000" stroke-width="0.8"/><line x1="132.65" y1="945.4" x2="132.65" y2="947.0" stroke="#000" stroke-width="0.8"/><line x1="134.7" y1="945.4" x2="134.7" y2="947.0" stroke="#000" stroke-width="0.8"/><line x1="136.48" y1="945.4" x2="136.48" y2="947.0" stroke="#000" stroke-width="0.8"/><line x1="138.05" y1="945.4" x2="138.05" y2="947.0" stroke="#000" stroke-width="0.8"/><line x1="139.45" y1="945.4" x2="139.45" y2="947.8" stroke="#000" stroke-width="0.8"/><line x1="148.68" y1="945.4" x2="148.68" y2="947.0" stroke="#000" stroke-width="0.8"/><line x1="154.07" y1="945.4" x2="154.07" y2="947.0" stroke="#000" stroke-width="0.8"/><line x1="157.9" y1="945.4" x2="157.9" y2="947.0" stroke="#000" stroke-width="0.8"/><line x1="160.87" y1="945.4" x2="160.87" y2="947.0" stroke="#000" stroke-width="0.8"/><line x1="163.3" y1="945.4" x2="163.3" y2="947.0" stroke="#000" stroke-width="0.8"/><line x1="165.35" y1="945.4" x2="165.35" y2="947.0" stroke="#000" stroke-width="0.8"/><line x1="167.13" y1="945.4" x2="167.13" y2="947.0" stroke="#000" stroke-width="0.8"/><line x1="168.7" y1="945.4" x2="168.7" y2="947.0" stroke="#000" stroke-width="0.8"/><line x1="170.1" y1="945.4" x2="170.1" y2="947.8" stroke="#000" stroke-width="0.8"/><line x1="179.33" y1="945.4" x2="179.33" y2="947.0" stroke="#000" stroke-width="0.8"/><line x1="184.72" y1="945.4" x2="184.72" y2="947.0" stroke="#000" stroke-width="0.8"/><line x1="188.55" y1="945.4" x2="188.55" y2="947.0" stroke="#000" stroke-width="0.8"/><line x1="191.52" y1="945.4" x2="191.52" y2="947.0" stroke="#000" stroke-width="0.8"/><line x1="193.95" y1="945.4" x2="193.95" y2="947.0" stroke="#000" stroke-width="0.8"/><line x1="196.0" y1="945.4" x2="196.0" y2="947.0" stroke="#000" stroke-width="0.8"/><line x1="197.78" y1="945.4" x2="197.78" y2="947.0" stroke="#000" stroke-width="0.8"/><line x1="199.35" y1="945.4" x2="199.35" y2="947.0" stroke="#000" stroke-width="0.8"/><line x1="200.75" y1="945.4" x2="200.75" y2="947.8" stroke="#000" stroke-width="0.8"/><line x1="209.98" y1="945.4" x2="209.98" y2="947.0" stroke="#000" stroke-width="0.8"/><line x1="215.37" y1="945.4" x2="215.37" y2="947.0" stroke="#000" stroke-width="0.8"/><line x1="219.2" y1="945.4" x2="219.2" y2="947.0" stroke="#000" stroke-width="0.8"/><line x1="222.17" y1="945.4" x2="222.17" y2="947.0" stroke="#000" stroke-width="0.8"/><line x1="224.6" y1="945.4" x2="224.6" y2="947.0" stroke="#000" stroke-width="0.8"/><line x1="226.65" y1="945.4" x2="226.65" y2="947.0" stroke="#000" stroke-width="0.8"/><line x1="228.43" y1="945.4" x2="228.43" y2="947.0" stroke="#000" stroke-width="0.8"/><line x1="230.0" y1="945.4" x2="230.0" y2="947.0" stroke="#000" stroke-width="0.8"/><line x1="108.8" y1="945.4" x2="106.39999999999999" y2="945.4" stroke="#000" stroke-width="0.8"/><line x1="108.8" y1="937.78" x2="107.2" y2="937.78" stroke="#000" stroke-width="0.8"/><line x1="108.8" y1="933.32" x2="107.2" y2="933.32" stroke="#000" stroke-width="0.8"/><line x1="108.8" y1="930.15" x2="107.2" y2="930.15" stroke="#000" stroke-width="0.8"/><line x1="108.8" y1="927.7" x2="107.2" y2="927.7" stroke="#000" stroke-width="0.8"/><line x1="108.8" y1="925.69" x2="107.2" y2="925.69" stroke="#000" stroke-width="0.8"/><line x1="108.8" y1="924.0" x2="107.2" y2="924.0" stroke="#000" stroke-width="0.8"/><line x1="108.8" y1="922.53" x2="107.2" y2="922.53" stroke="#000" stroke-width="0.8"/><line x1="108.8" y1="921.23" x2="107.2" y2="921.23" stroke="#000" stroke-width="0.8"/><line x1="108.8" y1="920.08" x2="106.39999999999999" y2="920.08" stroke="#000" stroke-width="0.8"/><line x1="108.8" y1="912.45" x2="107.2" y2="912.45" stroke="#000" stroke-width="0.8"/><line x1="108.8" y1="907.99" x2="107.2" y2="907.99" stroke="#000" stroke-width="0.8"/><line x1="108.8" y1="904.83" x2="107.2" y2="904.83" stroke="#000" stroke-width="0.8"/><line x1="108.8" y1="902.37" x2="107.2" y2="902.37" stroke="#000" stroke-width="0.8"/><line x1="108.8" y1="900.37" x2="107.2" y2="900.37" stroke="#000" stroke-width="0.8"/><line x1="108.8" y1="898.67" x2="107.2" y2="898.67" stroke="#000" stroke-width="0.8"/><line x1="108.8" y1="897.2" x2="107.2" y2="897.2" stroke="#000" stroke-width="0.8"/><line x1="108.8" y1="895.91" x2="107.2" y2="895.91" stroke="#000" stroke-width="0.8"/><line x1="108.8" y1="894.75" x2="106.39999999999999" y2="894.75" stroke="#000" stroke-width="0.8"/><line x1="108.8" y1="887.13" x2="107.2" y2="887.13" stroke="#000" stroke-width="0.8"/><line x1="108.8" y1="882.67" x2="107.2" y2="882.67" stroke="#000" stroke-width="0.8"/><line x1="108.8" y1="879.5" x2="107.2" y2="879.5" stroke="#000" stroke-width="0.8"/><line x1="108.8" y1="877.05" x2="107.2" y2="877.05" stroke="#000" stroke-width="0.8"/><line x1="108.8" y1="875.04" x2="107.2" y2="875.04" stroke="#000" stroke-width="0.8"/><line x1="108.8" y1="873.35" x2="107.2" y2="873.35" stroke="#000" stroke-width="0.8"/><line x1="108.8" y1="871.88" x2="107.2" y2="871.88" stroke="#000" stroke-width="0.8"/><line x1="108.8" y1="870.58" x2="107.2" y2="870.58" stroke="#000" stroke-width="0.8"/><line x1="108.8" y1="869.42" x2="106.39999999999999" y2="869.42" stroke="#000" stroke-width="0.8"/><line x1="108.8" y1="861.8" x2="107.2" y2="861.8" stroke="#000" stroke-width="0.8"/><line x1="108.8" y1="857.34" x2="107.2" y2="857.34" stroke="#000" stroke-width="0.8"/><line x1="108.8" y1="854.18" x2="107.2" y2="854.18" stroke="#000" stroke-width="0.8"/><line x1="108.8" y1="851.72" x2="107.2" y2="851.72" stroke="#000" stroke-width="0.8"/><line x1="108.8" y1="849.72" x2="107.2" y2="849.72" stroke="#000" stroke-width="0.8"/><line x1="108.8" y1="848.02" x2="107.2" y2="848.02" stroke="#000" stroke-width="0.8"/><line x1="108.8" y1="846.55" x2="107.2" y2="846.55" stroke="#000" stroke-width="0.8"/><line x1="108.8" y1="845.26" x2="107.2" y2="845.26" stroke="#000" stroke-width="0.8"/><text x="175.4" y="855.0" font-family="Liberation Serif" font-size="10" text-anchor="end" font-weight="bold">99%</text><text x="228.8" y="855.0" font-family="Liberation Serif" font-size="10" text-anchor="end" font-weight="bold">1%</text><text x="104.8" y="951.0" font-family="Liberation Sans" font-size="8.6" font-weight="bold" textLength="10.0" lengthAdjust="spacingAndGlyphs" transform="rotate(-90 104.8 951.0)">10</text><text x="100.1" y="941.0" font-family="Liberation Sans" font-size="6.5" font-weight="bold" textLength="3.6" lengthAdjust="spacingAndGlyphs" transform="rotate(-90 100.1 941.0)">0</text><text x="102.4" y="956.5" font-family="Liberation Sans" font-size="8.4" font-weight="bold" textLength="9.8" lengthAdjust="spacingAndGlyphs">10</text><text x="111.5" y="951.8" font-family="Liberation Sans" font-size="6.6" font-weight="bold">0</text><text x="104.8" y="925.68" font-family="Liberation Sans" font-size="8.6" font-weight="bold" textLength="10.0" lengthAdjust="spacingAndGlyphs" transform="rotate(-90 104.8 925.68)">10</text><text x="100.1" y="915.68" font-family="Liberation Sans" font-size="6.5" font-weight="bold" textLength="3.6" lengthAdjust="spacingAndGlyphs" transform="rotate(-90 100.1 915.68)">1</text><text x="133.05" y="956.5" font-family="Liberation Sans" font-size="8.4" font-weight="bold" textLength="9.8" lengthAdjust="spacingAndGlyphs">10</text><text x="142.15" y="951.8" font-family="Liberation Sans" font-size="6.6" font-weight="bold">1</text><text x="104.8" y="900.35" font-family="Liberation Sans" font-size="8.6" font-weight="bold" textLength="10.0" lengthAdjust="spacingAndGlyphs" transform="rotate(-90 104.8 900.35)">10</text><text x="100.1" y="890.35" font-family="Liberation Sans" font-size="6.5" font-weight="bold" textLength="3.6" lengthAdjust="spacingAndGlyphs" transform="rotate(-90 100.1 890.35)">2</text><text x="163.7" y="956.5" font-family="Liberation Sans" font-size="8.4" font-weight="bold" textLength="9.8" lengthAdjust="spacingAndGlyphs">10</text><text x="172.8" y="951.8" font-family="Liberation Sans" font-size="6.6" font-weight="bold">2</text><text x="104.8" y="875.02" font-family="Liberation Sans" font-size="8.6" font-weight="bold" textLength="10.0" lengthAdjust="spacingAndGlyphs" transform="rotate(-90 104.8 875.02)">10</text><text x="100.1" y="865.02" font-family="Liberation Sans" font-size="6.5" font-weight="bold" textLength="3.6" lengthAdjust="spacingAndGlyphs" transform="rotate(-90 100.1 865.02)">3</text><text x="194.35" y="956.5" font-family="Liberation Sans" font-size="8.4" font-weight="bold" textLength="9.8" lengthAdjust="spacingAndGlyphs">10</text><text x="203.45" y="951.8" font-family="Liberation Sans" font-size="6.6" font-weight="bold">3</text><text x="104.8" y="849.7" font-family="Liberation Sans" font-size="8.6" font-weight="bold" textLength="10.0" lengthAdjust="spacingAndGlyphs" transform="rotate(-90 104.8 849.7)">10</text><text x="100.1" y="839.7" font-family="Liberation Sans" font-size="6.5" font-weight="bold" textLength="3.6" lengthAdjust="spacingAndGlyphs" transform="rotate(-90 100.1 839.7)">4</text><text x="225.0" y="956.5" font-family="Liberation Sans" font-size="8.4" font-weight="bold" textLength="9.8" lengthAdjust="spacingAndGlyphs">10</text><text x="234.1" y="951.8" font-family="Liberation Sans" font-size="6.6" font-weight="bold">4</text><text x="170.6" y="963.5" font-family="Liberation Sans" font-size="6.0" text-anchor="middle" font-weight="bold" textLength="20.4" lengthAdjust="spacingAndGlyphs">TET PE</text><text x="88" y="897" font-family="Liberation Sans" font-size="4.5" text-anchor="middle" font-weight="bold" textLength="21.2" lengthAdjust="spacingAndGlyphs" transform="rotate(-90 88 897)">CD8 PerCP</text><path d="M325 861.5h1M345 862.5h2M313 864.5h1M327 864.5h1M333 864.5h1M337 864.5h1M321 865.5h3M326 865.5h1M334 865.5h1M337 865.5h1M353 865.5h1M321 866.5h1M323 866.5h1M329 866.5h3M334 866.5h2M339 866.5h2M325 867.5h1M329 867.5h2M333 867.5h1M337 867.5h1M325 868.5h3M330 868.5h2M333 868.5h3M349 868.5h1M317 869.5h1M321 869.5h1M324 869.5h5M330 869.5h1M332 869.5h2M336 869.5h3M340 869.5h1M321 870.5h1M324 870.5h1M326 870.5h2M329 870.5h10M342 870.5h1M348 870.5h1M365 870.5h1M322 871.5h3M326 871.5h14M357 871.5h1M378 871.5h1M391 871.5h1M315 872.5h1M320 872.5h2M323 872.5h1M325 872.5h2M328 872.5h10M339 872.5h2M342 872.5h2M371 872.5h1M381 872.5h1M388 872.5h1M391 872.5h1M320 873.5h1M322 873.5h17M340 873.5h3M346 873.5h2M313 874.5h1M317 874.5h3M323 874.5h18M388 874.5h1M325 875.5h15M341 875.5h2M356 875.5h1M368 875.5h1M319 876.5h2M322 876.5h2M325 876.5h15M341 876.5h1M343 876.5h2M318 877.5h1M322 877.5h4M327 877.5h12M340 877.5h1M342 877.5h1M346 877.5h1M386 877.5h1M298 878.5h1M317 878.5h1M320 878.5h5M326 878.5h13M340 878.5h1M343 878.5h1M346 878.5h1M357 878.5h1M392 878.5h1M319 879.5h1M323 879.5h17M341 879.5h1M349 879.5h1M351 879.5h1M358 879.5h1M361 879.5h1M292 880.5h1M307 880.5h1M318 880.5h7M326 880.5h10M337 880.5h2M340 880.5h3M390 880.5h1M394 880.5h1M313 881.5h1M321 881.5h3M325 881.5h11M337 881.5h1M339 881.5h1M341 881.5h1M343 881.5h1M346 881.5h1M349 881.5h1M369 881.5h1M396 881.5h1M317 882.5h1M319 882.5h1M323 882.5h1M325 882.5h1M327 882.5h5M333 882.5h3M337 882.5h2M341 882.5h1M347 882.5h1M317 883.5h1M319 883.5h1M325 883.5h6M332 883.5h8M345 883.5h1M387 883.5h1M316 884.5h1M320 884.5h1M323 884.5h1M325 884.5h1M327 884.5h1M329 884.5h5M335 884.5h3M340 884.5h2M346 884.5h1M350 884.5h1M313 885.5h1M322 885.5h6M329 885.5h3M333 885.5h2M337 885.5h1M339 885.5h3M343 885.5h1M347 885.5h1M318 886.5h1M321 886.5h1M325 886.5h1M329 886.5h2M333 886.5h3M337 886.5h1M339 886.5h1M351 886.5h1M319 887.5h1M325 887.5h2M330 887.5h4M338 887.5h3M342 887.5h1M347 887.5h1M324 888.5h1M326 888.5h1M328 888.5h4M333 888.5h5M341 888.5h1M347 888.5h1M353 888.5h1M386 888.5h1M319 889.5h1M321 889.5h1M324 889.5h1M326 889.5h1M328 889.5h4M333 889.5h4M338 889.5h1M341 889.5h1M343 889.5h1M314 890.5h1M320 890.5h1M323 890.5h1M327 890.5h1M329 890.5h3M335 890.5h3M339 890.5h1M346 890.5h1M313 891.5h1M318 891.5h1M325 891.5h1M327 891.5h1M331 891.5h1M333 891.5h3M337 891.5h1M339 891.5h1M358 891.5h1M380 891.5h1M305 892.5h1M307 892.5h1M325 892.5h4M330 892.5h6M337 892.5h1M339 892.5h1M341 892.5h1M344 892.5h1M351 892.5h2M323 893.5h1M325 893.5h1M327 893.5h1M332 893.5h2M335 893.5h3M340 893.5h1M342 893.5h1M317 894.5h1M321 894.5h1M326 894.5h1M329 894.5h2M333 894.5h3M337 894.5h1M339 894.5h1M341 894.5h1M325 895.5h2M328 895.5h1M330 895.5h5M336 895.5h1M346 895.5h1M321 896.5h2M325 896.5h2M328 896.5h5M335 896.5h2M338 896.5h2M347 896.5h1M324 897.5h2M327 897.5h2M330 897.5h1M333 897.5h1M338 897.5h1M316 898.5h1M327 898.5h2M331 898.5h3M336 898.5h1M339 898.5h1M343 898.5h1M348 898.5h1M319 899.5h3M324 899.5h1M326 899.5h3M330 899.5h1M332 899.5h1M336 899.5h4M343 899.5h1M325 900.5h2M329 900.5h1M331 900.5h2M334 900.5h5M323 901.5h2M326 901.5h1M330 901.5h1M332 901.5h2M343 901.5h1M391 901.5h1M316 902.5h1M326 902.5h1M335 902.5h1M337 902.5h1M343 902.5h2M314 903.5h1M323 903.5h3M336 903.5h1M338 903.5h1M361 903.5h1M329 904.5h2M332 904.5h1M335 904.5h2M338 904.5h1M345 904.5h1M322 905.5h1M325 905.5h1M327 905.5h1M332 905.5h2M328 906.5h1M332 906.5h3M336 906.5h2M342 906.5h1M308 907.5h1M333 907.5h1M340 907.5h1M340 908.5h1M346 908.5h1M314 909.5h1M331 909.5h1M333 909.5h1M335 909.5h1M338 909.5h2M341 909.5h1M343 909.5h1M327 910.5h4M343 910.5h1M331 911.5h1M339 911.5h1M311 912.5h1M321 912.5h1M328 912.5h1M317 914.5h1M333 914.5h1M331 916.5h1" stroke="#000" stroke-width="1" fill="none"/><rect x="279.2" y="844.6" width="124.40000000000003" height="101.19999999999993" fill="none" stroke="#000" stroke-width="1.5"/><line x1="354" y1="844.6" x2="354" y2="945.8" stroke="#222" stroke-width="1.2"/><line x1="279.2" y1="913.3" x2="403.6" y2="913.3" stroke="#222" stroke-width="1.2"/><line x1="279.2" y1="945.8" x2="279.2" y2="948.1999999999999" stroke="#000" stroke-width="0.8"/><line x1="288.56" y1="945.8" x2="288.56" y2="947.4" stroke="#000" stroke-width="0.8"/><line x1="294.04" y1="945.8" x2="294.04" y2="947.4" stroke="#000" stroke-width="0.8"/><line x1="297.92" y1="945.8" x2="297.92" y2="947.4" stroke="#000" stroke-width="0.8"/><line x1="300.94" y1="945.8" x2="300.94" y2="947.4" stroke="#000" stroke-width="0.8"/><line x1="303.4" y1="945.8" x2="303.4" y2="947.4" stroke="#000" stroke-width="0.8"/><line x1="305.48" y1="945.8" x2="305.48" y2="947.4" stroke="#000" stroke-width="0.8"/><line x1="307.29" y1="945.8" x2="307.29" y2="947.4" stroke="#000" stroke-width="0.8"/><line x1="308.88" y1="945.8" x2="308.88" y2="947.4" stroke="#000" stroke-width="0.8"/><line x1="310.3" y1="945.8" x2="310.3" y2="948.1999999999999" stroke="#000" stroke-width="0.8"/><line x1="319.66" y1="945.8" x2="319.66" y2="947.4" stroke="#000" stroke-width="0.8"/><line x1="325.14" y1="945.8" x2="325.14" y2="947.4" stroke="#000" stroke-width="0.8"/><line x1="329.02" y1="945.8" x2="329.02" y2="947.4" stroke="#000" stroke-width="0.8"/><line x1="332.04" y1="945.8" x2="332.04" y2="947.4" stroke="#000" stroke-width="0.8"/><line x1="334.5" y1="945.8" x2="334.5" y2="947.4" stroke="#000" stroke-width="0.8"/><line x1="336.58" y1="945.8" x2="336.58" y2="947.4" stroke="#000" stroke-width="0.8"/><line x1="338.39" y1="945.8" x2="338.39" y2="947.4" stroke="#000" stroke-width="0.8"/><line x1="339.98" y1="945.8" x2="339.98" y2="947.4" stroke="#000" stroke-width="0.8"/><line x1="341.4" y1="945.8" x2="341.4" y2="948.1999999999999" stroke="#000" stroke-width="0.8"/><line x1="350.76" y1="945.8" x2="350.76" y2="947.4" stroke="#000" stroke-width="0.8"/><line x1="356.24" y1="945.8" x2="356.24" y2="947.4" stroke="#000" stroke-width="0.8"/><line x1="360.12" y1="945.8" x2="360.12" y2="947.4" stroke="#000" stroke-width="0.8"/><line x1="363.14" y1="945.8" x2="363.14" y2="947.4" stroke="#000" stroke-width="0.8"/><line x1="365.6" y1="945.8" x2="365.6" y2="947.4" stroke="#000" stroke-width="0.8"/><line x1="367.68" y1="945.8" x2="367.68" y2="947.4" stroke="#000" stroke-width="0.8"/><line x1="369.49" y1="945.8" x2="369.49" y2="947.4" stroke="#000" stroke-width="0.8"/><line x1="371.08" y1="945.8" x2="371.08" y2="947.4" stroke="#000" stroke-width="0.8"/><line x1="372.5" y1="945.8" x2="372.5" y2="948.1999999999999" stroke="#000" stroke-width="0.8"/><line x1="381.86" y1="945.8" x2="381.86" y2="947.4" stroke="#000" stroke-width="0.8"/><line x1="387.34" y1="945.8" x2="387.34" y2="947.4" stroke="#000" stroke-width="0.8"/><line x1="391.22" y1="945.8" x2="391.22" y2="947.4" stroke="#000" stroke-width="0.8"/><line x1="394.24" y1="945.8" x2="394.24" y2="947.4" stroke="#000" stroke-width="0.8"/><line x1="396.7" y1="945.8" x2="396.7" y2="947.4" stroke="#000" stroke-width="0.8"/><line x1="398.78" y1="945.8" x2="398.78" y2="947.4" stroke="#000" stroke-width="0.8"/><line x1="400.59" y1="945.8" x2="400.59" y2="947.4" stroke="#000" stroke-width="0.8"/><line x1="402.18" y1="945.8" x2="402.18" y2="947.4" stroke="#000" stroke-width="0.8"/><line x1="279.2" y1="945.8" x2="276.8" y2="945.8" stroke="#000" stroke-width="0.8"/><line x1="279.2" y1="938.18" x2="277.59999999999997" y2="938.18" stroke="#000" stroke-width="0.8"/><line x1="279.2" y1="933.73" x2="277.59999999999997" y2="933.73" stroke="#000" stroke-width="0.8"/><line x1="279.2" y1="930.57" x2="277.59999999999997" y2="930.57" stroke="#000" stroke-width="0.8"/><line x1="279.2" y1="928.12" x2="277.59999999999997" y2="928.12" stroke="#000" stroke-width="0.8"/><line x1="279.2" y1="926.11" x2="277.59999999999997" y2="926.11" stroke="#000" stroke-width="0.8"/><line x1="279.2" y1="924.42" x2="277.59999999999997" y2="924.42" stroke="#000" stroke-width="0.8"/><line x1="279.2" y1="922.95" x2="277.59999999999997" y2="922.95" stroke="#000" stroke-width="0.8"/><line x1="279.2" y1="921.66" x2="277.59999999999997" y2="921.66" stroke="#000" stroke-width="0.8"/><line x1="279.2" y1="920.5" x2="276.8" y2="920.5" stroke="#000" stroke-width="0.8"/><line x1="279.2" y1="912.88" x2="277.59999999999997" y2="912.88" stroke="#000" stroke-width="0.8"/><line x1="279.2" y1="908.43" x2="277.59999999999997" y2="908.43" stroke="#000" stroke-width="0.8"/><line x1="279.2" y1="905.27" x2="277.59999999999997" y2="905.27" stroke="#000" stroke-width="0.8"/><line x1="279.2" y1="902.82" x2="277.59999999999997" y2="902.82" stroke="#000" stroke-width="0.8"/><line x1="279.2" y1="900.81" x2="277.59999999999997" y2="900.81" stroke="#000" stroke-width="0.8"/><line x1="279.2" y1="899.12" x2="277.59999999999997" y2="899.12" stroke="#000" stroke-width="0.8"/><line x1="279.2" y1="897.65" x2="277.59999999999997" y2="897.65" stroke="#000" stroke-width="0.8"/><line x1="279.2" y1="896.36" x2="277.59999999999997" y2="896.36" stroke="#000" stroke-width="0.8"/><line x1="279.2" y1="895.2" x2="276.8" y2="895.2" stroke="#000" stroke-width="0.8"/><line x1="279.2" y1="887.58" x2="277.59999999999997" y2="887.58" stroke="#000" stroke-width="0.8"/><line x1="279.2" y1="883.13" x2="277.59999999999997" y2="883.13" stroke="#000" stroke-width="0.8"/><line x1="279.2" y1="879.97" x2="277.59999999999997" y2="879.97" stroke="#000" stroke-width="0.8"/><line x1="279.2" y1="877.52" x2="277.59999999999997" y2="877.52" stroke="#000" stroke-width="0.8"/><line x1="279.2" y1="875.51" x2="277.59999999999997" y2="875.51" stroke="#000" stroke-width="0.8"/><line x1="279.2" y1="873.82" x2="277.59999999999997" y2="873.82" stroke="#000" stroke-width="0.8"/><line x1="279.2" y1="872.35" x2="277.59999999999997" y2="872.35" stroke="#000" stroke-width="0.8"/><line x1="279.2" y1="871.06" x2="277.59999999999997" y2="871.06" stroke="#000" stroke-width="0.8"/><line x1="279.2" y1="869.9" x2="276.8" y2="869.9" stroke="#000" stroke-width="0.8"/><line x1="279.2" y1="862.28" x2="277.59999999999997" y2="862.28" stroke="#000" stroke-width="0.8"/><line x1="279.2" y1="857.83" x2="277.59999999999997" y2="857.83" stroke="#000" stroke-width="0.8"/><line x1="279.2" y1="854.67" x2="277.59999999999997" y2="854.67" stroke="#000" stroke-width="0.8"/><line x1="279.2" y1="852.22" x2="277.59999999999997" y2="852.22" stroke="#000" stroke-width="0.8"/><line x1="279.2" y1="850.21" x2="277.59999999999997" y2="850.21" stroke="#000" stroke-width="0.8"/><line x1="279.2" y1="848.52" x2="277.59999999999997" y2="848.52" stroke="#000" stroke-width="0.8"/><line x1="279.2" y1="847.05" x2="277.59999999999997" y2="847.05" stroke="#000" stroke-width="0.8"/><line x1="279.2" y1="845.76" x2="277.59999999999997" y2="845.76" stroke="#000" stroke-width="0.8"/><text x="350.0" y="855.5" font-family="Liberation Serif" font-size="10" text-anchor="end" font-weight="bold">98%</text><text x="401.0" y="855.5" font-family="Liberation Serif" font-size="10" text-anchor="end" font-weight="bold">2%</text><text x="275.2" y="951.4" font-family="Liberation Sans" font-size="8.6" font-weight="bold" textLength="10.0" lengthAdjust="spacingAndGlyphs" transform="rotate(-90 275.2 951.4)">10</text><text x="270.5" y="941.4" font-family="Liberation Sans" font-size="6.5" font-weight="bold" textLength="3.6" lengthAdjust="spacingAndGlyphs" transform="rotate(-90 270.5 941.4)">0</text><text x="272.8" y="957.7" font-family="Liberation Sans" font-size="8.4" font-weight="bold" textLength="9.8" lengthAdjust="spacingAndGlyphs">10</text><text x="281.9" y="953.0" font-family="Liberation Sans" font-size="6.6" font-weight="bold">0</text><text x="275.2" y="926.1" font-family="Liberation Sans" font-size="8.6" font-weight="bold" textLength="10.0" lengthAdjust="spacingAndGlyphs" transform="rotate(-90 275.2 926.1)">10</text><text x="270.5" y="916.1" font-family="Liberation Sans" font-size="6.5" font-weight="bold" textLength="3.6" lengthAdjust="spacingAndGlyphs" transform="rotate(-90 270.5 916.1)">1</text><text x="303.9" y="957.7" font-family="Liberation Sans" font-size="8.4" font-weight="bold" textLength="9.8" lengthAdjust="spacingAndGlyphs">10</text><text x="313.0" y="953.0" font-family="Liberation Sans" font-size="6.6" font-weight="bold">1</text><text x="275.2" y="900.8" font-family="Liberation Sans" font-size="8.6" font-weight="bold" textLength="10.0" lengthAdjust="spacingAndGlyphs" transform="rotate(-90 275.2 900.8)">10</text><text x="270.5" y="890.8" font-family="Liberation Sans" font-size="6.5" font-weight="bold" textLength="3.6" lengthAdjust="spacingAndGlyphs" transform="rotate(-90 270.5 890.8)">2</text><text x="335.0" y="957.7" font-family="Liberation Sans" font-size="8.4" font-weight="bold" textLength="9.8" lengthAdjust="spacingAndGlyphs">10</text><text x="344.1" y="953.0" font-family="Liberation Sans" font-size="6.6" font-weight="bold">2</text><text x="275.2" y="875.5" font-family="Liberation Sans" font-size="8.6" font-weight="bold" textLength="10.0" lengthAdjust="spacingAndGlyphs" transform="rotate(-90 275.2 875.5)">10</text><text x="270.5" y="865.5" font-family="Liberation Sans" font-size="6.5" font-weight="bold" textLength="3.6" lengthAdjust="spacingAndGlyphs" transform="rotate(-90 270.5 865.5)">3</text><text x="366.1" y="957.7" font-family="Liberation Sans" font-size="8.4" font-weight="bold" textLength="9.8" lengthAdjust="spacingAndGlyphs">10</text><text x="375.2" y="953.0" font-family="Liberation Sans" font-size="6.6" font-weight="bold">3</text><text x="275.2" y="850.2" font-family="Liberation Sans" font-size="8.6" font-weight="bold" textLength="10.0" lengthAdjust="spacingAndGlyphs" transform="rotate(-90 275.2 850.2)">10</text><text x="270.5" y="840.2" font-family="Liberation Sans" font-size="6.5" font-weight="bold" textLength="3.6" lengthAdjust="spacingAndGlyphs" transform="rotate(-90 270.5 840.2)">4</text><text x="397.2" y="957.7" font-family="Liberation Sans" font-size="8.4" font-weight="bold" textLength="9.8" lengthAdjust="spacingAndGlyphs">10</text><text x="406.3" y="953.0" font-family="Liberation Sans" font-size="6.6" font-weight="bold">4</text><text x="341.2" y="965.8" font-family="Liberation Sans" font-size="5.6" text-anchor="middle" font-weight="bold" textLength="20.1" lengthAdjust="spacingAndGlyphs">TET PE</text><text x="255" y="886" font-family="Liberation Sans" font-size="4.5" text-anchor="middle" font-weight="bold" textLength="22" lengthAdjust="spacingAndGlyphs" transform="rotate(-90 255 886)">CD8 PerCP</text><path d="M159 997.5h1M147 999.5h1M164 999.5h1M158 1000.5h1M163 1000.5h2M146 1001.5h1M152 1001.5h1M159 1001.5h1M162 1001.5h1M150 1002.5h1M158 1002.5h1M166 1002.5h1M141 1003.5h1M145 1003.5h1M149 1003.5h1M152 1003.5h1M163 1003.5h1M181 1003.5h1M130 1004.5h1M134 1004.5h1M138 1004.5h1M140 1004.5h1M146 1004.5h1M169 1004.5h1M179 1004.5h2M218 1004.5h1M129 1005.5h1M138 1005.5h1M142 1005.5h1M144 1005.5h1M147 1005.5h1M153 1005.5h1M156 1005.5h1M159 1005.5h2M163 1005.5h3M167 1005.5h1M113 1006.5h1M132 1006.5h2M139 1006.5h2M146 1006.5h5M156 1006.5h1M166 1006.5h4M176 1006.5h1M126 1007.5h1M129 1007.5h3M136 1007.5h1M141 1007.5h1M143 1007.5h2M146 1007.5h5M152 1007.5h3M157 1007.5h2M163 1007.5h6M171 1007.5h1M173 1007.5h1M200 1007.5h1M125 1008.5h1M131 1008.5h1M133 1008.5h1M136 1008.5h1M138 1008.5h1M142 1008.5h1M144 1008.5h5M152 1008.5h2M155 1008.5h2M160 1008.5h2M163 1008.5h1M165 1008.5h1M168 1008.5h2M185 1008.5h1M134 1009.5h2M137 1009.5h1M141 1009.5h2M144 1009.5h3M148 1009.5h2M151 1009.5h3M155 1009.5h1M157 1009.5h1M161 1009.5h1M164 1009.5h1M166 1009.5h1M172 1009.5h1M176 1009.5h2M115 1010.5h1M122 1010.5h1M124 1010.5h1M128 1010.5h1M132 1010.5h1M135 1010.5h3M139 1010.5h2M142 1010.5h8M151 1010.5h2M154 1010.5h2M157 1010.5h2M161 1010.5h1M163 1010.5h2M166 1010.5h4M174 1010.5h1M179 1010.5h1M120 1011.5h2M127 1011.5h2M130 1011.5h2M136 1011.5h3M140 1011.5h12M154 1011.5h3M160 1011.5h3M165 1011.5h9M175 1011.5h1M179 1011.5h1M183 1011.5h1M116 1012.5h1M122 1012.5h3M127 1012.5h1M132 1012.5h1M136 1012.5h13M150 1012.5h4M155 1012.5h6M164 1012.5h1M167 1012.5h4M174 1012.5h1M178 1012.5h1M121 1013.5h3M125 1013.5h1M128 1013.5h3M133 1013.5h1M135 1013.5h15M151 1013.5h5M160 1013.5h1M162 1013.5h1M166 1013.5h2M169 1013.5h2M174 1013.5h1M176 1013.5h4M115 1014.5h1M117 1014.5h1M120 1014.5h2M124 1014.5h3M130 1014.5h1M134 1014.5h1M137 1014.5h15M154 1014.5h2M157 1014.5h1M160 1014.5h2M163 1014.5h1M169 1014.5h3M200 1014.5h1M221 1014.5h1M114 1015.5h2M121 1015.5h1M123 1015.5h1M126 1015.5h2M130 1015.5h1M132 1015.5h26M161 1015.5h1M163 1015.5h2M168 1015.5h1M171 1015.5h1M115 1016.5h1M121 1016.5h2M124 1016.5h1M126 1016.5h1M129 1016.5h1M132 1016.5h19M153 1016.5h7M166 1016.5h1M168 1016.5h1M175 1016.5h1M117 1017.5h1M119 1017.5h1M123 1017.5h3M128 1017.5h3M133 1017.5h16M150 1017.5h6M157 1017.5h2M160 1017.5h1M165 1017.5h1M172 1017.5h1M116 1018.5h3M121 1018.5h1M125 1018.5h2M128 1018.5h1M131 1018.5h24M156 1018.5h3M113 1019.5h1M117 1019.5h1M120 1019.5h1M123 1019.5h1M129 1019.5h7M137 1019.5h14M152 1019.5h4M157 1019.5h4M163 1019.5h1M169 1019.5h1M115 1020.5h1M123 1020.5h3M127 1020.5h2M131 1020.5h4M136 1020.5h7M144 1020.5h8M154 1020.5h1M156 1020.5h1M159 1020.5h1M164 1020.5h1M201 1020.5h1M113 1021.5h1M119 1021.5h2M124 1021.5h1M126 1021.5h2M129 1021.5h2M132 1021.5h9M142 1021.5h9M152 1021.5h2M155 1021.5h1M159 1021.5h1M164 1021.5h1M170 1021.5h1M123 1022.5h2M127 1022.5h3M132 1022.5h4M137 1022.5h15M153 1022.5h1M155 1022.5h1M157 1022.5h1M159 1022.5h1M164 1022.5h1M171 1022.5h1M115 1023.5h2M123 1023.5h1M125 1023.5h3M130 1023.5h3M134 1023.5h1M136 1023.5h14M151 1023.5h3M155 1023.5h2M168 1023.5h1M193 1023.5h1M221 1023.5h1M122 1024.5h2M125 1024.5h1M128 1024.5h4M135 1024.5h10M146 1024.5h5M152 1024.5h1M155 1024.5h1M164 1024.5h1M120 1025.5h1M125 1025.5h2M128 1025.5h1M132 1025.5h8M141 1025.5h1M144 1025.5h6M151 1025.5h2M163 1025.5h3M116 1026.5h3M123 1026.5h1M127 1026.5h2M130 1026.5h1M132 1026.5h10M143 1026.5h10M154 1026.5h2M158 1026.5h2M118 1027.5h1M121 1027.5h2M124 1027.5h2M128 1027.5h1M132 1027.5h1M136 1027.5h1M138 1027.5h3M143 1027.5h9M154 1027.5h2M160 1027.5h2M170 1027.5h1M130 1028.5h2M133 1028.5h1M135 1028.5h9M145 1028.5h1M147 1028.5h3M152 1028.5h1M195 1028.5h1M123 1029.5h1M127 1029.5h1M129 1029.5h1M135 1029.5h1M138 1029.5h2M143 1029.5h3M147 1029.5h3M151 1029.5h1M154 1029.5h1M156 1029.5h1M164 1029.5h1M178 1029.5h1M222 1029.5h1M127 1030.5h2M131 1030.5h1M134 1030.5h2M137 1030.5h6M144 1030.5h1M146 1030.5h5M152 1030.5h2M155 1030.5h2M159 1030.5h1M162 1030.5h1M119 1031.5h2M130 1031.5h1M132 1031.5h1M137 1031.5h1M139 1031.5h2M143 1031.5h2M146 1031.5h5M152 1031.5h3M156 1031.5h1M159 1031.5h1M180 1031.5h1M131 1032.5h2M139 1032.5h1M142 1032.5h1M144 1032.5h1M146 1032.5h2M150 1032.5h4M156 1032.5h1M158 1032.5h2M161 1032.5h1M131 1033.5h1M133 1033.5h1M135 1033.5h2M139 1033.5h4M144 1033.5h2M147 1033.5h1M149 1033.5h2M153 1033.5h1M155 1033.5h1M157 1033.5h1M159 1033.5h1M171 1033.5h1M135 1034.5h3M140 1034.5h6M147 1034.5h6M156 1034.5h1M163 1034.5h1M165 1034.5h1M134 1035.5h3M142 1035.5h1M144 1035.5h1M149 1035.5h1M151 1035.5h3M155 1035.5h1M118 1036.5h1M128 1036.5h2M133 1036.5h1M137 1036.5h1M141 1036.5h1M144 1036.5h1M146 1036.5h3M151 1036.5h1M155 1036.5h1M159 1036.5h1M138 1037.5h1M140 1037.5h1M142 1037.5h1M144 1037.5h1M147 1037.5h1M149 1037.5h1M152 1037.5h1M155 1037.5h1M157 1037.5h1M131 1038.5h1M139 1038.5h2M143 1038.5h1M146 1038.5h1M150 1038.5h1M154 1038.5h1M118 1039.5h1M144 1039.5h1M148 1039.5h1M154 1039.5h1M156 1039.5h1M163 1039.5h1M170 1039.5h1M117 1040.5h1M131 1040.5h1M143 1040.5h2M153 1040.5h2M160 1040.5h1M128 1041.5h1M134 1041.5h1M142 1041.5h1M144 1041.5h1M148 1041.5h1M136 1043.5h1M134 1044.5h1M139 1044.5h1M115 1045.5h1M125 1045.5h1M134 1045.5h1M167 1046.5h1M143 1047.5h1M147 1047.5h1M129 1048.5h1M176 1048.5h1" stroke="#000" stroke-width="1" fill="none"/><rect x="112.0" y="979.2" width="119.9" height="102.70000000000005" fill="none" stroke="#000" stroke-width="1.5"/><line x1="181.3" y1="979.2" x2="181.3" y2="1081.9" stroke="#222" stroke-width="1.2"/><line x1="112.0" y1="1050.7" x2="231.9" y2="1050.7" stroke="#222" stroke-width="1.2"/><line x1="112.0" y1="1081.9" x2="112.0" y2="1084.3000000000002" stroke="#000" stroke-width="0.8"/><line x1="121.02" y1="1081.9" x2="121.02" y2="1083.5" stroke="#000" stroke-width="0.8"/><line x1="126.3" y1="1081.9" x2="126.3" y2="1083.5" stroke="#000" stroke-width="0.8"/><line x1="130.05" y1="1081.9" x2="130.05" y2="1083.5" stroke="#000" stroke-width="0.8"/><line x1="132.95" y1="1081.9" x2="132.95" y2="1083.5" stroke="#000" stroke-width="0.8"/><line x1="135.33" y1="1081.9" x2="135.33" y2="1083.5" stroke="#000" stroke-width="0.8"/><line x1="137.33" y1="1081.9" x2="137.33" y2="1083.5" stroke="#000" stroke-width="0.8"/><line x1="139.07" y1="1081.9" x2="139.07" y2="1083.5" stroke="#000" stroke-width="0.8"/><line x1="140.6" y1="1081.9" x2="140.6" y2="1083.5" stroke="#000" stroke-width="0.8"/><line x1="141.97" y1="1081.9" x2="141.97" y2="1084.3000000000002" stroke="#000" stroke-width="0.8"/><line x1="151.0" y1="1081.9" x2="151.0" y2="1083.5" stroke="#000" stroke-width="0.8"/><line x1="156.28" y1="1081.9" x2="156.28" y2="1083.5" stroke="#000" stroke-width="0.8"/><line x1="160.02" y1="1081.9" x2="160.02" y2="1083.5" stroke="#000" stroke-width="0.8"/><line x1="162.93" y1="1081.9" x2="162.93" y2="1083.5" stroke="#000" stroke-width="0.8"/><line x1="165.3" y1="1081.9" x2="165.3" y2="1083.5" stroke="#000" stroke-width="0.8"/><line x1="167.31" y1="1081.9" x2="167.31" y2="1083.5" stroke="#000" stroke-width="0.8"/><line x1="169.05" y1="1081.9" x2="169.05" y2="1083.5" stroke="#000" stroke-width="0.8"/><line x1="170.58" y1="1081.9" x2="170.58" y2="1083.5" stroke="#000" stroke-width="0.8"/><line x1="171.95" y1="1081.9" x2="171.95" y2="1084.3000000000002" stroke="#000" stroke-width="0.8"/><line x1="180.97" y1="1081.9" x2="180.97" y2="1083.5" stroke="#000" stroke-width="0.8"/><line x1="186.25" y1="1081.9" x2="186.25" y2="1083.5" stroke="#000" stroke-width="0.8"/><line x1="190.0" y1="1081.9" x2="190.0" y2="1083.5" stroke="#000" stroke-width="0.8"/><line x1="192.9" y1="1081.9" x2="192.9" y2="1083.5" stroke="#000" stroke-width="0.8"/><line x1="195.28" y1="1081.9" x2="195.28" y2="1083.5" stroke="#000" stroke-width="0.8"/><line x1="197.28" y1="1081.9" x2="197.28" y2="1083.5" stroke="#000" stroke-width="0.8"/><line x1="199.02" y1="1081.9" x2="199.02" y2="1083.5" stroke="#000" stroke-width="0.8"/><line x1="200.55" y1="1081.9" x2="200.55" y2="1083.5" stroke="#000" stroke-width="0.8"/><line x1="201.93" y1="1081.9" x2="201.93" y2="1084.3000000000002" stroke="#000" stroke-width="0.8"/><line x1="210.95" y1="1081.9" x2="210.95" y2="1083.5" stroke="#000" stroke-width="0.8"/><line x1="216.23" y1="1081.9" x2="216.23" y2="1083.5" stroke="#000" stroke-width="0.8"/><line x1="219.97" y1="1081.9" x2="219.97" y2="1083.5" stroke="#000" stroke-width="0.8"/><line x1="222.88" y1="1081.9" x2="222.88" y2="1083.5" stroke="#000" stroke-width="0.8"/><line x1="225.25" y1="1081.9" x2="225.25" y2="1083.5" stroke="#000" stroke-width="0.8"/><line x1="227.26" y1="1081.9" x2="227.26" y2="1083.5" stroke="#000" stroke-width="0.8"/><line x1="229.0" y1="1081.9" x2="229.0" y2="1083.5" stroke="#000" stroke-width="0.8"/><line x1="230.53" y1="1081.9" x2="230.53" y2="1083.5" stroke="#000" stroke-width="0.8"/><line x1="112.0" y1="1081.9" x2="109.6" y2="1081.9" stroke="#000" stroke-width="0.8"/><line x1="112.0" y1="1074.17" x2="110.4" y2="1074.17" stroke="#000" stroke-width="0.8"/><line x1="112.0" y1="1069.65" x2="110.4" y2="1069.65" stroke="#000" stroke-width="0.8"/><line x1="112.0" y1="1066.44" x2="110.4" y2="1066.44" stroke="#000" stroke-width="0.8"/><line x1="112.0" y1="1063.95" x2="110.4" y2="1063.95" stroke="#000" stroke-width="0.8"/><line x1="112.0" y1="1061.92" x2="110.4" y2="1061.92" stroke="#000" stroke-width="0.8"/><line x1="112.0" y1="1060.2" x2="110.4" y2="1060.2" stroke="#000" stroke-width="0.8"/><line x1="112.0" y1="1058.71" x2="110.4" y2="1058.71" stroke="#000" stroke-width="0.8"/><line x1="112.0" y1="1057.4" x2="110.4" y2="1057.4" stroke="#000" stroke-width="0.8"/><line x1="112.0" y1="1056.23" x2="109.6" y2="1056.23" stroke="#000" stroke-width="0.8"/><line x1="112.0" y1="1048.5" x2="110.4" y2="1048.5" stroke="#000" stroke-width="0.8"/><line x1="112.0" y1="1043.97" x2="110.4" y2="1043.97" stroke="#000" stroke-width="0.8"/><line x1="112.0" y1="1040.77" x2="110.4" y2="1040.77" stroke="#000" stroke-width="0.8"/><line x1="112.0" y1="1038.28" x2="110.4" y2="1038.28" stroke="#000" stroke-width="0.8"/><line x1="112.0" y1="1036.25" x2="110.4" y2="1036.25" stroke="#000" stroke-width="0.8"/><line x1="112.0" y1="1034.53" x2="110.4" y2="1034.53" stroke="#000" stroke-width="0.8"/><line x1="112.0" y1="1033.04" x2="110.4" y2="1033.04" stroke="#000" stroke-width="0.8"/><line x1="112.0" y1="1031.72" x2="110.4" y2="1031.72" stroke="#000" stroke-width="0.8"/><line x1="112.0" y1="1030.55" x2="109.6" y2="1030.55" stroke="#000" stroke-width="0.8"/><line x1="112.0" y1="1022.82" x2="110.4" y2="1022.82" stroke="#000" stroke-width="0.8"/><line x1="112.0" y1="1018.3" x2="110.4" y2="1018.3" stroke="#000" stroke-width="0.8"/><line x1="112.0" y1="1015.09" x2="110.4" y2="1015.09" stroke="#000" stroke-width="0.8"/><line x1="112.0" y1="1012.6" x2="110.4" y2="1012.6" stroke="#000" stroke-width="0.8"/><line x1="112.0" y1="1010.57" x2="110.4" y2="1010.57" stroke="#000" stroke-width="0.8"/><line x1="112.0" y1="1008.85" x2="110.4" y2="1008.85" stroke="#000" stroke-width="0.8"/><line x1="112.0" y1="1007.36" x2="110.4" y2="1007.36" stroke="#000" stroke-width="0.8"/><line x1="112.0" y1="1006.05" x2="110.4" y2="1006.05" stroke="#000" stroke-width="0.8"/><line x1="112.0" y1="1004.88" x2="109.6" y2="1004.88" stroke="#000" stroke-width="0.8"/><line x1="112.0" y1="997.15" x2="110.4" y2="997.15" stroke="#000" stroke-width="0.8"/><line x1="112.0" y1="992.62" x2="110.4" y2="992.62" stroke="#000" stroke-width="0.8"/><line x1="112.0" y1="989.42" x2="110.4" y2="989.42" stroke="#000" stroke-width="0.8"/><line x1="112.0" y1="986.93" x2="110.4" y2="986.93" stroke="#000" stroke-width="0.8"/><line x1="112.0" y1="984.9" x2="110.4" y2="984.9" stroke="#000" stroke-width="0.8"/><line x1="112.0" y1="983.18" x2="110.4" y2="983.18" stroke="#000" stroke-width="0.8"/><line x1="112.0" y1="981.69" x2="110.4" y2="981.69" stroke="#000" stroke-width="0.8"/><line x1="112.0" y1="980.37" x2="110.4" y2="980.37" stroke="#000" stroke-width="0.8"/><text x="177.3" y="990.1" font-family="Liberation Serif" font-size="10" text-anchor="end" font-weight="bold">99%</text><text x="229.3" y="990.1" font-family="Liberation Serif" font-size="10" text-anchor="end" font-weight="bold">1%</text><text x="108.0" y="1087.5" font-family="Liberation Sans" font-size="8.6" font-weight="bold" textLength="10.0" lengthAdjust="spacingAndGlyphs" transform="rotate(-90 108.0 1087.5)">10</text><text x="103.3" y="1077.5" font-family="Liberation Sans" font-size="6.5" font-weight="bold" textLength="3.6" lengthAdjust="spacingAndGlyphs" transform="rotate(-90 103.3 1077.5)">0</text><text x="105.6" y="1093.8" font-family="Liberation Sans" font-size="8.4" font-weight="bold" textLength="9.8" lengthAdjust="spacingAndGlyphs">10</text><text x="114.7" y="1089.1" font-family="Liberation Sans" font-size="6.6" font-weight="bold">0</text><text x="108.0" y="1061.83" font-family="Liberation Sans" font-size="8.6" font-weight="bold" textLength="10.0" lengthAdjust="spacingAndGlyphs" transform="rotate(-90 108.0 1061.83)">10</text><text x="103.3" y="1051.83" font-family="Liberation Sans" font-size="6.5" font-weight="bold" textLength="3.6" lengthAdjust="spacingAndGlyphs" transform="rotate(-90 103.3 1051.83)">1</text><text x="135.57" y="1093.8" font-family="Liberation Sans" font-size="8.4" font-weight="bold" textLength="9.8" lengthAdjust="spacingAndGlyphs">10</text><text x="144.67" y="1089.1" font-family="Liberation Sans" font-size="6.6" font-weight="bold">1</text><text x="108.0" y="1036.15" font-family="Liberation Sans" font-size="8.6" font-weight="bold" textLength="10.0" lengthAdjust="spacingAndGlyphs" transform="rotate(-90 108.0 1036.15)">10</text><text x="103.3" y="1026.15" font-family="Liberation Sans" font-size="6.5" font-weight="bold" textLength="3.6" lengthAdjust="spacingAndGlyphs" transform="rotate(-90 103.3 1026.15)">2</text><text x="165.55" y="1093.8" font-family="Liberation Sans" font-size="8.4" font-weight="bold" textLength="9.8" lengthAdjust="spacingAndGlyphs">10</text><text x="174.65" y="1089.1" font-family="Liberation Sans" font-size="6.6" font-weight="bold">2</text><text x="108.0" y="1010.48" font-family="Liberation Sans" font-size="8.6" font-weight="bold" textLength="10.0" lengthAdjust="spacingAndGlyphs" transform="rotate(-90 108.0 1010.48)">10</text><text x="103.3" y="1000.48" font-family="Liberation Sans" font-size="6.5" font-weight="bold" textLength="3.6" lengthAdjust="spacingAndGlyphs" transform="rotate(-90 103.3 1000.48)">3</text><text x="195.53" y="1093.8" font-family="Liberation Sans" font-size="8.4" font-weight="bold" textLength="9.8" lengthAdjust="spacingAndGlyphs">10</text><text x="204.63" y="1089.1" font-family="Liberation Sans" font-size="6.6" font-weight="bold">3</text><text x="108.0" y="984.8" font-family="Liberation Sans" font-size="8.6" font-weight="bold" textLength="10.0" lengthAdjust="spacingAndGlyphs" transform="rotate(-90 108.0 984.8)">10</text><text x="103.3" y="974.8" font-family="Liberation Sans" font-size="6.5" font-weight="bold" textLength="3.6" lengthAdjust="spacingAndGlyphs" transform="rotate(-90 103.3 974.8)">4</text><text x="225.5" y="1093.8" font-family="Liberation Sans" font-size="8.4" font-weight="bold" textLength="9.8" lengthAdjust="spacingAndGlyphs">10</text><text x="234.6" y="1089.1" font-family="Liberation Sans" font-size="6.6" font-weight="bold">4</text><text x="171.5" y="1101.2" font-family="Liberation Sans" font-size="6.6" text-anchor="middle" font-weight="bold" textLength="21.5" lengthAdjust="spacingAndGlyphs">TET PE</text><text x="92.9" y="1031" font-family="Liberation Sans" font-size="4.5" text-anchor="middle" font-weight="bold" textLength="26" lengthAdjust="spacingAndGlyphs" transform="rotate(-90 92.9 1031)">CD8 PerCP</text><path d="M323 993.5h1M316 994.5h1M331 994.5h2M360 995.5h1M367 995.5h1M375 995.5h1M391 995.5h1M325 996.5h1M350 996.5h2M354 996.5h1M363 996.5h1M287 997.5h1M314 997.5h1M318 997.5h1M324 997.5h1M336 997.5h1M338 997.5h1M343 997.5h1M345 997.5h1M356 997.5h1M376 997.5h1M388 997.5h1M313 998.5h1M322 998.5h1M336 998.5h1M348 998.5h1M374 998.5h1M383 998.5h1M303 999.5h1M311 999.5h1M314 999.5h1M329 999.5h1M334 999.5h2M337 999.5h1M340 999.5h1M345 999.5h2M355 999.5h1M365 999.5h1M367 999.5h1M315 1000.5h2M321 1000.5h1M326 1000.5h2M335 1000.5h2M339 1000.5h1M348 1000.5h1M379 1000.5h1M392 1000.5h1M291 1001.5h1M308 1001.5h1M323 1001.5h1M327 1001.5h1M329 1001.5h2M332 1001.5h1M334 1001.5h2M337 1001.5h2M341 1001.5h3M346 1001.5h1M352 1001.5h1M358 1001.5h1M366 1001.5h1M368 1001.5h1M373 1001.5h2M314 1002.5h2M317 1002.5h1M320 1002.5h2M325 1002.5h1M330 1002.5h1M332 1002.5h1M335 1002.5h4M340 1002.5h2M343 1002.5h1M348 1002.5h5M355 1002.5h1M357 1002.5h1M364 1002.5h1M367 1002.5h1M370 1002.5h1M373 1002.5h1M316 1003.5h1M319 1003.5h2M326 1003.5h3M332 1003.5h3M337 1003.5h3M342 1003.5h1M352 1003.5h2M355 1003.5h1M358 1003.5h1M360 1003.5h1M362 1003.5h3M368 1003.5h1M370 1003.5h1M374 1003.5h1M394 1003.5h1M301 1004.5h1M303 1004.5h1M305 1004.5h1M307 1004.5h1M311 1004.5h1M314 1004.5h1M316 1004.5h2M319 1004.5h8M328 1004.5h2M331 1004.5h3M335 1004.5h2M338 1004.5h4M343 1004.5h3M348 1004.5h1M350 1004.5h2M353 1004.5h4M358 1004.5h3M365 1004.5h1M368 1004.5h2M381 1004.5h1M383 1004.5h2M291 1005.5h1M301 1005.5h1M304 1005.5h1M308 1005.5h1M313 1005.5h7M321 1005.5h1M323 1005.5h10M335 1005.5h6M342 1005.5h4M347 1005.5h2M350 1005.5h1M352 1005.5h1M356 1005.5h1M359 1005.5h1M363 1005.5h1M366 1005.5h1M371 1005.5h2M375 1005.5h1M377 1005.5h1M312 1006.5h3M316 1006.5h6M325 1006.5h7M335 1006.5h5M341 1006.5h2M345 1006.5h2M348 1006.5h1M350 1006.5h1M352 1006.5h3M357 1006.5h1M361 1006.5h1M366 1006.5h1M370 1006.5h2M375 1006.5h1M379 1006.5h2M382 1006.5h1M386 1006.5h1M391 1006.5h1M303 1007.5h1M306 1007.5h1M311 1007.5h2M316 1007.5h1M318 1007.5h6M325 1007.5h2M328 1007.5h3M332 1007.5h2M335 1007.5h4M340 1007.5h1M343 1007.5h5M349 1007.5h4M354 1007.5h1M356 1007.5h1M358 1007.5h1M360 1007.5h1M362 1007.5h1M366 1007.5h1M376 1007.5h1M381 1007.5h1M387 1007.5h1M396 1007.5h1M308 1008.5h1M310 1008.5h4M316 1008.5h3M320 1008.5h1M323 1008.5h1M325 1008.5h2M328 1008.5h3M332 1008.5h1M334 1008.5h2M337 1008.5h8M347 1008.5h2M351 1008.5h4M356 1008.5h3M361 1008.5h1M363 1008.5h1M365 1008.5h1M367 1008.5h1M372 1008.5h1M305 1009.5h1M307 1009.5h1M311 1009.5h3M318 1009.5h1M320 1009.5h3M324 1009.5h1M326 1009.5h2M329 1009.5h1M331 1009.5h2M334 1009.5h2M337 1009.5h3M341 1009.5h6M348 1009.5h1M351 1009.5h2M354 1009.5h2M358 1009.5h1M360 1009.5h3M366 1009.5h1M369 1009.5h1M372 1009.5h1M374 1009.5h1M377 1009.5h1M379 1009.5h1M293 1010.5h1M308 1010.5h1M310 1010.5h1M313 1010.5h2M318 1010.5h6M325 1010.5h3M329 1010.5h2M332 1010.5h7M340 1010.5h1M342 1010.5h2M345 1010.5h2M348 1010.5h1M350 1010.5h2M353 1010.5h1M357 1010.5h1M363 1010.5h2M369 1010.5h4M374 1010.5h1M376 1010.5h1M380 1010.5h1M386 1010.5h2M294 1011.5h1M299 1011.5h1M303 1011.5h2M306 1011.5h1M309 1011.5h3M318 1011.5h6M325 1011.5h1M327 1011.5h2M331 1011.5h3M335 1011.5h3M339 1011.5h2M342 1011.5h2M345 1011.5h1M347 1011.5h5M353 1011.5h2M356 1011.5h1M358 1011.5h1M363 1011.5h1M365 1011.5h1M369 1011.5h1M373 1011.5h2M387 1011.5h1M285 1012.5h1M290 1012.5h1M309 1012.5h1M315 1012.5h1M317 1012.5h2M321 1012.5h1M323 1012.5h2M326 1012.5h1M328 1012.5h1M330 1012.5h6M337 1012.5h1M340 1012.5h1M342 1012.5h3M346 1012.5h2M350 1012.5h1M352 1012.5h1M355 1012.5h2M359 1012.5h1M363 1012.5h3M368 1012.5h1M370 1012.5h2M374 1012.5h1M382 1012.5h1M394 1012.5h1M310 1013.5h3M314 1013.5h4M323 1013.5h2M326 1013.5h1M328 1013.5h4M333 1013.5h1M335 1013.5h1M338 1013.5h5M346 1013.5h1M348 1013.5h3M352 1013.5h1M356 1013.5h1M359 1013.5h1M365 1013.5h1M372 1013.5h1M377 1013.5h1M303 1014.5h1M309 1014.5h1M316 1014.5h1M321 1014.5h1M325 1014.5h1M331 1014.5h3M337 1014.5h4M342 1014.5h1M344 1014.5h1M347 1014.5h1M350 1014.5h1M360 1014.5h1M365 1014.5h1M367 1014.5h1M369 1014.5h1M379 1014.5h1M382 1014.5h1M309 1015.5h1M313 1015.5h1M317 1015.5h1M319 1015.5h1M324 1015.5h1M327 1015.5h4M334 1015.5h1M337 1015.5h2M340 1015.5h1M342 1015.5h2M351 1015.5h2M354 1015.5h1M362 1015.5h1M368 1015.5h1M307 1016.5h1M314 1016.5h1M318 1016.5h3M325 1016.5h5M331 1016.5h1M337 1016.5h2M344 1016.5h1M348 1016.5h1M355 1016.5h1M361 1016.5h1M315 1017.5h1M317 1017.5h1M319 1017.5h1M326 1017.5h1M328 1017.5h3M332 1017.5h2M336 1017.5h1M338 1017.5h2M341 1017.5h2M344 1017.5h1M347 1017.5h1M350 1017.5h2M364 1017.5h1M298 1018.5h1M323 1018.5h1M328 1018.5h2M337 1018.5h1M351 1018.5h1M301 1019.5h1M309 1019.5h1M315 1019.5h1M318 1019.5h1M322 1019.5h2M329 1019.5h1M331 1019.5h1M340 1019.5h1M343 1019.5h2M346 1019.5h1M385 1019.5h1M301 1020.5h1M307 1020.5h1M312 1020.5h1M327 1020.5h1M334 1020.5h1M336 1020.5h1M343 1020.5h1M346 1020.5h1M353 1020.5h1M355 1020.5h2M362 1020.5h1M312 1021.5h1M322 1021.5h1M324 1021.5h1M326 1021.5h1M363 1021.5h1M299 1022.5h1M311 1022.5h1M313 1022.5h1M318 1022.5h1M320 1022.5h1M326 1022.5h1M337 1022.5h1M380 1022.5h1M295 1023.5h1M306 1023.5h1M309 1023.5h2M317 1023.5h1M323 1023.5h1M326 1023.5h1M343 1023.5h1M349 1023.5h2M358 1023.5h1M361 1023.5h1M369 1023.5h1M394 1023.5h1M297 1024.5h1M314 1024.5h1M317 1024.5h1M321 1024.5h1M332 1024.5h1M334 1024.5h1M340 1024.5h1M353 1024.5h2M317 1025.5h1M324 1025.5h1M327 1025.5h1M329 1025.5h1M338 1025.5h1M356 1025.5h1M306 1026.5h1M311 1026.5h1M321 1026.5h1M324 1026.5h1M331 1026.5h1M340 1026.5h1M351 1026.5h1M295 1027.5h1M298 1027.5h1M305 1027.5h1M309 1027.5h2M312 1027.5h1M328 1027.5h1M338 1027.5h1M317 1028.5h1M323 1028.5h2M336 1028.5h1M348 1028.5h2M353 1028.5h1M295 1029.5h1M311 1029.5h1M317 1029.5h1M320 1029.5h1M323 1029.5h1M355 1029.5h1M329 1030.5h1M362 1030.5h1M286 1031.5h1M316 1031.5h1M326 1031.5h1M332 1031.5h1M334 1031.5h1M312 1032.5h1M334 1032.5h1M391 1032.5h1M307 1033.5h1M332 1033.5h1M311 1034.5h1M313 1034.5h1M316 1034.5h1M331 1034.5h1M333 1034.5h1M357 1034.5h1M324 1035.5h1M342 1035.5h1M355 1038.5h1M333 1039.5h1" stroke="#000" stroke-width="1" fill="none"/><rect x="280.1" y="978.8" width="123.5" height="102.90000000000009" fill="none" stroke="#000" stroke-width="1.5"/><line x1="349.7" y1="978.8" x2="349.7" y2="1081.7" stroke="#222" stroke-width="1.2"/><line x1="280.1" y1="1047.6" x2="403.6" y2="1047.6" stroke="#222" stroke-width="1.2"/><line x1="280.1" y1="1081.7" x2="280.1" y2="1084.1000000000001" stroke="#000" stroke-width="0.8"/><line x1="289.39" y1="1081.7" x2="289.39" y2="1083.3" stroke="#000" stroke-width="0.8"/><line x1="294.83" y1="1081.7" x2="294.83" y2="1083.3" stroke="#000" stroke-width="0.8"/><line x1="298.69" y1="1081.7" x2="298.69" y2="1083.3" stroke="#000" stroke-width="0.8"/><line x1="301.68" y1="1081.7" x2="301.68" y2="1083.3" stroke="#000" stroke-width="0.8"/><line x1="304.13" y1="1081.7" x2="304.13" y2="1083.3" stroke="#000" stroke-width="0.8"/><line x1="306.19" y1="1081.7" x2="306.19" y2="1083.3" stroke="#000" stroke-width="0.8"/><line x1="307.98" y1="1081.7" x2="307.98" y2="1083.3" stroke="#000" stroke-width="0.8"/><line x1="309.56" y1="1081.7" x2="309.56" y2="1083.3" stroke="#000" stroke-width="0.8"/><line x1="310.98" y1="1081.7" x2="310.98" y2="1084.1000000000001" stroke="#000" stroke-width="0.8"/><line x1="320.27" y1="1081.7" x2="320.27" y2="1083.3" stroke="#000" stroke-width="0.8"/><line x1="325.71" y1="1081.7" x2="325.71" y2="1083.3" stroke="#000" stroke-width="0.8"/><line x1="329.56" y1="1081.7" x2="329.56" y2="1083.3" stroke="#000" stroke-width="0.8"/><line x1="332.56" y1="1081.7" x2="332.56" y2="1083.3" stroke="#000" stroke-width="0.8"/><line x1="335.0" y1="1081.7" x2="335.0" y2="1083.3" stroke="#000" stroke-width="0.8"/><line x1="337.07" y1="1081.7" x2="337.07" y2="1083.3" stroke="#000" stroke-width="0.8"/><line x1="338.86" y1="1081.7" x2="338.86" y2="1083.3" stroke="#000" stroke-width="0.8"/><line x1="340.44" y1="1081.7" x2="340.44" y2="1083.3" stroke="#000" stroke-width="0.8"/><line x1="341.85" y1="1081.7" x2="341.85" y2="1084.1000000000001" stroke="#000" stroke-width="0.8"/><line x1="351.14" y1="1081.7" x2="351.14" y2="1083.3" stroke="#000" stroke-width="0.8"/><line x1="356.58" y1="1081.7" x2="356.58" y2="1083.3" stroke="#000" stroke-width="0.8"/><line x1="360.44" y1="1081.7" x2="360.44" y2="1083.3" stroke="#000" stroke-width="0.8"/><line x1="363.43" y1="1081.7" x2="363.43" y2="1083.3" stroke="#000" stroke-width="0.8"/><line x1="365.88" y1="1081.7" x2="365.88" y2="1083.3" stroke="#000" stroke-width="0.8"/><line x1="367.94" y1="1081.7" x2="367.94" y2="1083.3" stroke="#000" stroke-width="0.8"/><line x1="369.73" y1="1081.7" x2="369.73" y2="1083.3" stroke="#000" stroke-width="0.8"/><line x1="371.31" y1="1081.7" x2="371.31" y2="1083.3" stroke="#000" stroke-width="0.8"/><line x1="372.73" y1="1081.7" x2="372.73" y2="1084.1000000000001" stroke="#000" stroke-width="0.8"/><line x1="382.02" y1="1081.7" x2="382.02" y2="1083.3" stroke="#000" stroke-width="0.8"/><line x1="387.46" y1="1081.7" x2="387.46" y2="1083.3" stroke="#000" stroke-width="0.8"/><line x1="391.31" y1="1081.7" x2="391.31" y2="1083.3" stroke="#000" stroke-width="0.8"/><line x1="394.31" y1="1081.7" x2="394.31" y2="1083.3" stroke="#000" stroke-width="0.8"/><line x1="396.75" y1="1081.7" x2="396.75" y2="1083.3" stroke="#000" stroke-width="0.8"/><line x1="398.82" y1="1081.7" x2="398.82" y2="1083.3" stroke="#000" stroke-width="0.8"/><line x1="400.61" y1="1081.7" x2="400.61" y2="1083.3" stroke="#000" stroke-width="0.8"/><line x1="402.19" y1="1081.7" x2="402.19" y2="1083.3" stroke="#000" stroke-width="0.8"/><line x1="280.1" y1="1081.7" x2="277.70000000000005" y2="1081.7" stroke="#000" stroke-width="0.8"/><line x1="280.1" y1="1073.96" x2="278.5" y2="1073.96" stroke="#000" stroke-width="0.8"/><line x1="280.1" y1="1069.43" x2="278.5" y2="1069.43" stroke="#000" stroke-width="0.8"/><line x1="280.1" y1="1066.21" x2="278.5" y2="1066.21" stroke="#000" stroke-width="0.8"/><line x1="280.1" y1="1063.72" x2="278.5" y2="1063.72" stroke="#000" stroke-width="0.8"/><line x1="280.1" y1="1061.68" x2="278.5" y2="1061.68" stroke="#000" stroke-width="0.8"/><line x1="280.1" y1="1059.96" x2="278.5" y2="1059.96" stroke="#000" stroke-width="0.8"/><line x1="280.1" y1="1058.47" x2="278.5" y2="1058.47" stroke="#000" stroke-width="0.8"/><line x1="280.1" y1="1057.15" x2="278.5" y2="1057.15" stroke="#000" stroke-width="0.8"/><line x1="280.1" y1="1055.97" x2="277.70000000000005" y2="1055.97" stroke="#000" stroke-width="0.8"/><line x1="280.1" y1="1048.23" x2="278.5" y2="1048.23" stroke="#000" stroke-width="0.8"/><line x1="280.1" y1="1043.7" x2="278.5" y2="1043.7" stroke="#000" stroke-width="0.8"/><line x1="280.1" y1="1040.49" x2="278.5" y2="1040.49" stroke="#000" stroke-width="0.8"/><line x1="280.1" y1="1037.99" x2="278.5" y2="1037.99" stroke="#000" stroke-width="0.8"/><line x1="280.1" y1="1035.96" x2="278.5" y2="1035.96" stroke="#000" stroke-width="0.8"/><line x1="280.1" y1="1034.23" x2="278.5" y2="1034.23" stroke="#000" stroke-width="0.8"/><line x1="280.1" y1="1032.74" x2="278.5" y2="1032.74" stroke="#000" stroke-width="0.8"/><line x1="280.1" y1="1031.43" x2="278.5" y2="1031.43" stroke="#000" stroke-width="0.8"/><line x1="280.1" y1="1030.25" x2="277.70000000000005" y2="1030.25" stroke="#000" stroke-width="0.8"/><line x1="280.1" y1="1022.51" x2="278.5" y2="1022.51" stroke="#000" stroke-width="0.8"/><line x1="280.1" y1="1017.98" x2="278.5" y2="1017.98" stroke="#000" stroke-width="0.8"/><line x1="280.1" y1="1014.76" x2="278.5" y2="1014.76" stroke="#000" stroke-width="0.8"/><line x1="280.1" y1="1012.27" x2="278.5" y2="1012.27" stroke="#000" stroke-width="0.8"/><line x1="280.1" y1="1010.23" x2="278.5" y2="1010.23" stroke="#000" stroke-width="0.8"/><line x1="280.1" y1="1008.51" x2="278.5" y2="1008.51" stroke="#000" stroke-width="0.8"/><line x1="280.1" y1="1007.02" x2="278.5" y2="1007.02" stroke="#000" stroke-width="0.8"/><line x1="280.1" y1="1005.7" x2="278.5" y2="1005.7" stroke="#000" stroke-width="0.8"/><line x1="280.1" y1="1004.52" x2="277.70000000000005" y2="1004.52" stroke="#000" stroke-width="0.8"/><line x1="280.1" y1="996.78" x2="278.5" y2="996.78" stroke="#000" stroke-width="0.8"/><line x1="280.1" y1="992.25" x2="278.5" y2="992.25" stroke="#000" stroke-width="0.8"/><line x1="280.1" y1="989.04" x2="278.5" y2="989.04" stroke="#000" stroke-width="0.8"/><line x1="280.1" y1="986.54" x2="278.5" y2="986.54" stroke="#000" stroke-width="0.8"/><line x1="280.1" y1="984.51" x2="278.5" y2="984.51" stroke="#000" stroke-width="0.8"/><line x1="280.1" y1="982.78" x2="278.5" y2="982.78" stroke="#000" stroke-width="0.8"/><line x1="280.1" y1="981.29" x2="278.5" y2="981.29" stroke="#000" stroke-width="0.8"/><line x1="280.1" y1="979.98" x2="278.5" y2="979.98" stroke="#000" stroke-width="0.8"/><text x="345.7" y="989.7" font-family="Liberation Serif" font-size="10" text-anchor="end" font-weight="bold">80%</text><text x="401.0" y="989.7" font-family="Liberation Serif" font-size="10" text-anchor="end" font-weight="bold">20%</text><text x="276.1" y="1087.3" font-family="Liberation Sans" font-size="8.6" font-weight="bold" textLength="10.0" lengthAdjust="spacingAndGlyphs" transform="rotate(-90 276.1 1087.3)">10</text><text x="271.4" y="1077.3" font-family="Liberation Sans" font-size="6.5" font-weight="bold" textLength="3.6" lengthAdjust="spacingAndGlyphs" transform="rotate(-90 271.4 1077.3)">0</text><text x="273.7" y="1093.8" font-family="Liberation Sans" font-size="8.4" font-weight="bold" textLength="9.8" lengthAdjust="spacingAndGlyphs">10</text><text x="282.8" y="1089.1" font-family="Liberation Sans" font-size="6.6" font-weight="bold">0</text><text x="276.1" y="1061.57" font-family="Liberation Sans" font-size="8.6" font-weight="bold" textLength="10.0" lengthAdjust="spacingAndGlyphs" transform="rotate(-90 276.1 1061.57)">10</text><text x="271.4" y="1051.57" font-family="Liberation Sans" font-size="6.5" font-weight="bold" textLength="3.6" lengthAdjust="spacingAndGlyphs" transform="rotate(-90 271.4 1051.57)">1</text><text x="304.58" y="1093.8" font-family="Liberation Sans" font-size="8.4" font-weight="bold" textLength="9.8" lengthAdjust="spacingAndGlyphs">10</text><text x="313.68" y="1089.1" font-family="Liberation Sans" font-size="6.6" font-weight="bold">1</text><text x="276.1" y="1035.85" font-family="Liberation Sans" font-size="8.6" font-weight="bold" textLength="10.0" lengthAdjust="spacingAndGlyphs" transform="rotate(-90 276.1 1035.85)">10</text><text x="271.4" y="1025.85" font-family="Liberation Sans" font-size="6.5" font-weight="bold" textLength="3.6" lengthAdjust="spacingAndGlyphs" transform="rotate(-90 271.4 1025.85)">2</text><text x="335.45" y="1093.8" font-family="Liberation Sans" font-size="8.4" font-weight="bold" textLength="9.8" lengthAdjust="spacingAndGlyphs">10</text><text x="344.55" y="1089.1" font-family="Liberation Sans" font-size="6.6" font-weight="bold">2</text><text x="276.1" y="1010.12" font-family="Liberation Sans" font-size="8.6" font-weight="bold" textLength="10.0" lengthAdjust="spacingAndGlyphs" transform="rotate(-90 276.1 1010.12)">10</text><text x="271.4" y="1000.12" font-family="Liberation Sans" font-size="6.5" font-weight="bold" textLength="3.6" lengthAdjust="spacingAndGlyphs" transform="rotate(-90 271.4 1000.12)">3</text><text x="366.33" y="1093.8" font-family="Liberation Sans" font-size="8.4" font-weight="bold" textLength="9.8" lengthAdjust="spacingAndGlyphs">10</text><text x="375.43" y="1089.1" font-family="Liberation Sans" font-size="6.6" font-weight="bold">3</text><text x="276.1" y="984.4" font-family="Liberation Sans" font-size="8.6" font-weight="bold" textLength="10.0" lengthAdjust="spacingAndGlyphs" transform="rotate(-90 276.1 984.4)">10</text><text x="271.4" y="974.4" font-family="Liberation Sans" font-size="6.5" font-weight="bold" textLength="3.6" lengthAdjust="spacingAndGlyphs" transform="rotate(-90 271.4 974.4)">4</text><text x="397.2" y="1093.8" font-family="Liberation Sans" font-size="8.4" font-weight="bold" textLength="9.8" lengthAdjust="spacingAndGlyphs">10</text><text x="406.3" y="1089.1" font-family="Liberation Sans" font-size="6.6" font-weight="bold">4</text><text x="341.3" y="1103.8" font-family="Liberation Sans" font-size="6.6" text-anchor="middle" font-weight="bold" textLength="21.8" lengthAdjust="spacingAndGlyphs">TET PE</text><text x="256" y="1036" font-family="Liberation Sans" font-size="4.5" text-anchor="middle" font-weight="bold" textLength="22" lengthAdjust="spacingAndGlyphs" transform="rotate(-90 256 1036)">CD8 PerCP</text><path d="M191 1130.5h1M171 1132.5h1M175 1132.5h1M179 1132.5h1M168 1133.5h1M174 1133.5h1M178 1133.5h2M123 1134.5h1M134 1134.5h1M160 1134.5h1M166 1134.5h1M171 1134.5h1M175 1134.5h1M185 1134.5h2M124 1135.5h1M165 1135.5h1M167 1135.5h1M170 1135.5h1M172 1135.5h1M174 1135.5h1M179 1135.5h1M183 1135.5h2M116 1136.5h1M142 1136.5h1M158 1136.5h1M163 1136.5h2M167 1136.5h1M169 1136.5h1M171 1136.5h2M174 1136.5h3M138 1137.5h1M158 1137.5h1M163 1137.5h12M177 1137.5h1M179 1137.5h1M153 1138.5h3M158 1138.5h1M161 1138.5h1M167 1138.5h2M170 1138.5h3M174 1138.5h2M121 1139.5h2M129 1139.5h1M134 1139.5h3M140 1139.5h1M146 1139.5h3M150 1139.5h1M157 1139.5h1M159 1139.5h9M169 1139.5h2M172 1139.5h1M174 1139.5h3M179 1139.5h1M132 1140.5h1M134 1140.5h1M138 1140.5h1M140 1140.5h1M144 1140.5h1M146 1140.5h1M149 1140.5h1M152 1140.5h1M156 1140.5h1M158 1140.5h2M161 1140.5h2M164 1140.5h4M169 1140.5h2M173 1140.5h1M119 1141.5h1M122 1141.5h1M125 1141.5h1M129 1141.5h2M132 1141.5h1M135 1141.5h4M140 1141.5h1M144 1141.5h2M150 1141.5h1M152 1141.5h1M154 1141.5h1M156 1141.5h7M164 1141.5h1M166 1141.5h6M174 1141.5h1M176 1141.5h1M178 1141.5h2M119 1142.5h1M121 1142.5h1M125 1142.5h1M127 1142.5h1M129 1142.5h3M133 1142.5h1M135 1142.5h1M137 1142.5h5M143 1142.5h6M150 1142.5h1M152 1142.5h1M155 1142.5h1M158 1142.5h9M168 1142.5h4M173 1142.5h2M178 1142.5h1M196 1142.5h1M217 1142.5h1M114 1143.5h1M118 1143.5h1M120 1143.5h2M127 1143.5h4M133 1143.5h1M135 1143.5h3M141 1143.5h18M161 1143.5h8M170 1143.5h1M177 1143.5h1M179 1143.5h1M202 1143.5h1M206 1143.5h1M119 1144.5h1M121 1144.5h1M123 1144.5h2M126 1144.5h7M134 1144.5h14M149 1144.5h9M159 1144.5h1M161 1144.5h1M164 1144.5h9M174 1144.5h1M177 1144.5h2M180 1144.5h1M189 1144.5h1M118 1145.5h2M121 1145.5h3M125 1145.5h9M135 1145.5h32M168 1145.5h1M170 1145.5h3M189 1145.5h1M114 1146.5h3M118 1146.5h3M124 1146.5h3M128 1146.5h34M163 1146.5h5M169 1146.5h1M171 1146.5h1M175 1146.5h1M205 1146.5h1M116 1147.5h1M118 1147.5h5M124 1147.5h2M127 1147.5h36M164 1147.5h6M171 1147.5h2M116 1148.5h4M121 1148.5h1M123 1148.5h2M126 1148.5h31M158 1148.5h13M172 1148.5h2M180 1148.5h1M184 1148.5h1M119 1149.5h5M125 1149.5h40M169 1149.5h1M171 1149.5h4M178 1149.5h1M184 1149.5h1M205 1149.5h1M114 1150.5h1M119 1150.5h13M133 1150.5h33M171 1150.5h1M173 1150.5h1M117 1151.5h2M120 1151.5h5M126 1151.5h3M130 1151.5h38M169 1151.5h1M174 1151.5h1M193 1151.5h1M118 1152.5h3M123 1152.5h5M129 1152.5h2M132 1152.5h4M137 1152.5h17M155 1152.5h5M161 1152.5h3M165 1152.5h2M172 1152.5h1M175 1152.5h1M114 1153.5h1M117 1153.5h4M129 1153.5h1M131 1153.5h35M167 1153.5h1M170 1153.5h1M176 1153.5h1M180 1153.5h1M116 1154.5h1M121 1154.5h2M124 1154.5h1M126 1154.5h2M129 1154.5h4M134 1154.5h1M136 1154.5h2M139 1154.5h4M144 1154.5h3M148 1154.5h2M151 1154.5h6M158 1154.5h3M163 1154.5h3M195 1154.5h1M123 1155.5h1M127 1155.5h1M129 1155.5h1M132 1155.5h6M139 1155.5h4M144 1155.5h3M148 1155.5h18M182 1155.5h1M119 1156.5h1M121 1156.5h2M126 1156.5h2M130 1156.5h3M134 1156.5h1M139 1156.5h8M148 1156.5h8M157 1156.5h7M165 1156.5h2M168 1156.5h1M204 1156.5h1M117 1157.5h5M123 1157.5h1M125 1157.5h2M133 1157.5h1M135 1157.5h2M140 1157.5h5M147 1157.5h13M161 1157.5h2M166 1157.5h1M169 1157.5h1M175 1157.5h1M118 1158.5h1M120 1158.5h1M130 1158.5h2M133 1158.5h1M136 1158.5h2M141 1158.5h2M144 1158.5h5M150 1158.5h14M165 1158.5h8M120 1159.5h1M125 1159.5h1M127 1159.5h1M136 1159.5h2M139 1159.5h3M143 1159.5h12M156 1159.5h2M159 1159.5h9M115 1160.5h1M118 1160.5h1M124 1160.5h1M128 1160.5h1M130 1160.5h1M133 1160.5h2M137 1160.5h1M139 1160.5h1M142 1160.5h3M146 1160.5h1M148 1160.5h2M151 1160.5h11M164 1160.5h1M166 1160.5h3M178 1160.5h1M115 1161.5h1M120 1161.5h1M122 1161.5h1M124 1161.5h2M131 1161.5h3M135 1161.5h3M141 1161.5h2M144 1161.5h2M147 1161.5h1M149 1161.5h4M154 1161.5h6M161 1161.5h4M166 1161.5h1M168 1161.5h1M116 1162.5h1M118 1162.5h3M124 1162.5h1M136 1162.5h1M138 1162.5h2M141 1162.5h1M145 1162.5h8M154 1162.5h2M158 1162.5h1M160 1162.5h7M168 1162.5h1M116 1163.5h1M120 1163.5h1M123 1163.5h1M126 1163.5h2M129 1163.5h2M137 1163.5h1M139 1163.5h1M142 1163.5h1M144 1163.5h1M148 1163.5h8M157 1163.5h1M160 1163.5h1M162 1163.5h3M166 1163.5h1M121 1164.5h2M130 1164.5h1M139 1164.5h1M143 1164.5h1M145 1164.5h10M156 1164.5h2M159 1164.5h4M167 1164.5h1M177 1164.5h1M114 1165.5h1M116 1165.5h1M119 1165.5h1M124 1165.5h1M126 1165.5h2M129 1165.5h1M131 1165.5h1M133 1165.5h2M137 1165.5h1M140 1165.5h1M142 1165.5h1M146 1165.5h5M152 1165.5h1M154 1165.5h6M161 1165.5h4M115 1166.5h2M119 1166.5h1M124 1166.5h1M127 1166.5h1M129 1166.5h1M133 1166.5h1M136 1166.5h1M142 1166.5h1M149 1166.5h1M153 1166.5h2M157 1166.5h2M161 1166.5h4M177 1166.5h1M123 1167.5h1M127 1167.5h1M129 1167.5h1M132 1167.5h2M138 1167.5h1M140 1167.5h1M142 1167.5h2M145 1167.5h2M150 1167.5h2M155 1167.5h6M162 1167.5h2M167 1167.5h1M169 1167.5h1M119 1168.5h3M123 1168.5h1M129 1168.5h1M135 1168.5h2M140 1168.5h4M146 1168.5h2M149 1168.5h1M153 1168.5h1M156 1168.5h1M158 1168.5h2M163 1168.5h2M168 1168.5h2M177 1168.5h1M118 1169.5h1M130 1169.5h1M139 1169.5h1M143 1169.5h3M151 1169.5h1M155 1169.5h1M158 1169.5h2M164 1169.5h2M175 1169.5h1M114 1170.5h1M116 1170.5h1M120 1170.5h2M126 1170.5h2M130 1170.5h1M132 1170.5h2M135 1170.5h1M144 1170.5h2M148 1170.5h1M151 1170.5h4M159 1170.5h1M161 1170.5h1M163 1170.5h1M165 1170.5h1M168 1170.5h1M117 1171.5h2M120 1171.5h1M127 1171.5h1M133 1171.5h1M137 1171.5h1M139 1171.5h1M141 1171.5h1M143 1171.5h1M145 1171.5h1M148 1171.5h1M150 1171.5h5M156 1171.5h1M158 1171.5h1M160 1171.5h1M162 1171.5h1M164 1171.5h1M116 1172.5h1M121 1172.5h1M128 1172.5h2M133 1172.5h1M135 1172.5h1M138 1172.5h2M144 1172.5h1M147 1172.5h2M151 1172.5h1M153 1172.5h1M160 1172.5h1M162 1172.5h1M164 1172.5h1M169 1172.5h1M118 1173.5h1M121 1173.5h2M124 1173.5h2M129 1173.5h1M131 1173.5h2M140 1173.5h4M146 1173.5h2M151 1173.5h1M154 1173.5h1M157 1173.5h1M159 1173.5h2M165 1173.5h1M167 1173.5h1M129 1174.5h3M135 1174.5h1M137 1174.5h1M139 1174.5h1M143 1174.5h1M145 1174.5h1M149 1174.5h1M151 1174.5h2M154 1174.5h2M158 1174.5h2M167 1174.5h1M114 1175.5h1M116 1175.5h1M121 1175.5h1M124 1175.5h1M131 1175.5h1M135 1175.5h1M146 1175.5h1M150 1175.5h1M154 1175.5h2M157 1175.5h1M159 1175.5h1M161 1175.5h1M165 1175.5h1M116 1176.5h1M119 1176.5h2M123 1176.5h1M128 1176.5h1M133 1176.5h1M135 1176.5h2M138 1176.5h1M141 1176.5h3M146 1176.5h1M151 1176.5h1M156 1176.5h1M159 1176.5h1M163 1176.5h1M165 1176.5h1M167 1176.5h1M130 1177.5h1M137 1177.5h2M165 1177.5h1M125 1178.5h1M155 1178.5h1M157 1178.5h1" stroke="#000" stroke-width="1" fill="none"/><rect x="112.7" y="1112.1" width="119.2" height="96.0" fill="none" stroke="#000" stroke-width="1.5"/><line x1="181.3" y1="1112.1" x2="181.3" y2="1208.1" stroke="#222" stroke-width="1.2"/><line x1="112.7" y1="1178.6" x2="231.9" y2="1178.6" stroke="#222" stroke-width="1.2"/><line x1="112.7" y1="1208.1" x2="112.7" y2="1210.5" stroke="#000" stroke-width="0.8"/><line x1="121.67" y1="1208.1" x2="121.67" y2="1209.6999999999998" stroke="#000" stroke-width="0.8"/><line x1="126.92" y1="1208.1" x2="126.92" y2="1209.6999999999998" stroke="#000" stroke-width="0.8"/><line x1="130.64" y1="1208.1" x2="130.64" y2="1209.6999999999998" stroke="#000" stroke-width="0.8"/><line x1="133.53" y1="1208.1" x2="133.53" y2="1209.6999999999998" stroke="#000" stroke-width="0.8"/><line x1="135.89" y1="1208.1" x2="135.89" y2="1209.6999999999998" stroke="#000" stroke-width="0.8"/><line x1="137.88" y1="1208.1" x2="137.88" y2="1209.6999999999998" stroke="#000" stroke-width="0.8"/><line x1="139.61" y1="1208.1" x2="139.61" y2="1209.6999999999998" stroke="#000" stroke-width="0.8"/><line x1="141.14" y1="1208.1" x2="141.14" y2="1209.6999999999998" stroke="#000" stroke-width="0.8"/><line x1="142.5" y1="1208.1" x2="142.5" y2="1210.5" stroke="#000" stroke-width="0.8"/><line x1="151.47" y1="1208.1" x2="151.47" y2="1209.6999999999998" stroke="#000" stroke-width="0.8"/><line x1="156.72" y1="1208.1" x2="156.72" y2="1209.6999999999998" stroke="#000" stroke-width="0.8"/><line x1="160.44" y1="1208.1" x2="160.44" y2="1209.6999999999998" stroke="#000" stroke-width="0.8"/><line x1="163.33" y1="1208.1" x2="163.33" y2="1209.6999999999998" stroke="#000" stroke-width="0.8"/><line x1="165.69" y1="1208.1" x2="165.69" y2="1209.6999999999998" stroke="#000" stroke-width="0.8"/><line x1="167.68" y1="1208.1" x2="167.68" y2="1209.6999999999998" stroke="#000" stroke-width="0.8"/><line x1="169.41" y1="1208.1" x2="169.41" y2="1209.6999999999998" stroke="#000" stroke-width="0.8"/><line x1="170.94" y1="1208.1" x2="170.94" y2="1209.6999999999998" stroke="#000" stroke-width="0.8"/><line x1="172.3" y1="1208.1" x2="172.3" y2="1210.5" stroke="#000" stroke-width="0.8"/><line x1="181.27" y1="1208.1" x2="181.27" y2="1209.6999999999998" stroke="#000" stroke-width="0.8"/><line x1="186.52" y1="1208.1" x2="186.52" y2="1209.6999999999998" stroke="#000" stroke-width="0.8"/><line x1="190.24" y1="1208.1" x2="190.24" y2="1209.6999999999998" stroke="#000" stroke-width="0.8"/><line x1="193.13" y1="1208.1" x2="193.13" y2="1209.6999999999998" stroke="#000" stroke-width="0.8"/><line x1="195.49" y1="1208.1" x2="195.49" y2="1209.6999999999998" stroke="#000" stroke-width="0.8"/><line x1="197.48" y1="1208.1" x2="197.48" y2="1209.6999999999998" stroke="#000" stroke-width="0.8"/><line x1="199.21" y1="1208.1" x2="199.21" y2="1209.6999999999998" stroke="#000" stroke-width="0.8"/><line x1="200.74" y1="1208.1" x2="200.74" y2="1209.6999999999998" stroke="#000" stroke-width="0.8"/><line x1="202.1" y1="1208.1" x2="202.1" y2="1210.5" stroke="#000" stroke-width="0.8"/><line x1="211.07" y1="1208.1" x2="211.07" y2="1209.6999999999998" stroke="#000" stroke-width="0.8"/><line x1="216.32" y1="1208.1" x2="216.32" y2="1209.6999999999998" stroke="#000" stroke-width="0.8"/><line x1="220.04" y1="1208.1" x2="220.04" y2="1209.6999999999998" stroke="#000" stroke-width="0.8"/><line x1="222.93" y1="1208.1" x2="222.93" y2="1209.6999999999998" stroke="#000" stroke-width="0.8"/><line x1="225.29" y1="1208.1" x2="225.29" y2="1209.6999999999998" stroke="#000" stroke-width="0.8"/><line x1="227.28" y1="1208.1" x2="227.28" y2="1209.6999999999998" stroke="#000" stroke-width="0.8"/><line x1="229.01" y1="1208.1" x2="229.01" y2="1209.6999999999998" stroke="#000" stroke-width="0.8"/><line x1="230.54" y1="1208.1" x2="230.54" y2="1209.6999999999998" stroke="#000" stroke-width="0.8"/><line x1="112.7" y1="1208.1" x2="110.3" y2="1208.1" stroke="#000" stroke-width="0.8"/><line x1="112.7" y1="1200.88" x2="111.10000000000001" y2="1200.88" stroke="#000" stroke-width="0.8"/><line x1="112.7" y1="1196.65" x2="111.10000000000001" y2="1196.65" stroke="#000" stroke-width="0.8"/><line x1="112.7" y1="1193.65" x2="111.10000000000001" y2="1193.65" stroke="#000" stroke-width="0.8"/><line x1="112.7" y1="1191.32" x2="111.10000000000001" y2="1191.32" stroke="#000" stroke-width="0.8"/><line x1="112.7" y1="1189.42" x2="111.10000000000001" y2="1189.42" stroke="#000" stroke-width="0.8"/><line x1="112.7" y1="1187.82" x2="111.10000000000001" y2="1187.82" stroke="#000" stroke-width="0.8"/><line x1="112.7" y1="1186.43" x2="111.10000000000001" y2="1186.43" stroke="#000" stroke-width="0.8"/><line x1="112.7" y1="1185.2" x2="111.10000000000001" y2="1185.2" stroke="#000" stroke-width="0.8"/><line x1="112.7" y1="1184.1" x2="110.3" y2="1184.1" stroke="#000" stroke-width="0.8"/><line x1="112.7" y1="1176.88" x2="111.10000000000001" y2="1176.88" stroke="#000" stroke-width="0.8"/><line x1="112.7" y1="1172.65" x2="111.10000000000001" y2="1172.65" stroke="#000" stroke-width="0.8"/><line x1="112.7" y1="1169.65" x2="111.10000000000001" y2="1169.65" stroke="#000" stroke-width="0.8"/><line x1="112.7" y1="1167.32" x2="111.10000000000001" y2="1167.32" stroke="#000" stroke-width="0.8"/><line x1="112.7" y1="1165.42" x2="111.10000000000001" y2="1165.42" stroke="#000" stroke-width="0.8"/><line x1="112.7" y1="1163.82" x2="111.10000000000001" y2="1163.82" stroke="#000" stroke-width="0.8"/><line x1="112.7" y1="1162.43" x2="111.10000000000001" y2="1162.43" stroke="#000" stroke-width="0.8"/><line x1="112.7" y1="1161.2" x2="111.10000000000001" y2="1161.2" stroke="#000" stroke-width="0.8"/><line x1="112.7" y1="1160.1" x2="110.3" y2="1160.1" stroke="#000" stroke-width="0.8"/><line x1="112.7" y1="1152.88" x2="111.10000000000001" y2="1152.88" stroke="#000" stroke-width="0.8"/><line x1="112.7" y1="1148.65" x2="111.10000000000001" y2="1148.65" stroke="#000" stroke-width="0.8"/><line x1="112.7" y1="1145.65" x2="111.10000000000001" y2="1145.65" stroke="#000" stroke-width="0.8"/><line x1="112.7" y1="1143.32" x2="111.10000000000001" y2="1143.32" stroke="#000" stroke-width="0.8"/><line x1="112.7" y1="1141.42" x2="111.10000000000001" y2="1141.42" stroke="#000" stroke-width="0.8"/><line x1="112.7" y1="1139.82" x2="111.10000000000001" y2="1139.82" stroke="#000" stroke-width="0.8"/><line x1="112.7" y1="1138.43" x2="111.10000000000001" y2="1138.43" stroke="#000" stroke-width="0.8"/><line x1="112.7" y1="1137.2" x2="111.10000000000001" y2="1137.2" stroke="#000" stroke-width="0.8"/><line x1="112.7" y1="1136.1" x2="110.3" y2="1136.1" stroke="#000" stroke-width="0.8"/><line x1="112.7" y1="1128.88" x2="111.10000000000001" y2="1128.88" stroke="#000" stroke-width="0.8"/><line x1="112.7" y1="1124.65" x2="111.10000000000001" y2="1124.65" stroke="#000" stroke-width="0.8"/><line x1="112.7" y1="1121.65" x2="111.10000000000001" y2="1121.65" stroke="#000" stroke-width="0.8"/><line x1="112.7" y1="1119.32" x2="111.10000000000001" y2="1119.32" stroke="#000" stroke-width="0.8"/><line x1="112.7" y1="1117.42" x2="111.10000000000001" y2="1117.42" stroke="#000" stroke-width="0.8"/><line x1="112.7" y1="1115.82" x2="111.10000000000001" y2="1115.82" stroke="#000" stroke-width="0.8"/><line x1="112.7" y1="1114.43" x2="111.10000000000001" y2="1114.43" stroke="#000" stroke-width="0.8"/><line x1="112.7" y1="1113.2" x2="111.10000000000001" y2="1113.2" stroke="#000" stroke-width="0.8"/><text x="177.3" y="1123.0" font-family="Liberation Serif" font-size="10" text-anchor="end" font-weight="bold">99%</text><text x="229.3" y="1123.0" font-family="Liberation Serif" font-size="10" text-anchor="end" font-weight="bold">1%</text><text x="108.7" y="1213.7" font-family="Liberation Sans" font-size="8.6" font-weight="bold" textLength="10.0" lengthAdjust="spacingAndGlyphs" transform="rotate(-90 108.7 1213.7)">10</text><text x="104.0" y="1203.7" font-family="Liberation Sans" font-size="6.5" font-weight="bold" textLength="3.6" lengthAdjust="spacingAndGlyphs" transform="rotate(-90 104.0 1203.7)">0</text><text x="106.3" y="1221.2" font-family="Liberation Sans" font-size="8.4" font-weight="bold" textLength="9.8" lengthAdjust="spacingAndGlyphs">10</text><text x="115.4" y="1216.5" font-family="Liberation Sans" font-size="6.6" font-weight="bold">0</text><text x="108.7" y="1189.7" font-family="Liberation Sans" font-size="8.6" font-weight="bold" textLength="10.0" lengthAdjust="spacingAndGlyphs" transform="rotate(-90 108.7 1189.7)">10</text><text x="104.0" y="1179.7" font-family="Liberation Sans" font-size="6.5" font-weight="bold" textLength="3.6" lengthAdjust="spacingAndGlyphs" transform="rotate(-90 104.0 1179.7)">1</text><text x="136.1" y="1221.2" font-family="Liberation Sans" font-size="8.4" font-weight="bold" textLength="9.8" lengthAdjust="spacingAndGlyphs">10</text><text x="145.2" y="1216.5" font-family="Liberation Sans" font-size="6.6" font-weight="bold">1</text><text x="108.7" y="1165.7" font-family="Liberation Sans" font-size="8.6" font-weight="bold" textLength="10.0" lengthAdjust="spacingAndGlyphs" transform="rotate(-90 108.7 1165.7)">10</text><text x="104.0" y="1155.7" font-family="Liberation Sans" font-size="6.5" font-weight="bold" textLength="3.6" lengthAdjust="spacingAndGlyphs" transform="rotate(-90 104.0 1155.7)">2</text><text x="165.9" y="1221.2" font-family="Liberation Sans" font-size="8.4" font-weight="bold" textLength="9.8" lengthAdjust="spacingAndGlyphs">10</text><text x="175.0" y="1216.5" font-family="Liberation Sans" font-size="6.6" font-weight="bold">2</text><text x="108.7" y="1141.7" font-family="Liberation Sans" font-size="8.6" font-weight="bold" textLength="10.0" lengthAdjust="spacingAndGlyphs" transform="rotate(-90 108.7 1141.7)">10</text><text x="104.0" y="1131.7" font-family="Liberation Sans" font-size="6.5" font-weight="bold" textLength="3.6" lengthAdjust="spacingAndGlyphs" transform="rotate(-90 104.0 1131.7)">3</text><text x="195.7" y="1221.2" font-family="Liberation Sans" font-size="8.4" font-weight="bold" textLength="9.8" lengthAdjust="spacingAndGlyphs">10</text><text x="204.8" y="1216.5" font-family="Liberation Sans" font-size="6.6" font-weight="bold">3</text><text x="108.7" y="1117.7" font-family="Liberation Sans" font-size="8.6" font-weight="bold" textLength="10.0" lengthAdjust="spacingAndGlyphs" transform="rotate(-90 108.7 1117.7)">10</text><text x="104.0" y="1107.7" font-family="Liberation Sans" font-size="6.5" font-weight="bold" textLength="3.6" lengthAdjust="spacingAndGlyphs" transform="rotate(-90 104.0 1107.7)">4</text><text x="225.5" y="1221.2" font-family="Liberation Sans" font-size="8.4" font-weight="bold" textLength="9.8" lengthAdjust="spacingAndGlyphs">10</text><text x="234.6" y="1216.5" font-family="Liberation Sans" font-size="6.6" font-weight="bold">4</text><text x="172.2" y="1234.1" font-family="Liberation Sans" font-size="8.0" text-anchor="middle" textLength="38.5" lengthAdjust="spacingAndGlyphs">EBVTET PE</text><text x="90.1" y="1160.5" font-family="Liberation Sans" font-size="6.5" text-anchor="middle" font-weight="bold" textLength="36.5" lengthAdjust="spacingAndGlyphs" transform="rotate(-90 90.1 1160.5)">CD8 PerCP</text><path d="M329 1129.5h1M333 1129.5h1M339 1130.5h1M332 1131.5h1M337 1131.5h1M329 1132.5h1M339 1132.5h1M345 1132.5h1M338 1133.5h1M342 1133.5h1M320 1134.5h1M333 1134.5h1M336 1134.5h1M340 1134.5h1M342 1134.5h2M328 1135.5h2M331 1135.5h9M341 1135.5h2M345 1135.5h1M319 1136.5h1M328 1136.5h2M331 1136.5h2M334 1136.5h2M337 1136.5h1M339 1136.5h3M343 1136.5h1M328 1137.5h1M330 1137.5h10M343 1137.5h2M346 1137.5h1M326 1138.5h1M329 1138.5h1M331 1138.5h1M333 1138.5h8M344 1138.5h1M313 1139.5h1M320 1139.5h1M331 1139.5h1M333 1139.5h16M362 1139.5h1M291 1140.5h1M316 1140.5h1M320 1140.5h1M327 1140.5h1M329 1140.5h12M342 1140.5h2M345 1140.5h1M365 1140.5h1M315 1141.5h1M324 1141.5h3M328 1141.5h17M356 1141.5h1M294 1142.5h1M301 1142.5h1M308 1142.5h1M310 1142.5h3M315 1142.5h1M319 1142.5h3M323 1142.5h1M327 1142.5h4M332 1142.5h13M348 1142.5h2M307 1143.5h1M316 1143.5h3M321 1143.5h3M325 1143.5h1M328 1143.5h15M344 1143.5h3M349 1143.5h1M360 1143.5h1M310 1144.5h2M313 1144.5h2M316 1144.5h1M318 1144.5h2M321 1144.5h2M324 1144.5h2M327 1144.5h11M339 1144.5h6M346 1144.5h1M349 1144.5h1M376 1144.5h1M301 1145.5h1M305 1145.5h1M307 1145.5h1M309 1145.5h1M311 1145.5h1M314 1145.5h2M319 1145.5h2M325 1145.5h11M337 1145.5h8M346 1145.5h3M292 1146.5h1M304 1146.5h1M306 1146.5h1M309 1146.5h1M311 1146.5h2M314 1146.5h1M317 1146.5h2M320 1146.5h5M327 1146.5h16M346 1146.5h1M366 1146.5h1M314 1147.5h3M319 1147.5h4M326 1147.5h6M333 1147.5h11M346 1147.5h2M298 1148.5h1M303 1148.5h1M311 1148.5h2M314 1148.5h1M319 1148.5h2M324 1148.5h17M343 1148.5h2M350 1148.5h2M302 1149.5h1M304 1149.5h1M308 1149.5h1M310 1149.5h1M313 1149.5h2M316 1149.5h1M318 1149.5h2M321 1149.5h1M323 1149.5h3M327 1149.5h4M332 1149.5h7M342 1149.5h1M344 1149.5h2M348 1149.5h1M351 1149.5h1M302 1150.5h1M309 1150.5h1M315 1150.5h1M318 1150.5h3M323 1150.5h1M326 1150.5h1M328 1150.5h9M338 1150.5h2M341 1150.5h3M345 1150.5h1M362 1150.5h1M308 1151.5h1M310 1151.5h2M314 1151.5h1M316 1151.5h3M320 1151.5h1M322 1151.5h1M324 1151.5h1M327 1151.5h4M332 1151.5h1M336 1151.5h1M338 1151.5h3M342 1151.5h3M350 1151.5h1M305 1152.5h1M312 1152.5h2M315 1152.5h1M317 1152.5h2M320 1152.5h1M322 1152.5h2M327 1152.5h1M330 1152.5h2M333 1152.5h6M344 1152.5h1M346 1152.5h1M362 1152.5h1M294 1153.5h1M307 1153.5h1M312 1153.5h1M317 1153.5h1M321 1153.5h1M323 1153.5h1M325 1153.5h4M330 1153.5h1M333 1153.5h2M336 1153.5h1M338 1153.5h1M343 1153.5h1M308 1154.5h1M316 1154.5h2M320 1154.5h1M322 1154.5h3M327 1154.5h5M335 1154.5h4M345 1154.5h1M361 1154.5h1M303 1155.5h1M307 1155.5h1M310 1155.5h1M312 1155.5h1M315 1155.5h1M320 1155.5h1M323 1155.5h2M327 1155.5h1M329 1155.5h1M332 1155.5h1M335 1155.5h1M337 1155.5h1M302 1156.5h1M304 1156.5h1M309 1156.5h1M311 1156.5h1M317 1156.5h1M319 1156.5h2M322 1156.5h2M325 1156.5h2M328 1156.5h1M330 1156.5h1M335 1156.5h1M338 1156.5h1M342 1156.5h1M345 1156.5h1M311 1157.5h1M314 1157.5h1M316 1157.5h1M324 1157.5h1M327 1157.5h1M332 1157.5h2M346 1157.5h2M350 1157.5h1M311 1158.5h1M313 1158.5h1M318 1158.5h1M329 1158.5h1M331 1158.5h3M336 1158.5h1M357 1158.5h1M299 1159.5h1M321 1159.5h1M324 1159.5h1M326 1159.5h1M334 1159.5h2M339 1159.5h1M342 1159.5h1M346 1159.5h1M352 1159.5h1M313 1160.5h2M322 1160.5h2M325 1160.5h1M329 1160.5h1M332 1160.5h1M334 1160.5h2M339 1160.5h1M342 1160.5h1M348 1160.5h1M320 1161.5h1M322 1161.5h2M325 1161.5h1M329 1161.5h1M341 1161.5h2M346 1161.5h1M355 1161.5h1M314 1162.5h1M317 1162.5h1M320 1162.5h1M324 1162.5h1M328 1162.5h2M331 1162.5h2M334 1162.5h4M339 1162.5h1M341 1162.5h1M344 1162.5h1M348 1162.5h1M319 1163.5h1M322 1163.5h1M324 1163.5h1M329 1163.5h3M334 1163.5h2M337 1163.5h1M341 1163.5h2M354 1163.5h1M317 1164.5h1M319 1164.5h1M328 1164.5h3M337 1164.5h3M345 1164.5h1M314 1165.5h1M316 1165.5h1M321 1165.5h2M324 1165.5h1M330 1165.5h2M334 1165.5h1M337 1165.5h2M340 1165.5h1M344 1165.5h1M310 1166.5h1M331 1166.5h1M333 1166.5h1M336 1166.5h1M340 1166.5h1M344 1166.5h2M314 1167.5h1M322 1167.5h1M325 1167.5h1M331 1167.5h1M333 1167.5h4M338 1167.5h2M341 1167.5h1M347 1167.5h1M321 1168.5h1M323 1168.5h1M326 1168.5h1M329 1168.5h1M332 1168.5h1M340 1168.5h1M309 1169.5h1M322 1169.5h1M336 1169.5h1M339 1169.5h1M343 1169.5h1M320 1170.5h1M324 1170.5h1M326 1170.5h2M337 1170.5h1M327 1171.5h2M337 1171.5h1M304 1172.5h1M322 1172.5h1M326 1172.5h1M328 1172.5h1M341 1172.5h1M343 1172.5h1M315 1173.5h1M326 1173.5h1M330 1173.5h1M332 1173.5h1M337 1173.5h1M340 1173.5h1M342 1173.5h1M339 1174.5h1M331 1175.5h1M344 1175.5h1M318 1176.5h1M327 1176.5h1M341 1176.5h1M313 1177.5h1M317 1177.5h1M331 1177.5h1M323 1178.5h1M341 1178.5h1M307 1179.5h1M341 1179.5h1M330 1180.5h1M347 1180.5h1M309 1181.5h1M337 1181.5h1" stroke="#000" stroke-width="1" fill="none"/><rect x="283.1" y="1113.2" width="120.5" height="95.59999999999991" fill="none" stroke="#000" stroke-width="1.5"/><line x1="360.5" y1="1113.2" x2="360.5" y2="1208.8" stroke="#222" stroke-width="1.2"/><line x1="283.1" y1="1181.5" x2="403.6" y2="1181.5" stroke="#222" stroke-width="1.2"/><line x1="283.1" y1="1208.8" x2="283.1" y2="1211.2" stroke="#000" stroke-width="0.8"/><line x1="292.17" y1="1208.8" x2="292.17" y2="1210.3999999999999" stroke="#000" stroke-width="0.8"/><line x1="297.47" y1="1208.8" x2="297.47" y2="1210.3999999999999" stroke="#000" stroke-width="0.8"/><line x1="301.24" y1="1208.8" x2="301.24" y2="1210.3999999999999" stroke="#000" stroke-width="0.8"/><line x1="304.16" y1="1208.8" x2="304.16" y2="1210.3999999999999" stroke="#000" stroke-width="0.8"/><line x1="306.54" y1="1208.8" x2="306.54" y2="1210.3999999999999" stroke="#000" stroke-width="0.8"/><line x1="308.56" y1="1208.8" x2="308.56" y2="1210.3999999999999" stroke="#000" stroke-width="0.8"/><line x1="310.31" y1="1208.8" x2="310.31" y2="1210.3999999999999" stroke="#000" stroke-width="0.8"/><line x1="311.85" y1="1208.8" x2="311.85" y2="1210.3999999999999" stroke="#000" stroke-width="0.8"/><line x1="313.23" y1="1208.8" x2="313.23" y2="1211.2" stroke="#000" stroke-width="0.8"/><line x1="322.29" y1="1208.8" x2="322.29" y2="1210.3999999999999" stroke="#000" stroke-width="0.8"/><line x1="327.6" y1="1208.8" x2="327.6" y2="1210.3999999999999" stroke="#000" stroke-width="0.8"/><line x1="331.36" y1="1208.8" x2="331.36" y2="1210.3999999999999" stroke="#000" stroke-width="0.8"/><line x1="334.28" y1="1208.8" x2="334.28" y2="1210.3999999999999" stroke="#000" stroke-width="0.8"/><line x1="336.67" y1="1208.8" x2="336.67" y2="1210.3999999999999" stroke="#000" stroke-width="0.8"/><line x1="338.68" y1="1208.8" x2="338.68" y2="1210.3999999999999" stroke="#000" stroke-width="0.8"/><line x1="340.43" y1="1208.8" x2="340.43" y2="1210.3999999999999" stroke="#000" stroke-width="0.8"/><line x1="341.97" y1="1208.8" x2="341.97" y2="1210.3999999999999" stroke="#000" stroke-width="0.8"/><line x1="343.35" y1="1208.8" x2="343.35" y2="1211.2" stroke="#000" stroke-width="0.8"/><line x1="352.42" y1="1208.8" x2="352.42" y2="1210.3999999999999" stroke="#000" stroke-width="0.8"/><line x1="357.72" y1="1208.8" x2="357.72" y2="1210.3999999999999" stroke="#000" stroke-width="0.8"/><line x1="361.49" y1="1208.8" x2="361.49" y2="1210.3999999999999" stroke="#000" stroke-width="0.8"/><line x1="364.41" y1="1208.8" x2="364.41" y2="1210.3999999999999" stroke="#000" stroke-width="0.8"/><line x1="366.79" y1="1208.8" x2="366.79" y2="1210.3999999999999" stroke="#000" stroke-width="0.8"/><line x1="368.81" y1="1208.8" x2="368.81" y2="1210.3999999999999" stroke="#000" stroke-width="0.8"/><line x1="370.56" y1="1208.8" x2="370.56" y2="1210.3999999999999" stroke="#000" stroke-width="0.8"/><line x1="372.1" y1="1208.8" x2="372.1" y2="1210.3999999999999" stroke="#000" stroke-width="0.8"/><line x1="373.48" y1="1208.8" x2="373.48" y2="1211.2" stroke="#000" stroke-width="0.8"/><line x1="382.54" y1="1208.8" x2="382.54" y2="1210.3999999999999" stroke="#000" stroke-width="0.8"/><line x1="387.85" y1="1208.8" x2="387.85" y2="1210.3999999999999" stroke="#000" stroke-width="0.8"/><line x1="391.61" y1="1208.8" x2="391.61" y2="1210.3999999999999" stroke="#000" stroke-width="0.8"/><line x1="394.53" y1="1208.8" x2="394.53" y2="1210.3999999999999" stroke="#000" stroke-width="0.8"/><line x1="396.92" y1="1208.8" x2="396.92" y2="1210.3999999999999" stroke="#000" stroke-width="0.8"/><line x1="398.93" y1="1208.8" x2="398.93" y2="1210.3999999999999" stroke="#000" stroke-width="0.8"/><line x1="400.68" y1="1208.8" x2="400.68" y2="1210.3999999999999" stroke="#000" stroke-width="0.8"/><line x1="402.22" y1="1208.8" x2="402.22" y2="1210.3999999999999" stroke="#000" stroke-width="0.8"/><line x1="283.1" y1="1208.8" x2="280.70000000000005" y2="1208.8" stroke="#000" stroke-width="0.8"/><line x1="283.1" y1="1201.61" x2="281.5" y2="1201.61" stroke="#000" stroke-width="0.8"/><line x1="283.1" y1="1197.4" x2="281.5" y2="1197.4" stroke="#000" stroke-width="0.8"/><line x1="283.1" y1="1194.41" x2="281.5" y2="1194.41" stroke="#000" stroke-width="0.8"/><line x1="283.1" y1="1192.09" x2="281.5" y2="1192.09" stroke="#000" stroke-width="0.8"/><line x1="283.1" y1="1190.2" x2="281.5" y2="1190.2" stroke="#000" stroke-width="0.8"/><line x1="283.1" y1="1188.6" x2="281.5" y2="1188.6" stroke="#000" stroke-width="0.8"/><line x1="283.1" y1="1187.22" x2="281.5" y2="1187.22" stroke="#000" stroke-width="0.8"/><line x1="283.1" y1="1185.99" x2="281.5" y2="1185.99" stroke="#000" stroke-width="0.8"/><line x1="283.1" y1="1184.9" x2="280.70000000000005" y2="1184.9" stroke="#000" stroke-width="0.8"/><line x1="283.1" y1="1177.71" x2="281.5" y2="1177.71" stroke="#000" stroke-width="0.8"/><line x1="283.1" y1="1173.5" x2="281.5" y2="1173.5" stroke="#000" stroke-width="0.8"/><line x1="283.1" y1="1170.51" x2="281.5" y2="1170.51" stroke="#000" stroke-width="0.8"/><line x1="283.1" y1="1168.19" x2="281.5" y2="1168.19" stroke="#000" stroke-width="0.8"/><line x1="283.1" y1="1166.3" x2="281.5" y2="1166.3" stroke="#000" stroke-width="0.8"/><line x1="283.1" y1="1164.7" x2="281.5" y2="1164.7" stroke="#000" stroke-width="0.8"/><line x1="283.1" y1="1163.32" x2="281.5" y2="1163.32" stroke="#000" stroke-width="0.8"/><line x1="283.1" y1="1162.09" x2="281.5" y2="1162.09" stroke="#000" stroke-width="0.8"/><line x1="283.1" y1="1161.0" x2="280.70000000000005" y2="1161.0" stroke="#000" stroke-width="0.8"/><line x1="283.1" y1="1153.81" x2="281.5" y2="1153.81" stroke="#000" stroke-width="0.8"/><line x1="283.1" y1="1149.6" x2="281.5" y2="1149.6" stroke="#000" stroke-width="0.8"/><line x1="283.1" y1="1146.61" x2="281.5" y2="1146.61" stroke="#000" stroke-width="0.8"/><line x1="283.1" y1="1144.29" x2="281.5" y2="1144.29" stroke="#000" stroke-width="0.8"/><line x1="283.1" y1="1142.4" x2="281.5" y2="1142.4" stroke="#000" stroke-width="0.8"/><line x1="283.1" y1="1140.8" x2="281.5" y2="1140.8" stroke="#000" stroke-width="0.8"/><line x1="283.1" y1="1139.42" x2="281.5" y2="1139.42" stroke="#000" stroke-width="0.8"/><line x1="283.1" y1="1138.19" x2="281.5" y2="1138.19" stroke="#000" stroke-width="0.8"/><line x1="283.1" y1="1137.1" x2="280.70000000000005" y2="1137.1" stroke="#000" stroke-width="0.8"/><line x1="283.1" y1="1129.91" x2="281.5" y2="1129.91" stroke="#000" stroke-width="0.8"/><line x1="283.1" y1="1125.7" x2="281.5" y2="1125.7" stroke="#000" stroke-width="0.8"/><line x1="283.1" y1="1122.71" x2="281.5" y2="1122.71" stroke="#000" stroke-width="0.8"/><line x1="283.1" y1="1120.39" x2="281.5" y2="1120.39" stroke="#000" stroke-width="0.8"/><line x1="283.1" y1="1118.5" x2="281.5" y2="1118.5" stroke="#000" stroke-width="0.8"/><line x1="283.1" y1="1116.9" x2="281.5" y2="1116.9" stroke="#000" stroke-width="0.8"/><line x1="283.1" y1="1115.52" x2="281.5" y2="1115.52" stroke="#000" stroke-width="0.8"/><line x1="283.1" y1="1114.29" x2="281.5" y2="1114.29" stroke="#000" stroke-width="0.8"/><text x="356.5" y="1124.1" font-family="Liberation Serif" font-size="10" text-anchor="end" font-weight="bold">99%</text><text x="401.0" y="1124.1" font-family="Liberation Serif" font-size="10" text-anchor="end" font-weight="bold">1%</text><text x="279.1" y="1214.4" font-family="Liberation Sans" font-size="8.6" font-weight="bold" textLength="10.0" lengthAdjust="spacingAndGlyphs" transform="rotate(-90 279.1 1214.4)">10</text><text x="274.4" y="1204.4" font-family="Liberation Sans" font-size="6.5" font-weight="bold" textLength="3.6" lengthAdjust="spacingAndGlyphs" transform="rotate(-90 274.4 1204.4)">0</text><text x="276.7" y="1222.3" font-family="Liberation Sans" font-size="8.4" font-weight="bold" textLength="9.8" lengthAdjust="spacingAndGlyphs">10</text><text x="285.8" y="1217.6" font-family="Liberation Sans" font-size="6.6" font-weight="bold">0</text><text x="279.1" y="1190.5" font-family="Liberation Sans" font-size="8.6" font-weight="bold" textLength="10.0" lengthAdjust="spacingAndGlyphs" transform="rotate(-90 279.1 1190.5)">10</text><text x="274.4" y="1180.5" font-family="Liberation Sans" font-size="6.5" font-weight="bold" textLength="3.6" lengthAdjust="spacingAndGlyphs" transform="rotate(-90 274.4 1180.5)">1</text><text x="306.83" y="1222.3" font-family="Liberation Sans" font-size="8.4" font-weight="bold" textLength="9.8" lengthAdjust="spacingAndGlyphs">10</text><text x="315.93" y="1217.6" font-family="Liberation Sans" font-size="6.6" font-weight="bold">1</text><text x="279.1" y="1166.6" font-family="Liberation Sans" font-size="8.6" font-weight="bold" textLength="10.0" lengthAdjust="spacingAndGlyphs" transform="rotate(-90 279.1 1166.6)">10</text><text x="274.4" y="1156.6" font-family="Liberation Sans" font-size="6.5" font-weight="bold" textLength="3.6" lengthAdjust="spacingAndGlyphs" transform="rotate(-90 274.4 1156.6)">2</text><text x="336.95" y="1222.3" font-family="Liberation Sans" font-size="8.4" font-weight="bold" textLength="9.8" lengthAdjust="spacingAndGlyphs">10</text><text x="346.05" y="1217.6" font-family="Liberation Sans" font-size="6.6" font-weight="bold">2</text><text x="279.1" y="1142.7" font-family="Liberation Sans" font-size="8.6" font-weight="bold" textLength="10.0" lengthAdjust="spacingAndGlyphs" transform="rotate(-90 279.1 1142.7)">10</text><text x="274.4" y="1132.7" font-family="Liberation Sans" font-size="6.5" font-weight="bold" textLength="3.6" lengthAdjust="spacingAndGlyphs" transform="rotate(-90 274.4 1132.7)">3</text><text x="367.08" y="1222.3" font-family="Liberation Sans" font-size="8.4" font-weight="bold" textLength="9.8" lengthAdjust="spacingAndGlyphs">10</text><text x="376.18" y="1217.6" font-family="Liberation Sans" font-size="6.6" font-weight="bold">3</text><text x="279.1" y="1118.8" font-family="Liberation Sans" font-size="8.6" font-weight="bold" textLength="10.0" lengthAdjust="spacingAndGlyphs" transform="rotate(-90 279.1 1118.8)">10</text><text x="274.4" y="1108.8" font-family="Liberation Sans" font-size="6.5" font-weight="bold" textLength="3.6" lengthAdjust="spacingAndGlyphs" transform="rotate(-90 274.4 1108.8)">4</text><text x="397.2" y="1222.3" font-family="Liberation Sans" font-size="8.4" font-weight="bold" textLength="9.8" lengthAdjust="spacingAndGlyphs">10</text><text x="406.3" y="1217.6" font-family="Liberation Sans" font-size="6.6" font-weight="bold">4</text><text x="342.7" y="1235.8" font-family="Liberation Sans" font-size="7.2" text-anchor="middle" textLength="37.5" lengthAdjust="spacingAndGlyphs">EBVTET PE</text><text x="255" y="1162" font-family="Liberation Sans" font-size="6.5" text-anchor="middle" font-weight="bold" textLength="33" lengthAdjust="spacingAndGlyphs" transform="rotate(-90 255 1162)">CD8 PerCP</text></svg></body></html>
